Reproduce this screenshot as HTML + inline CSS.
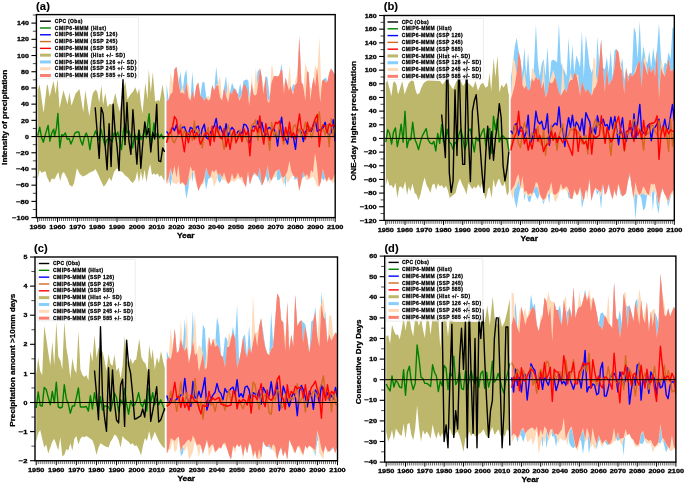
<!DOCTYPE html>
<html><head><meta charset="utf-8"><style>html,body{margin:0;padding:0;background:#fff;}svg{display:block;filter:blur(0.4px);}</style></head><body>
<svg width="685" height="484" viewBox="0 0 685 484" font-family='&quot;Liberation Sans&quot;, sans-serif'>
<rect width="685" height="484" fill="#fff"/>
<clipPath id="clipa"><rect x="36.4" y="14.6" width="298.8" height="203.0"/></clipPath>
<g clip-path="url(#clipa)">
<polygon points="37.7,89.6 37.8,89.6 39.6,84.5 43.6,113.0 46.9,85.2 47.7,84.5 49.6,96.9 53.5,80.8 55.6,94.0 57.6,78.6 59.5,108.6 63.4,90.3 67.5,104.2 69.4,92.5 71.5,105.7 75.4,94.0 79.4,88.9 83.3,112.2 85.3,90.3 89.3,116.6 92.0,97.2 93.1,92.8 95.9,89.4 97.5,92.8 99.2,102.7 101.4,85.0 103.1,105.0 105.3,92.8 107.5,107.2 109.8,103.8 112.5,105.0 115.3,92.8 117.5,103.8 119.7,111.6 122.0,93.9 125.3,81.7 127.5,99.4 130.8,93.9 133.1,91.6 135.3,87.2 137.5,93.9 139.2,88.3 140.8,102.7 142.5,113.8 145.3,82.8 147.5,99.4 148.8,68.9 150.8,92.8 152.8,72.2 155.2,101.6 158.6,100.0 159.7,101.6 162.5,84.4 164.6,98.6 164.6,180.6 163.2,178.8 161.3,175.1 159.5,176.9 157.6,173.2 155.7,175.1 153.9,173.2 152.0,175.1 150.2,163.9 148.3,171.3 146.4,182.5 144.6,169.5 142.7,180.6 140.9,171.3 139.0,182.5 137.2,171.3 135.4,179.3 132.7,183.1 130.8,181.2 128.0,177.5 125.2,175.6 122.4,171.9 119.6,171.0 116.9,168.2 114.1,171.9 111.3,181.2 109.4,177.5 106.6,183.1 103.8,186.8 101.1,181.2 98.3,174.7 95.5,169.1 93.6,171.0 90.8,171.9 88.0,173.8 85.3,175.6 82.5,176.6 79.7,173.8 76.9,168.2 74.1,183.1 72.2,186.8 69.5,184.9 67.6,179.3 65.7,175.6 63.9,171.9 62.0,173.8 60.2,181.2 58.3,171.9 56.4,175.6 54.6,179.3 51.8,178.4 49.9,183.1 47.2,177.5 45.3,171.0 43.4,171.9 41.6,172.8 39.7,170.1 37.7,179.2" fill="#bdb76b"/>
<polygon points="166.6,83.4 168.6,99.8 170.6,94.1 172.6,92.0 174.6,69.3 176.5,67.1 178.5,82.7 180.5,71.8 182.5,92.5 184.4,75.9 186.4,69.3 188.4,97.5 190.4,100.5 192.4,71.8 194.4,98.8 196.4,85.8 198.4,82.8 200.3,95.8 202.3,82.5 204.3,81.7 206.3,97.5 208.3,100.7 210.2,98.8 212.2,85.1 214.2,90.7 216.2,66.8 218.2,85.2 220.2,97.5 222.1,100.5 224.1,87.6 226.1,75.9 228.1,102.2 230.1,92.5 232.0,82.5 234.1,88.4 236.0,89.2 238.0,95.6 240.1,83.4 242.0,92.3 243.4,80.9 246.7,79.2 248.4,80.9 249.9,99.4 251.9,84.7 253.9,94.6 255.9,94.9 257.5,71.8 259.8,68.9 261.8,78.1 263.8,90.2 265.8,75.9 267.4,77.6 269.8,97.4 271.7,82.0 273.7,76.7 275.7,75.9 277.7,76.6 279.7,73.9 281.5,63.5 283.6,89.6 285.6,77.7 287.6,85.6 289.6,88.7 291.6,89.6 293.0,84.2 295.5,84.7 297.5,74.7 299.5,40.1 301.5,82.7 303.5,87.7 305.4,100.2 307.4,71.3 309.4,84.3 311.4,91.5 313.4,79.1 315.4,85.5 317.3,71.3 319.3,91.8 321.3,89.1 323.3,79.5 326.1,77.6 327.3,81.4 329.2,73.3 331.2,68.8 333.2,72.0 335.2,74.3 335.2,173.9 333.2,177.8 331.2,180.1 329.2,177.5 327.3,180.6 325.3,177.7 323.5,180.5 321.5,177.4 319.3,185.9 317.3,169.2 315.4,155.2 313.4,168.8 311.4,170.4 309.4,177.5 307.4,174.8 305.4,176.1 303.2,177.2 301.5,180.2 299.5,189.6 297.5,178.6 294.6,179.8 293.6,175.6 291.6,171.8 289.6,162.0 287.6,170.1 285.4,187.0 283.6,177.6 281.6,176.6 279.5,179.8 277.5,180.5 275.7,171.2 273.7,175.0 271.7,180.2 269.8,178.0 267.7,182.4 265.8,174.8 263.8,181.6 261.8,185.6 259.8,180.5 257.9,176.4 255.9,173.9 253.2,175.2 251.9,177.9 249.9,184.2 247.9,171.6 245.9,186.9 244.0,183.1 242.0,176.5 239.9,179.8 238.0,172.9 236.0,177.6 234.1,179.1 232.1,173.4 230.1,181.6 228.1,183.7 226.1,179.2 224.1,172.6 222.1,177.8 220.0,183.1 218.1,180.5 216.2,169.6 214.2,172.5 212.2,170.1 210.2,177.6 208.2,179.2 206.2,189.7 204.3,177.7 202.3,183.1 200.3,185.7 198.4,190.9 196.4,182.2 194.4,170.5 192.3,181.8 190.4,166.2 188.4,188.4 186.4,198.9 184.5,184.4 182.5,182.0 180.5,184.2 178.5,165.9 176.5,177.1 174.6,166.0 172.6,174.8 170.5,186.4 168.6,177.5 166.6,183.0" fill="#87cefa"/>
<polygon points="166.6,100.7 168.6,99.8 170.5,71.8 172.5,83.4 174.6,69.3 176.5,67.1 178.5,77.6 180.5,93.3 182.4,84.2 184.5,93.9 186.4,82.8 188.4,84.2 190.4,100.5 192.4,91.0 194.4,98.8 196.3,85.0 198.4,82.8 200.3,95.8 202.3,97.5 204.3,100.7 206.3,97.5 208.2,95.8 210.2,98.8 212.2,85.1 214.2,90.7 216.2,85.8 218.1,82.5 220.1,75.9 222.1,100.5 224.1,87.6 226.1,95.9 228.1,80.9 230.1,92.5 232.1,94.0 234.1,88.4 236.0,91.5 238.0,95.6 240.0,99.3 242.0,92.3 244.0,84.8 245.9,86.5 247.9,94.1 249.9,99.4 251.7,75.1 253.9,94.6 255.8,67.7 257.9,85.8 259.8,68.9 261.8,78.1 263.8,90.2 265.8,76.4 267.8,101.3 269.8,97.4 271.5,65.2 272.4,66.0 273.7,76.7 275.7,75.9 277.7,76.6 279.7,73.9 281.6,70.0 283.6,89.6 285.6,77.7 287.6,85.6 289.7,65.2 291.6,89.6 293.6,92.1 295.5,79.2 297.5,74.7 299.5,40.1 301.5,82.7 303.5,87.7 305.4,61.9 307.4,71.3 309.4,84.3 311.4,91.5 313.4,79.1 315.3,64.4 317.3,71.3 319.5,37.1 321.3,89.1 323.3,79.5 325.3,81.5 327.3,81.4 329.2,73.3 331.2,68.8 333.2,72.0 335.2,74.3 335.2,181.8 334.7,181.8 333.2,182.8 332.7,183.1 331.2,181.1 330.7,180.5 329.2,179.5 328.8,179.2 327.3,181.2 326.8,181.8 325.3,180.8 324.8,176.5 323.3,170.4 322.9,168.6 321.3,179.0 320.9,181.8 319.3,185.9 318.9,187.0 317.3,186.0 316.9,185.7 315.4,181.5 315.0,180.5 313.4,177.3 313.0,176.5 311.4,177.6 311.0,177.8 309.4,178.9 309.1,179.2 307.4,180.2 307.1,180.5 305.4,178.3 305.1,177.8 303.5,172.1 303.2,171.3 301.5,182.3 301.2,183.1 299.5,189.8 299.2,191.0 297.5,178.6 297.2,176.5 295.5,177.7 295.3,177.8 293.6,175.6 293.3,175.2 291.6,177.0 291.3,176.5 289.6,180.0 289.4,180.5 287.6,182.8 287.4,183.1 285.6,174.8 285.4,175.2 283.6,184.7 283.4,184.4 281.6,179.6 281.5,179.2 279.7,169.9 279.5,169.3 277.7,169.9 277.5,170.0 275.7,178.0 275.6,177.8 273.7,176.6 273.6,176.5 271.7,180.2 271.6,180.5 269.8,184.2 269.6,184.4 267.8,165.9 267.7,165.4 265.8,176.7 265.7,176.5 263.8,181.6 263.7,181.8 261.8,185.6 261.8,185.7 259.8,167.7 259.8,167.3 257.9,176.5 257.8,176.5 255.9,176.5 255.9,176.5 253.9,172.6 253.9,172.6 251.9,177.8 251.9,177.9 249.9,184.4 249.9,184.3 248.0,172.6 247.9,172.9 245.9,186.9 245.9,187.0 244.0,183.1 244.0,183.1 242.0,181.8 242.0,181.8 240.0,177.8 239.9,177.8 238.0,178.5 237.9,178.5 236.0,180.4 235.9,180.5 234.1,181.7 234.0,181.8 232.1,180.5 232.0,180.5 230.1,182.4 230.0,182.4 228.1,184.4 228.1,184.4 226.1,181.8 226.1,181.8 224.1,179.2 224.1,179.2 222.1,180.5 222.1,180.5 220.2,173.5 220.0,173.2 218.2,175.1 218.1,175.2 216.2,181.9 216.1,181.8 214.2,186.8 214.1,187.0 212.2,178.2 212.2,177.8 210.2,177.8 210.2,177.8 208.3,174.0 208.2,173.9 206.3,167.5 206.2,167.3 204.3,183.2 204.3,183.1 202.3,184.4 202.3,184.4 200.3,187.0 200.3,187.1 198.4,191.0 198.4,190.9 196.4,183.5 196.3,183.1 194.4,178.1 194.3,177.8 192.4,171.2 192.3,171.3 190.4,181.8 190.4,181.8 188.4,177.5 188.4,177.8 186.4,185.6 186.4,185.7 184.5,185.3 184.4,185.1 182.5,183.2 182.3,183.1 180.5,184.3 180.4,184.4 178.5,182.0 178.4,181.8 176.5,184.3 176.4,184.4 174.6,183.2 174.5,183.1 172.6,183.1 172.5,183.1 170.6,168.3 170.5,168.0 168.6,183.2 168.5,183.1 166.6,184.4" fill="#ffdab9"/>
<polygon points="166.6,100.7 168.6,99.9 170.5,94.1 172.5,92.5 174.5,69.3 176.5,66.8 178.5,82.5 180.5,93.3 182.4,92.5 184.4,94.1 186.4,82.5 188.4,97.4 190.4,100.7 192.4,90.8 194.3,99.1 196.3,85.9 198.3,82.5 200.3,95.8 202.3,97.4 204.3,100.7 206.2,97.4 208.2,100.7 210.2,99.1 212.2,85.0 214.2,90.8 216.2,85.9 218.1,85.0 220.1,97.4 222.1,100.7 224.1,87.5 226.1,95.8 228.1,102.4 230.0,92.5 232.0,94.1 234.0,88.3 237.7,94.1 239.3,100.7 241.0,97.4 243.4,85.0 245.1,84.2 247.6,90.8 249.2,105.7 251.7,83.4 253.4,94.1 255.0,95.8 256.7,94.1 258.3,82.5 260.0,67.7 261.6,75.9 263.3,94.1 265.8,75.9 267.4,100.7 269.1,103.2 271.5,82.5 274.0,75.9 275.7,75.9 277.3,76.8 279.0,75.9 280.6,71.0 282.3,69.3 283.9,94.1 285.6,77.6 287.2,84.2 288.9,90.8 290.5,85.9 293.0,94.9 294.7,85.9 297.2,82.5 299.3,35.4 301.3,82.5 302.9,84.2 305.4,100.7 307.1,71.0 308.7,72.6 310.4,100.7 312.0,85.9 313.7,77.6 315.3,85.9 317.0,67.7 318.6,84.2 320.3,102.4 322.0,80.9 323.6,79.2 326.1,82.5 327.7,80.9 329.4,72.6 331.0,68.5 332.7,71.0 334.3,74.3 335.2,74.3 335.2,173.9 334.7,173.9 332.7,179.2 330.7,180.5 328.8,176.5 326.8,181.8 324.8,176.5 322.9,168.6 320.9,181.8 318.9,187.0 316.9,164.7 315.0,152.9 313.0,172.6 311.0,170.0 309.1,179.2 307.1,173.9 305.1,176.5 303.2,171.3 301.2,181.8 299.2,191.0 297.2,176.5 295.3,177.8 293.3,175.2 291.3,171.3 289.4,160.8 287.4,171.3 285.4,175.2 283.4,177.8 281.5,176.5 279.5,169.3 277.5,170.0 275.6,171.3 273.6,175.2 271.6,180.5 269.6,177.8 267.7,165.4 265.7,175.2 263.7,181.8 261.8,185.7 259.8,167.3 257.8,176.5 255.9,173.9 253.9,172.6 251.9,177.8 249.9,184.4 248.0,171.3 245.9,187.0 244.0,183.1 242.0,176.5 239.9,177.8 237.9,172.6 235.9,177.8 234.0,179.2 232.0,173.2 230.0,181.8 228.1,183.8 226.1,179.2 224.1,172.6 222.1,177.8 220.0,173.2 218.1,175.2 216.1,169.3 214.1,172.6 212.2,170.0 210.2,177.8 208.2,173.9 206.2,167.3 204.3,177.8 202.3,183.1 200.3,185.7 198.4,191.0 196.3,181.8 194.3,170.0 192.3,171.3 190.4,166.0 188.4,177.8 186.4,185.7 184.4,184.4 182.3,181.8 180.4,184.4 178.4,164.7 176.4,177.8 174.5,165.4 172.5,175.2 170.5,168.0 168.5,177.8 166.6,183.0" fill="#fa8072"/>
<polyline points="37.7,135.6 39.7,127.3 41.6,137.5 43.4,142.2 45.3,134.7 48.1,125.4 49.9,141.2 51.8,132.9 53.7,129.2 54.6,136.6 56.4,128.2 57.9,113.4 59.8,147.8 61.7,134.7 63.5,135.7 65.4,132.9 67.2,139.4 69.1,138.5 70.9,144.0 72.8,139.4 75.0,132.9 76.9,132.0 78.8,132.0 80.6,140.3 82.5,145.0 84.3,137.5 86.2,132.9 88.0,137.5 89.9,149.6 91.8,136.6 93.6,136.6 95.5,131.0 97.3,135.7 99.2,140.3 101.1,129.2 102.9,137.5 104.8,145.0 106.6,140.3 108.5,138.5 110.3,139.4 112.2,142.2 114.1,132.9 115.9,136.6 117.8,132.0 119.6,140.3 121.5,149.6 123.4,131.0 125.2,123.6 127.1,132.9 128.9,131.0 130.8,136.6 132.7,147.8 134.5,134.7 137.2,139.7 139.0,130.4 140.9,139.7 142.7,136.0 144.6,128.6 146.4,137.9 148.3,119.3 149.2,113.7 151.1,145.3 153.0,132.3 153.9,123.0 155.7,136.0 157.6,133.2 159.5,137.9 161.3,134.2 163.2,138.8 164.6,136.1" fill="none" stroke="#008000" stroke-width="1.4" stroke-opacity="1.0" stroke-linejoin="round"/>
<polyline points="166.6,131.3 168.6,134.5 170.6,131.3 172.5,127.4 174.5,130.6 176.5,124.8 178.5,133.8 180.5,130.0 182.5,127.4 184.4,126.8 186.4,132.6 188.4,134.5 190.4,127.4 192.4,128.7 194.4,132.6 196.3,127.4 198.3,126.1 200.3,137.7 202.3,128.7 204.3,124.2 206.3,137.7 208.2,139.0 210.2,132.6 212.2,130.0 214.2,126.1 216.2,118.4 218.2,131.3 220.1,126.1 222.1,131.3 224.1,135.1 226.1,123.6 228.1,136.4 230.1,130.6 232.0,127.4 234.0,130.0 236.0,135.1 238.0,131.3 240.0,131.3 242.0,133.8 243.9,124.2 245.9,124.8 247.9,128.7 249.9,142.8 251.9,127.4 253.9,126.1 255.8,127.4 257.8,121.0 259.8,130.0 261.8,122.3 263.8,131.3 265.8,135.1 267.7,128.7 269.7,127.4 271.7,130.0 273.7,128.7 275.7,132.6 277.6,146.0 279.6,128.7 281.6,117.1 283.6,135.1 285.6,139.0 287.6,144.1 289.5,128.7 291.5,135.1 293.5,137.7 295.5,149.3 297.5,130.0 299.5,130.0 301.4,132.6 303.4,141.5 305.4,131.3 307.4,131.3 309.4,127.4 311.4,131.3 313.3,124.8 315.3,119.7 317.3,131.3 319.3,130.0 321.3,130.0 323.3,127.4 325.2,122.3 327.2,132.6 329.2,135.1 331.2,132.6 333.2,119.7 335.2,141.5 335.2,141.5" fill="none" stroke="#0000ff" stroke-width="1.4" stroke-opacity="1.0" stroke-linejoin="round"/>
<polyline points="166.6,141.5 168.6,139.0 170.6,128.7 172.5,140.3 174.5,142.8 176.5,137.7 178.5,133.8 180.5,124.8 182.5,137.7 184.4,130.0 186.4,137.7 188.4,132.6 190.4,133.8 192.4,140.3 194.4,121.0 196.3,137.7 198.3,130.0 200.3,133.8 202.3,148.0 204.3,132.6 206.3,133.8 208.2,127.4 210.2,141.5 212.2,133.8 214.2,140.3 216.2,131.3 218.2,128.7 220.1,135.1 222.1,137.7 224.1,149.3 226.1,139.0 228.1,124.8 230.1,131.3 232.0,141.5 234.0,133.8 236.0,132.6 238.0,139.0 240.0,130.0 242.0,141.5 243.9,135.1 245.9,137.7 247.9,142.8 249.9,137.7 251.9,124.8 253.9,123.6 255.8,119.7 257.8,140.3 259.8,128.7 261.8,132.6 263.8,137.7 265.8,128.7 267.7,136.4 269.7,150.5 271.7,122.3 273.7,136.4 275.7,131.3 277.6,137.7 279.6,124.8 281.6,135.1 283.6,144.1 285.6,131.3 287.6,137.7 289.5,127.4 291.5,136.4 293.5,126.1 295.5,124.8 297.5,133.8 299.5,128.7 301.4,136.4 303.4,131.3 305.4,122.3 307.4,135.1 309.4,126.1 311.4,137.7 313.3,132.6 315.3,119.7 317.3,122.3 319.3,112.0 321.3,131.3 323.3,128.7 325.2,135.1 327.2,124.8 329.2,146.7 331.2,118.4 333.2,136.4 335.2,124.8 335.2,124.8" fill="none" stroke="#d2691e" stroke-width="1.4" stroke-opacity="1.0" stroke-linejoin="round"/>
<polyline points="166.6,142.8 168.6,133.8 170.6,132.6 172.5,127.4 174.5,116.5 176.5,119.7 178.5,133.8 180.5,130.0 182.5,140.3 184.4,151.8 186.4,132.6 188.4,142.8 190.4,132.6 192.4,130.0 194.4,139.0 196.3,132.6 198.3,135.1 200.3,144.1 202.3,140.3 204.3,135.1 206.3,132.6 208.2,133.8 210.2,145.4 212.2,126.1 214.2,141.5 216.2,125.5 218.2,132.6 220.1,137.7 222.1,139.0 224.1,128.7 226.1,146.7 228.1,137.7 230.1,149.3 232.0,135.1 234.0,130.0 236.0,142.8 238.0,137.7 240.0,132.6 242.0,141.5 243.9,128.7 245.9,135.1 247.9,131.3 249.9,155.7 251.9,130.0 253.9,131.3 255.8,126.1 257.8,132.6 259.8,115.9 261.8,133.8 263.8,144.1 265.8,123.6 267.7,132.6 269.7,140.3 271.7,131.3 273.7,128.7 275.7,122.3 277.6,123.6 279.6,121.0 281.6,132.6 283.6,140.3 285.6,127.4 287.6,135.1 289.5,122.3 291.5,137.7 293.5,132.6 295.5,139.0 297.5,127.4 299.5,113.9 301.4,128.7 303.4,131.3 305.4,139.0 307.4,122.3 309.4,131.3 311.4,130.0 313.3,124.8 315.3,118.4 317.3,114.6 319.3,146.7 321.3,128.7 323.3,124.8 325.2,126.1 327.2,132.6 329.2,123.6 331.2,126.1 333.2,124.8 335.2,126.1 335.2,126.1" fill="none" stroke="#ff0000" stroke-width="1.4" stroke-opacity="1.0" stroke-linejoin="round"/>
<polyline points="95.2,107.4 97.2,132.5 99.2,158.4 101.2,107.4 103.2,113.9 105.1,144.7 107.1,169.8 109.1,123.6 111.1,166.5 113.1,104.1 115.0,130.1 117.0,146.3 119.0,170.6 121.0,120.4 123.0,79.8 125.0,144.7 127.0,102.5 128.9,140.6 130.9,154.4 132.9,109.8 134.9,138.2 136.9,164.1 138.9,130.1 140.8,168.2 142.8,143.0 144.8,122.0 146.8,134.9 148.8,128.5 150.8,152.0 152.7,132.5 154.7,139.0 156.7,104.1 158.7,160.9 160.7,161.7 162.7,147.9 164.6,152.0" fill="none" stroke="#000000" stroke-width="1.4" stroke-opacity="1.0" stroke-linejoin="round"/>
<line x1="36.4" x2="335.2" y1="136.6" y2="136.6" stroke="#000" stroke-width="1"/>
</g>
<line x1="31.4" x2="36.4" y1="217.60" y2="217.60" stroke="#000" stroke-width="1.1"/>
<text x="28.90" y="219.75" font-size="6.10" font-weight="bold" text-anchor="end" textLength="16.6" lengthAdjust="spacingAndGlyphs" stroke="#000" stroke-width="0.30" >−100</text>
<line x1="32.8" x2="36.4" y1="209.50" y2="209.50" stroke="#000" stroke-width="0.7"/>
<line x1="31.4" x2="36.4" y1="201.39" y2="201.39" stroke="#000" stroke-width="1.1"/>
<text x="28.90" y="203.54" font-size="6.10" font-weight="bold" text-anchor="end" textLength="12.7" lengthAdjust="spacingAndGlyphs" stroke="#000" stroke-width="0.30" >−80</text>
<line x1="32.8" x2="36.4" y1="193.29" y2="193.29" stroke="#000" stroke-width="0.7"/>
<line x1="31.4" x2="36.4" y1="185.18" y2="185.18" stroke="#000" stroke-width="1.1"/>
<text x="28.90" y="187.33" font-size="6.10" font-weight="bold" text-anchor="end" textLength="12.7" lengthAdjust="spacingAndGlyphs" stroke="#000" stroke-width="0.30" >−60</text>
<line x1="32.8" x2="36.4" y1="177.08" y2="177.08" stroke="#000" stroke-width="0.7"/>
<line x1="31.4" x2="36.4" y1="168.98" y2="168.98" stroke="#000" stroke-width="1.1"/>
<text x="28.90" y="171.13" font-size="6.10" font-weight="bold" text-anchor="end" textLength="12.7" lengthAdjust="spacingAndGlyphs" stroke="#000" stroke-width="0.30" >−40</text>
<line x1="32.8" x2="36.4" y1="160.87" y2="160.87" stroke="#000" stroke-width="0.7"/>
<line x1="31.4" x2="36.4" y1="152.77" y2="152.77" stroke="#000" stroke-width="1.1"/>
<text x="28.90" y="154.92" font-size="6.10" font-weight="bold" text-anchor="end" textLength="12.7" lengthAdjust="spacingAndGlyphs" stroke="#000" stroke-width="0.30" >−20</text>
<line x1="32.8" x2="36.4" y1="144.67" y2="144.67" stroke="#000" stroke-width="0.7"/>
<line x1="31.4" x2="36.4" y1="136.56" y2="136.56" stroke="#000" stroke-width="1.1"/>
<text x="28.90" y="138.71" font-size="6.10" font-weight="bold" text-anchor="end" textLength="3.9" lengthAdjust="spacingAndGlyphs" stroke="#000" stroke-width="0.30" >0</text>
<line x1="32.8" x2="36.4" y1="128.46" y2="128.46" stroke="#000" stroke-width="0.7"/>
<line x1="31.4" x2="36.4" y1="120.35" y2="120.35" stroke="#000" stroke-width="1.1"/>
<text x="28.90" y="122.50" font-size="6.10" font-weight="bold" text-anchor="end" textLength="7.9" lengthAdjust="spacingAndGlyphs" stroke="#000" stroke-width="0.30" >20</text>
<line x1="32.8" x2="36.4" y1="112.25" y2="112.25" stroke="#000" stroke-width="0.7"/>
<line x1="31.4" x2="36.4" y1="104.15" y2="104.15" stroke="#000" stroke-width="1.1"/>
<text x="28.90" y="106.30" font-size="6.10" font-weight="bold" text-anchor="end" textLength="7.9" lengthAdjust="spacingAndGlyphs" stroke="#000" stroke-width="0.30" >40</text>
<line x1="32.8" x2="36.4" y1="96.04" y2="96.04" stroke="#000" stroke-width="0.7"/>
<line x1="31.4" x2="36.4" y1="87.94" y2="87.94" stroke="#000" stroke-width="1.1"/>
<text x="28.90" y="90.09" font-size="6.10" font-weight="bold" text-anchor="end" textLength="7.9" lengthAdjust="spacingAndGlyphs" stroke="#000" stroke-width="0.30" >60</text>
<line x1="32.8" x2="36.4" y1="79.84" y2="79.84" stroke="#000" stroke-width="0.7"/>
<line x1="31.4" x2="36.4" y1="71.73" y2="71.73" stroke="#000" stroke-width="1.1"/>
<text x="28.90" y="73.88" font-size="6.10" font-weight="bold" text-anchor="end" textLength="7.9" lengthAdjust="spacingAndGlyphs" stroke="#000" stroke-width="0.30" >80</text>
<line x1="32.8" x2="36.4" y1="63.63" y2="63.63" stroke="#000" stroke-width="0.7"/>
<line x1="31.4" x2="36.4" y1="55.52" y2="55.52" stroke="#000" stroke-width="1.1"/>
<text x="28.90" y="57.67" font-size="6.10" font-weight="bold" text-anchor="end" textLength="11.8" lengthAdjust="spacingAndGlyphs" stroke="#000" stroke-width="0.30" >100</text>
<line x1="32.8" x2="36.4" y1="47.42" y2="47.42" stroke="#000" stroke-width="0.7"/>
<line x1="31.4" x2="36.4" y1="39.32" y2="39.32" stroke="#000" stroke-width="1.1"/>
<text x="28.90" y="41.47" font-size="6.10" font-weight="bold" text-anchor="end" textLength="11.8" lengthAdjust="spacingAndGlyphs" stroke="#000" stroke-width="0.30" >120</text>
<line x1="32.8" x2="36.4" y1="31.21" y2="31.21" stroke="#000" stroke-width="0.7"/>
<line x1="31.4" x2="36.4" y1="23.11" y2="23.11" stroke="#000" stroke-width="1.1"/>
<text x="28.90" y="25.26" font-size="6.10" font-weight="bold" text-anchor="end" textLength="11.8" lengthAdjust="spacingAndGlyphs" stroke="#000" stroke-width="0.30" >140</text>
<line x1="32.8" x2="36.4" y1="15.01" y2="15.01" stroke="#000" stroke-width="0.7"/>
<line x1="37.70" x2="37.70" y1="217.6" y2="222.1" stroke="#000" stroke-width="1.0"/>
<text x="37.70" y="228.70" font-size="6.10" font-weight="bold" text-anchor="middle" textLength="16.3" lengthAdjust="spacingAndGlyphs" stroke="#000" stroke-width="0.30" >1950</text>
<line x1="39.68" x2="39.68" y1="217.6" y2="221.0" stroke="#000" stroke-width="0.6"/>
<line x1="41.67" x2="41.67" y1="217.6" y2="221.0" stroke="#000" stroke-width="0.6"/>
<line x1="43.65" x2="43.65" y1="217.6" y2="221.0" stroke="#000" stroke-width="0.6"/>
<line x1="45.63" x2="45.63" y1="217.6" y2="221.0" stroke="#000" stroke-width="0.6"/>
<line x1="47.62" x2="47.62" y1="217.6" y2="221.0" stroke="#000" stroke-width="0.6"/>
<line x1="49.60" x2="49.60" y1="217.6" y2="221.0" stroke="#000" stroke-width="0.6"/>
<line x1="51.58" x2="51.58" y1="217.6" y2="221.0" stroke="#000" stroke-width="0.6"/>
<line x1="53.57" x2="53.57" y1="217.6" y2="221.0" stroke="#000" stroke-width="0.6"/>
<line x1="55.55" x2="55.55" y1="217.6" y2="221.0" stroke="#000" stroke-width="0.6"/>
<line x1="57.53" x2="57.53" y1="217.6" y2="222.1" stroke="#000" stroke-width="1.0"/>
<text x="57.53" y="228.70" font-size="6.10" font-weight="bold" text-anchor="middle" textLength="16.3" lengthAdjust="spacingAndGlyphs" stroke="#000" stroke-width="0.30" >1960</text>
<line x1="59.52" x2="59.52" y1="217.6" y2="221.0" stroke="#000" stroke-width="0.6"/>
<line x1="61.50" x2="61.50" y1="217.6" y2="221.0" stroke="#000" stroke-width="0.6"/>
<line x1="63.48" x2="63.48" y1="217.6" y2="221.0" stroke="#000" stroke-width="0.6"/>
<line x1="65.47" x2="65.47" y1="217.6" y2="221.0" stroke="#000" stroke-width="0.6"/>
<line x1="67.45" x2="67.45" y1="217.6" y2="221.0" stroke="#000" stroke-width="0.6"/>
<line x1="69.43" x2="69.43" y1="217.6" y2="221.0" stroke="#000" stroke-width="0.6"/>
<line x1="71.42" x2="71.42" y1="217.6" y2="221.0" stroke="#000" stroke-width="0.6"/>
<line x1="73.40" x2="73.40" y1="217.6" y2="221.0" stroke="#000" stroke-width="0.6"/>
<line x1="75.38" x2="75.38" y1="217.6" y2="221.0" stroke="#000" stroke-width="0.6"/>
<line x1="77.37" x2="77.37" y1="217.6" y2="222.1" stroke="#000" stroke-width="1.0"/>
<text x="77.37" y="228.70" font-size="6.10" font-weight="bold" text-anchor="middle" textLength="16.3" lengthAdjust="spacingAndGlyphs" stroke="#000" stroke-width="0.30" >1970</text>
<line x1="79.35" x2="79.35" y1="217.6" y2="221.0" stroke="#000" stroke-width="0.6"/>
<line x1="81.33" x2="81.33" y1="217.6" y2="221.0" stroke="#000" stroke-width="0.6"/>
<line x1="83.32" x2="83.32" y1="217.6" y2="221.0" stroke="#000" stroke-width="0.6"/>
<line x1="85.30" x2="85.30" y1="217.6" y2="221.0" stroke="#000" stroke-width="0.6"/>
<line x1="87.28" x2="87.28" y1="217.6" y2="221.0" stroke="#000" stroke-width="0.6"/>
<line x1="89.27" x2="89.27" y1="217.6" y2="221.0" stroke="#000" stroke-width="0.6"/>
<line x1="91.25" x2="91.25" y1="217.6" y2="221.0" stroke="#000" stroke-width="0.6"/>
<line x1="93.23" x2="93.23" y1="217.6" y2="221.0" stroke="#000" stroke-width="0.6"/>
<line x1="95.22" x2="95.22" y1="217.6" y2="221.0" stroke="#000" stroke-width="0.6"/>
<line x1="97.20" x2="97.20" y1="217.6" y2="222.1" stroke="#000" stroke-width="1.0"/>
<text x="97.20" y="228.70" font-size="6.10" font-weight="bold" text-anchor="middle" textLength="16.3" lengthAdjust="spacingAndGlyphs" stroke="#000" stroke-width="0.30" >1980</text>
<line x1="99.18" x2="99.18" y1="217.6" y2="221.0" stroke="#000" stroke-width="0.6"/>
<line x1="101.17" x2="101.17" y1="217.6" y2="221.0" stroke="#000" stroke-width="0.6"/>
<line x1="103.15" x2="103.15" y1="217.6" y2="221.0" stroke="#000" stroke-width="0.6"/>
<line x1="105.13" x2="105.13" y1="217.6" y2="221.0" stroke="#000" stroke-width="0.6"/>
<line x1="107.12" x2="107.12" y1="217.6" y2="221.0" stroke="#000" stroke-width="0.6"/>
<line x1="109.10" x2="109.10" y1="217.6" y2="221.0" stroke="#000" stroke-width="0.6"/>
<line x1="111.08" x2="111.08" y1="217.6" y2="221.0" stroke="#000" stroke-width="0.6"/>
<line x1="113.07" x2="113.07" y1="217.6" y2="221.0" stroke="#000" stroke-width="0.6"/>
<line x1="115.05" x2="115.05" y1="217.6" y2="221.0" stroke="#000" stroke-width="0.6"/>
<line x1="117.03" x2="117.03" y1="217.6" y2="222.1" stroke="#000" stroke-width="1.0"/>
<text x="117.03" y="228.70" font-size="6.10" font-weight="bold" text-anchor="middle" textLength="16.3" lengthAdjust="spacingAndGlyphs" stroke="#000" stroke-width="0.30" >1990</text>
<line x1="119.02" x2="119.02" y1="217.6" y2="221.0" stroke="#000" stroke-width="0.6"/>
<line x1="121.00" x2="121.00" y1="217.6" y2="221.0" stroke="#000" stroke-width="0.6"/>
<line x1="122.98" x2="122.98" y1="217.6" y2="221.0" stroke="#000" stroke-width="0.6"/>
<line x1="124.97" x2="124.97" y1="217.6" y2="221.0" stroke="#000" stroke-width="0.6"/>
<line x1="126.95" x2="126.95" y1="217.6" y2="221.0" stroke="#000" stroke-width="0.6"/>
<line x1="128.93" x2="128.93" y1="217.6" y2="221.0" stroke="#000" stroke-width="0.6"/>
<line x1="130.92" x2="130.92" y1="217.6" y2="221.0" stroke="#000" stroke-width="0.6"/>
<line x1="132.90" x2="132.90" y1="217.6" y2="221.0" stroke="#000" stroke-width="0.6"/>
<line x1="134.88" x2="134.88" y1="217.6" y2="221.0" stroke="#000" stroke-width="0.6"/>
<line x1="136.87" x2="136.87" y1="217.6" y2="222.1" stroke="#000" stroke-width="1.0"/>
<text x="136.87" y="228.70" font-size="6.10" font-weight="bold" text-anchor="middle" textLength="16.3" lengthAdjust="spacingAndGlyphs" stroke="#000" stroke-width="0.30" >2000</text>
<line x1="138.85" x2="138.85" y1="217.6" y2="221.0" stroke="#000" stroke-width="0.6"/>
<line x1="140.83" x2="140.83" y1="217.6" y2="221.0" stroke="#000" stroke-width="0.6"/>
<line x1="142.82" x2="142.82" y1="217.6" y2="221.0" stroke="#000" stroke-width="0.6"/>
<line x1="144.80" x2="144.80" y1="217.6" y2="221.0" stroke="#000" stroke-width="0.6"/>
<line x1="146.78" x2="146.78" y1="217.6" y2="221.0" stroke="#000" stroke-width="0.6"/>
<line x1="148.77" x2="148.77" y1="217.6" y2="221.0" stroke="#000" stroke-width="0.6"/>
<line x1="150.75" x2="150.75" y1="217.6" y2="221.0" stroke="#000" stroke-width="0.6"/>
<line x1="152.73" x2="152.73" y1="217.6" y2="221.0" stroke="#000" stroke-width="0.6"/>
<line x1="154.72" x2="154.72" y1="217.6" y2="221.0" stroke="#000" stroke-width="0.6"/>
<line x1="156.70" x2="156.70" y1="217.6" y2="222.1" stroke="#000" stroke-width="1.0"/>
<text x="156.70" y="228.70" font-size="6.10" font-weight="bold" text-anchor="middle" textLength="16.3" lengthAdjust="spacingAndGlyphs" stroke="#000" stroke-width="0.30" >2010</text>
<line x1="158.68" x2="158.68" y1="217.6" y2="221.0" stroke="#000" stroke-width="0.6"/>
<line x1="160.67" x2="160.67" y1="217.6" y2="221.0" stroke="#000" stroke-width="0.6"/>
<line x1="162.65" x2="162.65" y1="217.6" y2="221.0" stroke="#000" stroke-width="0.6"/>
<line x1="164.63" x2="164.63" y1="217.6" y2="221.0" stroke="#000" stroke-width="0.6"/>
<line x1="166.62" x2="166.62" y1="217.6" y2="221.0" stroke="#000" stroke-width="0.6"/>
<line x1="168.60" x2="168.60" y1="217.6" y2="221.0" stroke="#000" stroke-width="0.6"/>
<line x1="170.58" x2="170.58" y1="217.6" y2="221.0" stroke="#000" stroke-width="0.6"/>
<line x1="172.57" x2="172.57" y1="217.6" y2="221.0" stroke="#000" stroke-width="0.6"/>
<line x1="174.55" x2="174.55" y1="217.6" y2="221.0" stroke="#000" stroke-width="0.6"/>
<line x1="176.53" x2="176.53" y1="217.6" y2="222.1" stroke="#000" stroke-width="1.0"/>
<text x="176.53" y="228.70" font-size="6.10" font-weight="bold" text-anchor="middle" textLength="16.3" lengthAdjust="spacingAndGlyphs" stroke="#000" stroke-width="0.30" >2020</text>
<line x1="178.52" x2="178.52" y1="217.6" y2="221.0" stroke="#000" stroke-width="0.6"/>
<line x1="180.50" x2="180.50" y1="217.6" y2="221.0" stroke="#000" stroke-width="0.6"/>
<line x1="182.48" x2="182.48" y1="217.6" y2="221.0" stroke="#000" stroke-width="0.6"/>
<line x1="184.47" x2="184.47" y1="217.6" y2="221.0" stroke="#000" stroke-width="0.6"/>
<line x1="186.45" x2="186.45" y1="217.6" y2="221.0" stroke="#000" stroke-width="0.6"/>
<line x1="188.43" x2="188.43" y1="217.6" y2="221.0" stroke="#000" stroke-width="0.6"/>
<line x1="190.42" x2="190.42" y1="217.6" y2="221.0" stroke="#000" stroke-width="0.6"/>
<line x1="192.40" x2="192.40" y1="217.6" y2="221.0" stroke="#000" stroke-width="0.6"/>
<line x1="194.38" x2="194.38" y1="217.6" y2="221.0" stroke="#000" stroke-width="0.6"/>
<line x1="196.37" x2="196.37" y1="217.6" y2="222.1" stroke="#000" stroke-width="1.0"/>
<text x="196.37" y="228.70" font-size="6.10" font-weight="bold" text-anchor="middle" textLength="16.3" lengthAdjust="spacingAndGlyphs" stroke="#000" stroke-width="0.30" >2030</text>
<line x1="198.35" x2="198.35" y1="217.6" y2="221.0" stroke="#000" stroke-width="0.6"/>
<line x1="200.33" x2="200.33" y1="217.6" y2="221.0" stroke="#000" stroke-width="0.6"/>
<line x1="202.32" x2="202.32" y1="217.6" y2="221.0" stroke="#000" stroke-width="0.6"/>
<line x1="204.30" x2="204.30" y1="217.6" y2="221.0" stroke="#000" stroke-width="0.6"/>
<line x1="206.28" x2="206.28" y1="217.6" y2="221.0" stroke="#000" stroke-width="0.6"/>
<line x1="208.27" x2="208.27" y1="217.6" y2="221.0" stroke="#000" stroke-width="0.6"/>
<line x1="210.25" x2="210.25" y1="217.6" y2="221.0" stroke="#000" stroke-width="0.6"/>
<line x1="212.23" x2="212.23" y1="217.6" y2="221.0" stroke="#000" stroke-width="0.6"/>
<line x1="214.22" x2="214.22" y1="217.6" y2="221.0" stroke="#000" stroke-width="0.6"/>
<line x1="216.20" x2="216.20" y1="217.6" y2="222.1" stroke="#000" stroke-width="1.0"/>
<text x="216.20" y="228.70" font-size="6.10" font-weight="bold" text-anchor="middle" textLength="16.3" lengthAdjust="spacingAndGlyphs" stroke="#000" stroke-width="0.30" >2040</text>
<line x1="218.18" x2="218.18" y1="217.6" y2="221.0" stroke="#000" stroke-width="0.6"/>
<line x1="220.17" x2="220.17" y1="217.6" y2="221.0" stroke="#000" stroke-width="0.6"/>
<line x1="222.15" x2="222.15" y1="217.6" y2="221.0" stroke="#000" stroke-width="0.6"/>
<line x1="224.13" x2="224.13" y1="217.6" y2="221.0" stroke="#000" stroke-width="0.6"/>
<line x1="226.12" x2="226.12" y1="217.6" y2="221.0" stroke="#000" stroke-width="0.6"/>
<line x1="228.10" x2="228.10" y1="217.6" y2="221.0" stroke="#000" stroke-width="0.6"/>
<line x1="230.08" x2="230.08" y1="217.6" y2="221.0" stroke="#000" stroke-width="0.6"/>
<line x1="232.07" x2="232.07" y1="217.6" y2="221.0" stroke="#000" stroke-width="0.6"/>
<line x1="234.05" x2="234.05" y1="217.6" y2="221.0" stroke="#000" stroke-width="0.6"/>
<line x1="236.03" x2="236.03" y1="217.6" y2="222.1" stroke="#000" stroke-width="1.0"/>
<text x="236.03" y="228.70" font-size="6.10" font-weight="bold" text-anchor="middle" textLength="16.3" lengthAdjust="spacingAndGlyphs" stroke="#000" stroke-width="0.30" >2050</text>
<line x1="238.02" x2="238.02" y1="217.6" y2="221.0" stroke="#000" stroke-width="0.6"/>
<line x1="240.00" x2="240.00" y1="217.6" y2="221.0" stroke="#000" stroke-width="0.6"/>
<line x1="241.98" x2="241.98" y1="217.6" y2="221.0" stroke="#000" stroke-width="0.6"/>
<line x1="243.97" x2="243.97" y1="217.6" y2="221.0" stroke="#000" stroke-width="0.6"/>
<line x1="245.95" x2="245.95" y1="217.6" y2="221.0" stroke="#000" stroke-width="0.6"/>
<line x1="247.93" x2="247.93" y1="217.6" y2="221.0" stroke="#000" stroke-width="0.6"/>
<line x1="249.92" x2="249.92" y1="217.6" y2="221.0" stroke="#000" stroke-width="0.6"/>
<line x1="251.90" x2="251.90" y1="217.6" y2="221.0" stroke="#000" stroke-width="0.6"/>
<line x1="253.88" x2="253.88" y1="217.6" y2="221.0" stroke="#000" stroke-width="0.6"/>
<line x1="255.87" x2="255.87" y1="217.6" y2="222.1" stroke="#000" stroke-width="1.0"/>
<text x="255.87" y="228.70" font-size="6.10" font-weight="bold" text-anchor="middle" textLength="16.3" lengthAdjust="spacingAndGlyphs" stroke="#000" stroke-width="0.30" >2060</text>
<line x1="257.85" x2="257.85" y1="217.6" y2="221.0" stroke="#000" stroke-width="0.6"/>
<line x1="259.83" x2="259.83" y1="217.6" y2="221.0" stroke="#000" stroke-width="0.6"/>
<line x1="261.82" x2="261.82" y1="217.6" y2="221.0" stroke="#000" stroke-width="0.6"/>
<line x1="263.80" x2="263.80" y1="217.6" y2="221.0" stroke="#000" stroke-width="0.6"/>
<line x1="265.78" x2="265.78" y1="217.6" y2="221.0" stroke="#000" stroke-width="0.6"/>
<line x1="267.77" x2="267.77" y1="217.6" y2="221.0" stroke="#000" stroke-width="0.6"/>
<line x1="269.75" x2="269.75" y1="217.6" y2="221.0" stroke="#000" stroke-width="0.6"/>
<line x1="271.73" x2="271.73" y1="217.6" y2="221.0" stroke="#000" stroke-width="0.6"/>
<line x1="273.72" x2="273.72" y1="217.6" y2="221.0" stroke="#000" stroke-width="0.6"/>
<line x1="275.70" x2="275.70" y1="217.6" y2="222.1" stroke="#000" stroke-width="1.0"/>
<text x="275.70" y="228.70" font-size="6.10" font-weight="bold" text-anchor="middle" textLength="16.3" lengthAdjust="spacingAndGlyphs" stroke="#000" stroke-width="0.30" >2070</text>
<line x1="277.68" x2="277.68" y1="217.6" y2="221.0" stroke="#000" stroke-width="0.6"/>
<line x1="279.67" x2="279.67" y1="217.6" y2="221.0" stroke="#000" stroke-width="0.6"/>
<line x1="281.65" x2="281.65" y1="217.6" y2="221.0" stroke="#000" stroke-width="0.6"/>
<line x1="283.63" x2="283.63" y1="217.6" y2="221.0" stroke="#000" stroke-width="0.6"/>
<line x1="285.62" x2="285.62" y1="217.6" y2="221.0" stroke="#000" stroke-width="0.6"/>
<line x1="287.60" x2="287.60" y1="217.6" y2="221.0" stroke="#000" stroke-width="0.6"/>
<line x1="289.58" x2="289.58" y1="217.6" y2="221.0" stroke="#000" stroke-width="0.6"/>
<line x1="291.57" x2="291.57" y1="217.6" y2="221.0" stroke="#000" stroke-width="0.6"/>
<line x1="293.55" x2="293.55" y1="217.6" y2="221.0" stroke="#000" stroke-width="0.6"/>
<line x1="295.53" x2="295.53" y1="217.6" y2="222.1" stroke="#000" stroke-width="1.0"/>
<text x="295.53" y="228.70" font-size="6.10" font-weight="bold" text-anchor="middle" textLength="16.3" lengthAdjust="spacingAndGlyphs" stroke="#000" stroke-width="0.30" >2080</text>
<line x1="297.52" x2="297.52" y1="217.6" y2="221.0" stroke="#000" stroke-width="0.6"/>
<line x1="299.50" x2="299.50" y1="217.6" y2="221.0" stroke="#000" stroke-width="0.6"/>
<line x1="301.48" x2="301.48" y1="217.6" y2="221.0" stroke="#000" stroke-width="0.6"/>
<line x1="303.47" x2="303.47" y1="217.6" y2="221.0" stroke="#000" stroke-width="0.6"/>
<line x1="305.45" x2="305.45" y1="217.6" y2="221.0" stroke="#000" stroke-width="0.6"/>
<line x1="307.43" x2="307.43" y1="217.6" y2="221.0" stroke="#000" stroke-width="0.6"/>
<line x1="309.42" x2="309.42" y1="217.6" y2="221.0" stroke="#000" stroke-width="0.6"/>
<line x1="311.40" x2="311.40" y1="217.6" y2="221.0" stroke="#000" stroke-width="0.6"/>
<line x1="313.38" x2="313.38" y1="217.6" y2="221.0" stroke="#000" stroke-width="0.6"/>
<line x1="315.37" x2="315.37" y1="217.6" y2="222.1" stroke="#000" stroke-width="1.0"/>
<text x="315.37" y="228.70" font-size="6.10" font-weight="bold" text-anchor="middle" textLength="16.3" lengthAdjust="spacingAndGlyphs" stroke="#000" stroke-width="0.30" >2090</text>
<line x1="317.35" x2="317.35" y1="217.6" y2="221.0" stroke="#000" stroke-width="0.6"/>
<line x1="319.33" x2="319.33" y1="217.6" y2="221.0" stroke="#000" stroke-width="0.6"/>
<line x1="321.32" x2="321.32" y1="217.6" y2="221.0" stroke="#000" stroke-width="0.6"/>
<line x1="323.30" x2="323.30" y1="217.6" y2="221.0" stroke="#000" stroke-width="0.6"/>
<line x1="325.28" x2="325.28" y1="217.6" y2="221.0" stroke="#000" stroke-width="0.6"/>
<line x1="327.27" x2="327.27" y1="217.6" y2="221.0" stroke="#000" stroke-width="0.6"/>
<line x1="329.25" x2="329.25" y1="217.6" y2="221.0" stroke="#000" stroke-width="0.6"/>
<line x1="331.23" x2="331.23" y1="217.6" y2="221.0" stroke="#000" stroke-width="0.6"/>
<line x1="333.22" x2="333.22" y1="217.6" y2="221.0" stroke="#000" stroke-width="0.6"/>
<line x1="335.20" x2="335.20" y1="217.6" y2="222.1" stroke="#000" stroke-width="1.0"/>
<text x="335.20" y="228.70" font-size="6.10" font-weight="bold" text-anchor="middle" textLength="16.3" lengthAdjust="spacingAndGlyphs" stroke="#000" stroke-width="0.30" >2100</text>
<rect x="36.4" y="14.6" width="298.8" height="203.0" fill="none" stroke="#000" stroke-width="1.4"/>
<text x="185.80" y="237.70" font-size="7.50" font-weight="bold" text-anchor="middle" textLength="17.6" lengthAdjust="spacingAndGlyphs" stroke="#000" stroke-width="0.30" >Year</text>
<text x="0.00" y="0.00" font-size="7.10" font-weight="bold" text-anchor="middle" textLength="95.1" lengthAdjust="spacingAndGlyphs" stroke="#000" stroke-width="0.25" transform="translate(7.00,117.35) rotate(-90)">Intensity of precipitation</text>
<text x="36.10" y="9.90" font-size="11.30" font-weight="bold" text-anchor="start" textLength="13.8" lengthAdjust="spacingAndGlyphs" stroke="#000" stroke-width="0.10" >(a)</text>
<rect x="37.6" y="17.2" width="100.9" height="61.0" rx="1" fill="#fff" fill-opacity="0.8" stroke="#d8d8d8" stroke-width="0.5"/>
<line x1="40.0" x2="50.9" y1="21.20" y2="21.20" stroke="#000000" stroke-width="1.4"/>
<text x="54.80" y="22.80" font-size="5.00" font-weight="bold" text-anchor="start" textLength="27.6" lengthAdjust="spacing" stroke="#000" stroke-width="0.28" >CPC (Obs)</text>
<line x1="40.0" x2="50.9" y1="27.99" y2="27.99" stroke="#008000" stroke-width="1.4"/>
<text x="54.80" y="29.59" font-size="5.00" font-weight="bold" text-anchor="start" textLength="51.3" lengthAdjust="spacing" stroke="#000" stroke-width="0.28" >CMIP6-MMM (Hist)</text>
<line x1="40.0" x2="50.9" y1="34.78" y2="34.78" stroke="#0000ff" stroke-width="1.4"/>
<text x="54.80" y="36.38" font-size="5.00" font-weight="bold" text-anchor="start" textLength="62.6" lengthAdjust="spacing" stroke="#000" stroke-width="0.28" >CMIP6-MMM (SSP 126)</text>
<line x1="40.0" x2="50.9" y1="41.57" y2="41.57" stroke="#d2691e" stroke-width="1.4"/>
<text x="54.80" y="43.17" font-size="5.00" font-weight="bold" text-anchor="start" textLength="62.6" lengthAdjust="spacing" stroke="#000" stroke-width="0.28" >CMIP6-MMM (SSP 245)</text>
<line x1="40.0" x2="50.9" y1="48.36" y2="48.36" stroke="#ff0000" stroke-width="1.4"/>
<text x="54.80" y="49.96" font-size="5.00" font-weight="bold" text-anchor="start" textLength="62.6" lengthAdjust="spacing" stroke="#000" stroke-width="0.28" >CMIP6-MMM (SSP 585)</text>
<rect x="40.0" y="53.65" width="10.9" height="3.0" fill="#bdb76b"/>
<text x="54.80" y="56.75" font-size="5.00" font-weight="bold" text-anchor="start" textLength="70.3" lengthAdjust="spacing" stroke="#000" stroke-width="0.28" >CMIP6-MMM (Hist +/- SD)</text>
<rect x="40.0" y="60.44" width="10.9" height="3.0" fill="#87cefa"/>
<text x="54.80" y="63.54" font-size="5.00" font-weight="bold" text-anchor="start" textLength="81.6" lengthAdjust="spacing" stroke="#000" stroke-width="0.28" >CMIP6-MMM (SSP 126 +/- SD)</text>
<rect x="40.0" y="67.23" width="10.9" height="3.0" fill="#ffdab9"/>
<text x="54.80" y="70.33" font-size="5.00" font-weight="bold" text-anchor="start" textLength="81.6" lengthAdjust="spacing" stroke="#000" stroke-width="0.28" >CMIP6-MMM (SSP 245 +/- SD)</text>
<rect x="40.0" y="74.02" width="10.9" height="3.0" fill="#fa8072"/>
<text x="54.80" y="77.12" font-size="5.00" font-weight="bold" text-anchor="start" textLength="81.6" lengthAdjust="spacing" stroke="#000" stroke-width="0.28" >CMIP6-MMM (SSP 585 +/- SD)</text>
<clipPath id="clipb"><rect x="384.1" y="15.5" width="290.2" height="204.9"/></clipPath>
<g clip-path="url(#clipb)">
<polygon points="385.8,82.8 387.3,80.5 389.8,89.6 391.4,96.2 393.1,83.0 394.7,81.3 396.4,84.6 398.0,94.5 399.7,89.6 402.2,81.3 404.7,94.5 406.3,89.6 408.8,83.0 411.3,80.5 413.8,81.3 415.4,89.6 417.1,94.5 419.5,92.9 421.2,87.9 423.7,83.0 426.1,81.3 427.8,80.5 440.0,81.1 442.5,84.4 446.6,79.5 449.9,84.4 453.2,89.4 456.5,81.1 459.8,79.5 463.1,86.1 466.4,81.1 469.8,84.4 473.1,87.7 475.5,81.1 478.0,91.0 480.5,84.4 483.0,82.8 485.5,87.7 487.9,86.1 489.6,72.9 491.2,91.0 493.7,58.0 495.4,77.8 497.5,55.5 499.5,92.7 501.5,84.4 503.6,87.7 505.3,84.4 506.9,82.8 508.6,94.3 508.9,93.7 508.9,192.1 507.0,195.8 504.8,181.9 503.1,186.3 501.2,184.8 499.0,178.2 497.2,181.9 495.3,187.7 493.4,179.0 491.7,198.0 489.5,187.0 488.0,189.2 485.8,199.4 483.6,192.1 481.8,183.4 480.4,188.6 478.2,184.2 476.0,188.6 474.2,186.4 472.3,189.3 470.1,185.7 468.4,182.7 466.5,194.4 464.3,188.6 462.1,184.2 459.9,178.4 457.7,184.2 455.5,193.0 453.8,194.4 451.9,195.9 449.7,198.1 447.8,190.0 446.0,185.7 443.9,188.6 441.7,184.9 439.9,186.4 438.0,183.5 436.1,190.0 434.4,183.5 432.2,184.9 430.4,193.0 428.5,188.6 426.6,184.9 424.6,177.6 422.7,184.2 420.5,194.4 418.6,200.3 416.4,194.4 414.7,193.0 412.5,183.5 410.3,191.5 408.8,186.4 407.1,195.1 405.2,181.3 403.0,189.3 401.2,186.4 399.3,187.1 397.4,198.1 395.4,182.7 393.5,188.6 391.3,184.9 389.5,185.7 387.6,178.4 385.8,185.5" fill="#bdb76b"/>
<polygon points="510.9,78.3 512.8,64.2 514.8,46.6 516.7,37.8 518.6,51.0 520.6,60.7 522.5,73.0 524.4,47.5 526.2,76.5 528.1,52.8 530.1,81.8 532.0,78.3 533.9,67.7 535.9,24.7 537.8,60.7 539.7,76.5 541.7,64.2 543.6,58.9 545.5,76.5 547.5,46.6 549.4,81.8 551.3,60.7 553.3,59.8 555.2,60.7 557.1,62.5 558.9,22.9 560.8,62.5 562.7,67.7 564.7,71.2 566.6,76.5 568.5,37.8 570.5,73.0 572.4,44.9 574.3,73.0 576.3,55.4 578.2,60.7 580.1,67.7 581.9,29.9 583.8,78.3 585.8,35.2 587.7,50.1 589.6,66.0 591.8,72.9 593.9,64.1 595.4,87.1 597.4,36.1 599.1,64.1 601.1,39.6 603.0,67.7 604.9,69.4 606.8,57.1 608.8,72.9 610.7,50.1 612.6,78.2 614.6,50.1 616.5,49.2 618.4,51.9 620.4,67.7 622.3,58.0 624.2,79.9 626.2,67.7 628.1,76.4 630.0,72.9 631.9,72.9 633.9,27.3 635.8,32.6 637.7,58.9 639.7,21.1 641.6,62.4 643.5,45.7 645.5,58.9 647.4,64.1 649.3,51.0 651.2,67.7 653.2,47.5 655.1,62.4 657.0,50.1 659.0,22.9 660.9,57.1 662.8,71.2 664.8,62.4 666.7,64.1 668.6,51.9 670.6,58.9 672.5,27.3 674.2,29.0 674.3,189.2 672.4,191.6 670.0,199.4 668.1,206.7 666.6,197.3 664.7,194.1 662.8,188.7 660.8,193.9 658.5,214.0 656.6,203.8 655.1,185.0 652.8,211.1 651.2,183.6 649.3,192.6 647.4,193.9 645.1,208.2 643.2,210.4 641.3,198.0 639.7,194.7 637.8,191.3 635.4,219.9 633.9,194.8 632.0,188.4 630.1,175.3 628.1,180.5 626.2,191.9 624.3,194.9 622.4,196.2 620.1,193.6 618.5,184.3 616.6,194.5 614.7,190.2 612.8,198.2 610.8,193.4 608.9,184.9 607.0,190.7 605.1,194.6 603.1,184.9 601.0,209.6 599.3,190.8 597.2,195.0 595.4,187.9 593.5,192.7 591.6,199.9 589.7,180.9 587.8,190.7 585.8,189.5 583.9,200.0 582.0,208.2 580.1,187.2 578.1,193.6 576.2,194.3 574.3,189.6 572.4,198.7 570.4,198.3 568.6,198.0 566.6,186.3 564.7,187.8 562.7,188.9 560.8,183.7 558.9,190.8 557.0,193.6 555.1,195.0 553.1,193.1 551.2,182.2 549.3,203.8 547.4,192.4 545.4,198.1 543.5,204.5 541.6,197.8 539.7,193.1 537.8,199.4 535.9,196.5 534.0,192.1 532.0,194.2 530.1,202.3 528.2,200.9 526.2,190.7 524.4,200.9 522.4,176.6 520.4,187.1 518.5,196.5 516.6,208.2 514.7,200.9 512.7,187.9 510.8,190.7" fill="#87cefa"/>
<polygon points="510.8,99.4 512.8,58.9 514.8,60.7 516.6,73.7 518.5,52.4 520.6,60.7 522.4,83.5 524.4,69.5 526.2,85.3 528.1,90.6 530.0,88.8 532.0,67.7 533.9,71.2 535.8,76.6 537.7,79.9 539.7,78.3 541.6,88.5 543.6,60.7 545.4,96.9 547.4,92.6 549.3,82.3 551.3,76.5 553.3,69.5 555.1,76.9 557.0,84.7 558.9,92.4 560.8,95.8 562.7,61.6 564.7,88.8 566.6,92.3 568.5,83.7 570.5,72.1 572.4,80.0 574.3,73.2 576.2,74.7 578.2,74.8 580.1,95.3 582.0,82.0 583.9,87.3 585.8,92.2 587.8,88.9 589.7,92.4 591.6,95.5 593.5,57.2 593.9,57.1 595.4,60.7 595.6,72.9 597.4,81.7 599.3,64.2 601.2,41.9 603.1,69.6 605.1,90.4 607.0,68.9 608.9,85.0 610.8,81.5 612.8,77.6 614.6,65.9 616.6,49.4 618.5,52.6 620.4,60.6 622.4,72.1 624.3,93.0 626.2,68.1 628.1,81.4 630.1,73.0 632.0,76.4 633.9,74.6 635.8,67.7 637.8,64.1 639.7,60.8 641.6,86.9 643.5,60.6 645.5,55.4 647.4,74.6 649.3,66.0 651.2,72.8 653.1,67.8 655.1,76.2 657.0,50.8 658.9,97.8 660.9,58.0 662.8,65.9 664.7,76.3 666.6,68.0 668.5,59.3 670.5,70.5 672.4,69.5 674.3,72.9 674.3,196.5 674.3,196.5 672.4,194.1 671.9,193.6 670.5,195.9 670.0,196.4 668.5,201.8 668.1,202.6 666.6,200.2 666.2,199.4 664.7,194.6 664.3,193.6 662.8,188.7 662.4,187.7 660.8,193.9 660.5,195.0 658.9,205.6 658.5,206.9 657.0,197.3 656.6,195.6 655.1,190.6 654.7,189.2 653.1,192.5 652.8,192.7 651.2,191.8 650.9,198.0 649.3,195.6 648.9,195.0 647.4,195.0 647.0,195.0 645.5,195.5 645.1,194.9 643.5,193.9 643.2,193.5 641.6,193.6 641.3,194.4 639.7,195.7 639.4,195.0 637.8,195.0 637.5,195.0 635.8,194.5 635.4,193.3 633.9,202.3 633.5,199.4 632.0,188.7 631.6,186.3 630.1,175.3 629.7,173.1 628.1,180.5 627.8,181.9 626.2,191.9 625.9,193.6 624.3,194.9 624.1,195.0 622.4,196.2 622.0,196.5 620.4,191.4 620.1,190.5 618.5,187.1 618.2,183.4 616.6,194.5 616.3,196.5 614.7,191.5 614.4,190.7 612.8,198.3 612.5,199.4 610.8,194.6 610.5,193.6 608.9,184.9 608.6,183.4 607.0,190.7 606.7,192.1 605.1,194.6 604.8,195.0 603.1,184.9 602.9,183.4 601.2,196.6 601.0,197.4 599.3,192.7 599.1,190.7 597.4,191.0 597.2,190.9 595.4,188.8 595.1,187.7 593.5,192.7 593.2,193.6 591.6,199.9 591.4,200.9 589.7,182.8 589.5,180.4 587.8,197.5 587.6,199.4 585.8,190.1 585.7,189.2 583.9,201.3 583.8,202.3 582.0,199.0 582.0,198.9 580.1,187.0 580.1,187.3 578.2,195.8 578.1,195.7 576.5,195.0 576.2,194.7 574.4,192.1 574.3,192.4 572.4,198.7 572.4,198.7 570.5,198.7 570.4,198.7 568.6,192.3 568.5,192.2 566.7,190.7 566.6,190.6 564.8,189.2 564.7,189.3 562.8,190.7 562.7,190.6 560.9,189.2 560.8,189.4 559.0,193.6 558.9,193.8 557.1,199.4 557.0,199.5 555.1,202.3 555.1,202.0 553.2,195.0 553.1,194.9 551.3,192.1 551.2,192.6 549.4,193.6 549.3,193.7 547.4,196.5 547.4,196.6 545.5,199.4 545.4,199.6 543.6,201.5 543.5,201.4 541.7,198.0 541.6,197.9 539.7,196.5 539.7,196.6 537.8,188.2 537.7,188.1 535.9,186.3 535.8,186.5 534.0,190.1 533.9,190.2 532.1,196.5 532.0,196.7 530.1,195.7 530.0,195.8 528.2,196.8 528.1,196.7 526.3,193.6 526.2,193.9 524.4,194.7 524.3,194.3 522.4,187.7 522.4,187.8 520.5,189.2 520.4,189.5 518.6,180.7 518.5,180.8 516.7,186.7 516.6,186.9 514.7,189.6 514.7,189.7 512.8,199.4 512.7,199.1 510.9,192.1 510.8,192.1" fill="#ffdab9"/>
<polygon points="510.8,99.4 510.9,99.4 514.8,85.3 516.7,73.0 518.6,51.0 520.6,60.7 522.5,85.3 524.4,88.8 526.2,85.3 528.1,90.6 530.1,88.8 532.0,78.3 533.9,81.8 535.9,76.5 537.8,80.0 539.7,78.3 541.7,88.8 543.6,81.8 545.5,97.6 547.5,92.3 549.4,81.8 551.3,83.5 553.3,81.8 555.2,76.5 557.1,85.3 558.9,92.3 560.8,95.8 562.7,92.3 564.7,88.8 566.6,92.3 568.5,83.5 570.5,80.0 572.4,80.0 574.3,73.0 576.3,74.8 578.2,83.5 580.1,95.8 581.9,81.8 583.8,87.1 585.8,92.3 587.7,88.8 589.6,92.3 591.8,95.7 593.9,88.7 595.6,87.0 597.4,81.7 599.3,64.1 601.1,39.6 603.0,67.7 604.9,92.2 606.8,67.7 608.8,85.2 610.7,81.7 612.6,78.2 614.6,67.7 616.5,49.2 618.4,51.9 620.4,67.7 622.3,71.2 624.2,94.0 626.2,67.7 628.1,81.7 630.0,72.9 631.9,76.4 633.9,74.7 635.8,71.2 637.7,64.1 639.7,60.6 641.6,87.0 643.5,60.6 645.5,67.7 647.4,74.7 649.3,65.9 651.2,72.9 653.2,67.7 655.1,76.4 657.0,50.1 659.0,99.2 660.9,67.7 662.8,72.9 664.8,76.4 666.7,67.7 668.6,58.9 670.6,71.2 672.5,69.4 674.2,72.9 674.3,72.9 674.3,189.2 674.3,189.2 671.9,192.1 670.0,195.0 668.1,200.9 666.2,196.5 664.3,193.6 662.4,187.7 660.5,195.0 658.5,203.8 656.6,192.1 654.7,183.4 652.8,184.8 650.9,183.4 648.9,195.0 647.0,193.6 645.1,189.2 643.2,186.3 641.3,192.8 639.4,195.0 637.5,190.7 635.4,181.9 633.5,198.0 631.6,186.3 629.7,173.1 627.8,181.9 625.9,193.6 624.1,195.0 622.0,196.5 620.1,189.2 618.2,183.4 616.3,196.5 614.4,189.2 612.5,199.4 610.5,192.1 608.6,183.4 606.7,192.1 604.8,195.0 602.9,183.4 601.0,192.1 599.1,190.7 597.2,189.2 595.1,187.7 593.2,193.6 591.4,200.9 589.5,178.2 587.6,192.1 585.7,189.2 583.8,200.9 582.0,195.0 580.1,187.0 578.2,193.6 576.5,195.0 574.4,189.2 572.4,198.7 570.5,198.7 568.6,189.9 566.7,186.3 564.8,187.7 562.8,189.2 560.9,183.4 559.0,190.7 557.1,193.6 555.1,195.0 553.2,193.6 551.3,181.9 549.4,189.2 547.4,192.1 545.5,198.0 543.6,200.1 541.7,198.0 539.7,193.6 537.8,183.4 535.9,181.9 534.0,189.2 532.1,194.3 530.1,192.8 528.2,195.0 526.3,190.7 524.4,192.1 522.4,176.1 520.5,187.7 518.6,173.9 516.7,177.5 514.7,184.8 512.8,187.7 510.9,190.7 510.8,190.7" fill="#fa8072"/>
<polyline points="385.8,142.1 387.7,129.8 389.6,133.5 391.6,144.0 393.5,132.2 395.4,127.9 397.3,146.5 399.3,137.2 401.2,124.2 403.1,142.1 405.0,111.2 407.0,147.7 408.9,139.7 410.8,139.7 412.7,122.3 414.6,138.4 416.6,143.4 418.5,149.6 420.4,142.1 422.3,135.9 424.3,132.2 426.2,128.5 428.1,139.7 430.0,142.8 432.0,144.0 433.9,141.5 435.8,150.8 437.7,133.5 439.7,143.4 441.6,124.8 443.5,142.1 445.4,140.9 447.3,129.1 449.3,142.1 451.2,144.0 453.1,149.6 455.0,142.1 457.0,144.6 458.9,134.7 460.8,129.1 462.7,137.2 464.7,149.6 466.6,144.0 468.5,131.0 470.4,129.1 472.3,140.9 474.3,152.0 476.2,137.2 478.1,140.9 480.0,137.2 482.0,132.2 483.9,128.5 485.8,145.8 487.7,131.0 489.7,128.5 491.6,153.3 493.5,116.1 495.4,129.7 497.4,118.6 499.3,142.1 501.2,137.2 503.1,135.9 505.0,138.4 507.0,139.6 508.9,150.8 508.9,150.8" fill="none" stroke="#008000" stroke-width="1.4" stroke-opacity="1.0" stroke-linejoin="round"/>
<polyline points="510.8,130.8 510.9,130.8 512.8,133.9 514.7,125.1 516.7,123.2 518.6,135.2 520.5,126.4 522.4,128.9 524.4,137.7 526.3,131.4 528.2,115.1 530.1,143.9 532.1,138.9 534.0,131.4 535.9,111.3 537.8,121.3 539.7,123.9 541.7,121.3 543.6,130.1 545.5,127.6 547.4,113.8 549.4,145.2 551.3,127.6 553.2,125.7 555.1,123.2 557.1,125.1 559.0,106.9 560.9,127.6 562.8,128.9 564.8,146.5 566.7,128.9 568.6,117.6 570.5,127.6 572.4,115.1 574.4,130.1 576.3,122.0 578.2,125.1 580.1,130.8 582.1,118.8 584.0,135.2 585.9,112.6 587.8,117.6 589.8,121.9 591.7,135.3 593.6,127.2 595.5,134.0 597.4,115.8 599.4,124.6 601.3,123.2 603.2,119.2 605.1,125.9 607.1,124.6 609.0,129.9 610.9,117.2 612.8,128.6 614.8,116.5 616.7,129.9 618.6,144.7 620.5,128.6 622.5,117.8 624.4,136.7 626.3,141.4 628.2,131.3 630.1,127.2 632.1,136.7 634.0,113.8 635.9,138.0 637.8,121.9 639.8,104.4 641.7,131.3 643.6,132.6 645.5,135.3 647.5,125.9 649.4,123.9 651.3,140.7 653.2,128.6 655.1,127.2 657.1,123.9 659.0,119.2 660.9,132.6 662.8,129.9 664.8,119.2 666.7,129.9 668.6,128.6 670.5,116.5 672.5,104.4 674.3,121.1" fill="none" stroke="#0000ff" stroke-width="1.4" stroke-opacity="1.0" stroke-linejoin="round"/>
<polyline points="510.8,147.7 510.9,147.7 512.8,137.7 514.7,125.1 516.7,131.4 518.6,143.9 520.5,147.7 522.4,132.6 524.4,122.6 526.3,128.9 528.2,135.2 530.1,141.4 532.1,132.6 534.0,135.2 535.9,137.7 537.8,126.4 539.7,141.4 541.7,145.2 543.6,130.1 545.5,155.2 547.4,137.7 549.4,133.9 551.3,125.1 553.2,140.2 555.1,137.7 557.1,150.2 559.0,135.2 560.9,130.1 562.8,123.9 564.8,140.2 566.7,137.7 568.6,135.2 570.5,128.9 572.4,130.1 574.4,126.4 576.3,135.2 578.2,131.4 580.1,136.4 582.1,143.9 584.0,137.7 585.9,135.2 587.8,154.0 589.8,132.6 591.7,136.7 593.6,125.9 595.5,119.2 597.4,127.2 599.4,121.9 601.3,127.2 603.2,134.0 605.1,140.7 607.1,128.6 609.0,138.0 610.9,155.5 612.8,134.0 614.8,121.9 616.7,132.6 618.6,134.0 620.5,135.3 622.5,132.6 624.4,151.4 626.3,136.7 628.2,131.3 630.1,132.6 632.1,127.2 634.0,119.2 635.9,121.9 637.8,129.9 639.8,128.6 641.7,135.3 643.6,150.1 645.5,127.2 647.5,134.0 649.4,132.6 651.3,124.6 653.2,125.9 655.1,131.3 657.1,135.3 659.0,120.5 660.9,135.3 662.8,129.9 664.8,127.2 666.7,134.0 668.6,151.4 670.5,119.2 672.5,146.1 674.3,130.6" fill="none" stroke="#d2691e" stroke-width="1.4" stroke-opacity="1.0" stroke-linejoin="round"/>
<polyline points="510.8,150.2 510.9,150.2 512.8,142.7 514.7,136.4 516.7,131.4 518.6,111.3 520.5,131.4 522.4,130.1 524.4,143.9 526.3,137.7 528.2,150.2 530.1,141.4 532.1,149.0 534.0,137.7 535.9,128.9 537.8,141.4 539.7,135.2 541.7,141.4 543.6,151.5 545.5,146.5 547.4,143.9 549.4,143.9 551.3,131.4 553.2,140.2 555.1,132.6 557.1,142.7 559.0,136.4 560.9,138.9 562.8,142.7 564.8,138.9 566.7,140.2 568.6,145.2 570.5,150.2 572.4,155.2 574.4,128.9 576.3,130.1 578.2,151.5 580.1,136.4 582.1,140.2 584.0,143.9 585.9,141.4 587.8,149.0 589.8,127.2 591.7,154.1 593.6,135.3 595.5,138.0 597.4,136.7 599.4,135.3 601.3,115.8 603.2,127.2 605.1,143.4 607.1,127.2 609.0,135.3 610.9,142.0 612.8,139.3 614.8,128.6 616.7,121.9 618.6,116.5 620.5,129.9 622.5,134.0 624.4,150.1 626.3,131.3 628.2,131.3 630.1,120.5 632.1,132.6 634.0,141.4 635.9,125.2 637.8,135.3 639.8,129.9 641.7,139.3 643.6,120.5 645.5,135.3 647.5,128.6 649.4,124.6 651.3,123.2 653.2,123.2 655.1,121.9 657.1,115.8 659.0,159.5 660.9,135.3 662.8,125.9 664.8,136.7 666.7,128.6 668.6,134.0 670.5,129.9 672.5,131.3 674.3,131.3" fill="none" stroke="#ff0000" stroke-width="1.4" stroke-opacity="1.0" stroke-linejoin="round"/>
<polyline points="441.6,114.5 443.5,135.0 445.4,157.6 447.3,29.2 449.3,172.6 451.2,192.4 453.1,180.8 455.0,89.9 457.0,155.5 458.9,57.2 460.8,124.8 462.7,164.4 464.7,164.4 466.6,58.5 468.5,138.4 470.4,181.5 472.4,111.1 474.3,100.9 476.2,94.7 478.1,118.0 480.0,145.3 482.0,172.6 483.9,192.4 485.8,152.1 487.7,126.1 489.7,158.9 491.6,131.6 493.5,160.3 495.4,138.4 497.4,124.8 499.3,103.6 501.2,118.0 503.1,165.8 505.0,180.8 507.0,169.2 508.9,151.4" fill="none" stroke="#000000" stroke-width="1.4" stroke-opacity="1.0" stroke-linejoin="round"/>
<line x1="384.1" x2="674.3" y1="138.4" y2="138.4" stroke="#000" stroke-width="1"/>
</g>
<line x1="379.1" x2="384.1" y1="220.40" y2="220.40" stroke="#000" stroke-width="1.1"/>
<text x="376.60" y="222.55" font-size="6.10" font-weight="bold" text-anchor="end" textLength="16.6" lengthAdjust="spacingAndGlyphs" stroke="#000" stroke-width="0.30" >−120</text>
<line x1="380.5" x2="384.1" y1="213.57" y2="213.57" stroke="#000" stroke-width="0.7"/>
<line x1="379.1" x2="384.1" y1="206.74" y2="206.74" stroke="#000" stroke-width="1.1"/>
<text x="376.60" y="208.89" font-size="6.10" font-weight="bold" text-anchor="end" textLength="16.6" lengthAdjust="spacingAndGlyphs" stroke="#000" stroke-width="0.30" >−100</text>
<line x1="380.5" x2="384.1" y1="199.91" y2="199.91" stroke="#000" stroke-width="0.7"/>
<line x1="379.1" x2="384.1" y1="193.08" y2="193.08" stroke="#000" stroke-width="1.1"/>
<text x="376.60" y="195.23" font-size="6.10" font-weight="bold" text-anchor="end" textLength="12.7" lengthAdjust="spacingAndGlyphs" stroke="#000" stroke-width="0.30" >−80</text>
<line x1="380.5" x2="384.1" y1="186.25" y2="186.25" stroke="#000" stroke-width="0.7"/>
<line x1="379.1" x2="384.1" y1="179.42" y2="179.42" stroke="#000" stroke-width="1.1"/>
<text x="376.60" y="181.57" font-size="6.10" font-weight="bold" text-anchor="end" textLength="12.7" lengthAdjust="spacingAndGlyphs" stroke="#000" stroke-width="0.30" >−60</text>
<line x1="380.5" x2="384.1" y1="172.59" y2="172.59" stroke="#000" stroke-width="0.7"/>
<line x1="379.1" x2="384.1" y1="165.76" y2="165.76" stroke="#000" stroke-width="1.1"/>
<text x="376.60" y="167.91" font-size="6.10" font-weight="bold" text-anchor="end" textLength="12.7" lengthAdjust="spacingAndGlyphs" stroke="#000" stroke-width="0.30" >−40</text>
<line x1="380.5" x2="384.1" y1="158.93" y2="158.93" stroke="#000" stroke-width="0.7"/>
<line x1="379.1" x2="384.1" y1="152.10" y2="152.10" stroke="#000" stroke-width="1.1"/>
<text x="376.60" y="154.25" font-size="6.10" font-weight="bold" text-anchor="end" textLength="12.7" lengthAdjust="spacingAndGlyphs" stroke="#000" stroke-width="0.30" >−20</text>
<line x1="380.5" x2="384.1" y1="145.27" y2="145.27" stroke="#000" stroke-width="0.7"/>
<line x1="379.1" x2="384.1" y1="138.44" y2="138.44" stroke="#000" stroke-width="1.1"/>
<text x="376.60" y="140.59" font-size="6.10" font-weight="bold" text-anchor="end" textLength="3.9" lengthAdjust="spacingAndGlyphs" stroke="#000" stroke-width="0.30" >0</text>
<line x1="380.5" x2="384.1" y1="131.61" y2="131.61" stroke="#000" stroke-width="0.7"/>
<line x1="379.1" x2="384.1" y1="124.78" y2="124.78" stroke="#000" stroke-width="1.1"/>
<text x="376.60" y="126.93" font-size="6.10" font-weight="bold" text-anchor="end" textLength="7.9" lengthAdjust="spacingAndGlyphs" stroke="#000" stroke-width="0.30" >20</text>
<line x1="380.5" x2="384.1" y1="117.95" y2="117.95" stroke="#000" stroke-width="0.7"/>
<line x1="379.1" x2="384.1" y1="111.12" y2="111.12" stroke="#000" stroke-width="1.1"/>
<text x="376.60" y="113.27" font-size="6.10" font-weight="bold" text-anchor="end" textLength="7.9" lengthAdjust="spacingAndGlyphs" stroke="#000" stroke-width="0.30" >40</text>
<line x1="380.5" x2="384.1" y1="104.29" y2="104.29" stroke="#000" stroke-width="0.7"/>
<line x1="379.1" x2="384.1" y1="97.46" y2="97.46" stroke="#000" stroke-width="1.1"/>
<text x="376.60" y="99.61" font-size="6.10" font-weight="bold" text-anchor="end" textLength="7.9" lengthAdjust="spacingAndGlyphs" stroke="#000" stroke-width="0.30" >60</text>
<line x1="380.5" x2="384.1" y1="90.63" y2="90.63" stroke="#000" stroke-width="0.7"/>
<line x1="379.1" x2="384.1" y1="83.80" y2="83.80" stroke="#000" stroke-width="1.1"/>
<text x="376.60" y="85.95" font-size="6.10" font-weight="bold" text-anchor="end" textLength="7.9" lengthAdjust="spacingAndGlyphs" stroke="#000" stroke-width="0.30" >80</text>
<line x1="380.5" x2="384.1" y1="76.97" y2="76.97" stroke="#000" stroke-width="0.7"/>
<line x1="379.1" x2="384.1" y1="70.14" y2="70.14" stroke="#000" stroke-width="1.1"/>
<text x="376.60" y="72.29" font-size="6.10" font-weight="bold" text-anchor="end" textLength="11.8" lengthAdjust="spacingAndGlyphs" stroke="#000" stroke-width="0.30" >100</text>
<line x1="380.5" x2="384.1" y1="63.31" y2="63.31" stroke="#000" stroke-width="0.7"/>
<line x1="379.1" x2="384.1" y1="56.48" y2="56.48" stroke="#000" stroke-width="1.1"/>
<text x="376.60" y="58.63" font-size="6.10" font-weight="bold" text-anchor="end" textLength="11.8" lengthAdjust="spacingAndGlyphs" stroke="#000" stroke-width="0.30" >120</text>
<line x1="380.5" x2="384.1" y1="49.65" y2="49.65" stroke="#000" stroke-width="0.7"/>
<line x1="379.1" x2="384.1" y1="42.82" y2="42.82" stroke="#000" stroke-width="1.1"/>
<text x="376.60" y="44.97" font-size="6.10" font-weight="bold" text-anchor="end" textLength="11.8" lengthAdjust="spacingAndGlyphs" stroke="#000" stroke-width="0.30" >140</text>
<line x1="380.5" x2="384.1" y1="35.99" y2="35.99" stroke="#000" stroke-width="0.7"/>
<line x1="379.1" x2="384.1" y1="29.16" y2="29.16" stroke="#000" stroke-width="1.1"/>
<text x="376.60" y="31.31" font-size="6.10" font-weight="bold" text-anchor="end" textLength="11.8" lengthAdjust="spacingAndGlyphs" stroke="#000" stroke-width="0.30" >160</text>
<line x1="380.5" x2="384.1" y1="22.33" y2="22.33" stroke="#000" stroke-width="0.7"/>
<line x1="379.1" x2="384.1" y1="15.50" y2="15.50" stroke="#000" stroke-width="1.1"/>
<text x="376.60" y="17.65" font-size="6.10" font-weight="bold" text-anchor="end" textLength="11.8" lengthAdjust="spacingAndGlyphs" stroke="#000" stroke-width="0.30" >180</text>
<line x1="385.80" x2="385.80" y1="220.4" y2="224.9" stroke="#000" stroke-width="1.0"/>
<text x="385.80" y="231.50" font-size="6.10" font-weight="bold" text-anchor="middle" textLength="16.3" lengthAdjust="spacingAndGlyphs" stroke="#000" stroke-width="0.30" >1950</text>
<line x1="387.72" x2="387.72" y1="220.4" y2="223.8" stroke="#000" stroke-width="0.6"/>
<line x1="389.65" x2="389.65" y1="220.4" y2="223.8" stroke="#000" stroke-width="0.6"/>
<line x1="391.57" x2="391.57" y1="220.4" y2="223.8" stroke="#000" stroke-width="0.6"/>
<line x1="393.49" x2="393.49" y1="220.4" y2="223.8" stroke="#000" stroke-width="0.6"/>
<line x1="395.42" x2="395.42" y1="220.4" y2="223.8" stroke="#000" stroke-width="0.6"/>
<line x1="397.34" x2="397.34" y1="220.4" y2="223.8" stroke="#000" stroke-width="0.6"/>
<line x1="399.26" x2="399.26" y1="220.4" y2="223.8" stroke="#000" stroke-width="0.6"/>
<line x1="401.19" x2="401.19" y1="220.4" y2="223.8" stroke="#000" stroke-width="0.6"/>
<line x1="403.11" x2="403.11" y1="220.4" y2="223.8" stroke="#000" stroke-width="0.6"/>
<line x1="405.03" x2="405.03" y1="220.4" y2="224.9" stroke="#000" stroke-width="1.0"/>
<text x="405.03" y="231.50" font-size="6.10" font-weight="bold" text-anchor="middle" textLength="16.3" lengthAdjust="spacingAndGlyphs" stroke="#000" stroke-width="0.30" >1960</text>
<line x1="406.96" x2="406.96" y1="220.4" y2="223.8" stroke="#000" stroke-width="0.6"/>
<line x1="408.88" x2="408.88" y1="220.4" y2="223.8" stroke="#000" stroke-width="0.6"/>
<line x1="410.80" x2="410.80" y1="220.4" y2="223.8" stroke="#000" stroke-width="0.6"/>
<line x1="412.73" x2="412.73" y1="220.4" y2="223.8" stroke="#000" stroke-width="0.6"/>
<line x1="414.65" x2="414.65" y1="220.4" y2="223.8" stroke="#000" stroke-width="0.6"/>
<line x1="416.57" x2="416.57" y1="220.4" y2="223.8" stroke="#000" stroke-width="0.6"/>
<line x1="418.50" x2="418.50" y1="220.4" y2="223.8" stroke="#000" stroke-width="0.6"/>
<line x1="420.42" x2="420.42" y1="220.4" y2="223.8" stroke="#000" stroke-width="0.6"/>
<line x1="422.34" x2="422.34" y1="220.4" y2="223.8" stroke="#000" stroke-width="0.6"/>
<line x1="424.27" x2="424.27" y1="220.4" y2="224.9" stroke="#000" stroke-width="1.0"/>
<text x="424.27" y="231.50" font-size="6.10" font-weight="bold" text-anchor="middle" textLength="16.3" lengthAdjust="spacingAndGlyphs" stroke="#000" stroke-width="0.30" >1970</text>
<line x1="426.19" x2="426.19" y1="220.4" y2="223.8" stroke="#000" stroke-width="0.6"/>
<line x1="428.11" x2="428.11" y1="220.4" y2="223.8" stroke="#000" stroke-width="0.6"/>
<line x1="430.04" x2="430.04" y1="220.4" y2="223.8" stroke="#000" stroke-width="0.6"/>
<line x1="431.96" x2="431.96" y1="220.4" y2="223.8" stroke="#000" stroke-width="0.6"/>
<line x1="433.88" x2="433.88" y1="220.4" y2="223.8" stroke="#000" stroke-width="0.6"/>
<line x1="435.81" x2="435.81" y1="220.4" y2="223.8" stroke="#000" stroke-width="0.6"/>
<line x1="437.73" x2="437.73" y1="220.4" y2="223.8" stroke="#000" stroke-width="0.6"/>
<line x1="439.65" x2="439.65" y1="220.4" y2="223.8" stroke="#000" stroke-width="0.6"/>
<line x1="441.58" x2="441.58" y1="220.4" y2="223.8" stroke="#000" stroke-width="0.6"/>
<line x1="443.50" x2="443.50" y1="220.4" y2="224.9" stroke="#000" stroke-width="1.0"/>
<text x="443.50" y="231.50" font-size="6.10" font-weight="bold" text-anchor="middle" textLength="16.3" lengthAdjust="spacingAndGlyphs" stroke="#000" stroke-width="0.30" >1980</text>
<line x1="445.42" x2="445.42" y1="220.4" y2="223.8" stroke="#000" stroke-width="0.6"/>
<line x1="447.35" x2="447.35" y1="220.4" y2="223.8" stroke="#000" stroke-width="0.6"/>
<line x1="449.27" x2="449.27" y1="220.4" y2="223.8" stroke="#000" stroke-width="0.6"/>
<line x1="451.19" x2="451.19" y1="220.4" y2="223.8" stroke="#000" stroke-width="0.6"/>
<line x1="453.12" x2="453.12" y1="220.4" y2="223.8" stroke="#000" stroke-width="0.6"/>
<line x1="455.04" x2="455.04" y1="220.4" y2="223.8" stroke="#000" stroke-width="0.6"/>
<line x1="456.96" x2="456.96" y1="220.4" y2="223.8" stroke="#000" stroke-width="0.6"/>
<line x1="458.89" x2="458.89" y1="220.4" y2="223.8" stroke="#000" stroke-width="0.6"/>
<line x1="460.81" x2="460.81" y1="220.4" y2="223.8" stroke="#000" stroke-width="0.6"/>
<line x1="462.73" x2="462.73" y1="220.4" y2="224.9" stroke="#000" stroke-width="1.0"/>
<text x="462.73" y="231.50" font-size="6.10" font-weight="bold" text-anchor="middle" textLength="16.3" lengthAdjust="spacingAndGlyphs" stroke="#000" stroke-width="0.30" >1990</text>
<line x1="464.66" x2="464.66" y1="220.4" y2="223.8" stroke="#000" stroke-width="0.6"/>
<line x1="466.58" x2="466.58" y1="220.4" y2="223.8" stroke="#000" stroke-width="0.6"/>
<line x1="468.50" x2="468.50" y1="220.4" y2="223.8" stroke="#000" stroke-width="0.6"/>
<line x1="470.43" x2="470.43" y1="220.4" y2="223.8" stroke="#000" stroke-width="0.6"/>
<line x1="472.35" x2="472.35" y1="220.4" y2="223.8" stroke="#000" stroke-width="0.6"/>
<line x1="474.27" x2="474.27" y1="220.4" y2="223.8" stroke="#000" stroke-width="0.6"/>
<line x1="476.20" x2="476.20" y1="220.4" y2="223.8" stroke="#000" stroke-width="0.6"/>
<line x1="478.12" x2="478.12" y1="220.4" y2="223.8" stroke="#000" stroke-width="0.6"/>
<line x1="480.04" x2="480.04" y1="220.4" y2="223.8" stroke="#000" stroke-width="0.6"/>
<line x1="481.97" x2="481.97" y1="220.4" y2="224.9" stroke="#000" stroke-width="1.0"/>
<text x="481.97" y="231.50" font-size="6.10" font-weight="bold" text-anchor="middle" textLength="16.3" lengthAdjust="spacingAndGlyphs" stroke="#000" stroke-width="0.30" >2000</text>
<line x1="483.89" x2="483.89" y1="220.4" y2="223.8" stroke="#000" stroke-width="0.6"/>
<line x1="485.81" x2="485.81" y1="220.4" y2="223.8" stroke="#000" stroke-width="0.6"/>
<line x1="487.74" x2="487.74" y1="220.4" y2="223.8" stroke="#000" stroke-width="0.6"/>
<line x1="489.66" x2="489.66" y1="220.4" y2="223.8" stroke="#000" stroke-width="0.6"/>
<line x1="491.58" x2="491.58" y1="220.4" y2="223.8" stroke="#000" stroke-width="0.6"/>
<line x1="493.51" x2="493.51" y1="220.4" y2="223.8" stroke="#000" stroke-width="0.6"/>
<line x1="495.43" x2="495.43" y1="220.4" y2="223.8" stroke="#000" stroke-width="0.6"/>
<line x1="497.35" x2="497.35" y1="220.4" y2="223.8" stroke="#000" stroke-width="0.6"/>
<line x1="499.28" x2="499.28" y1="220.4" y2="223.8" stroke="#000" stroke-width="0.6"/>
<line x1="501.20" x2="501.20" y1="220.4" y2="224.9" stroke="#000" stroke-width="1.0"/>
<text x="501.20" y="231.50" font-size="6.10" font-weight="bold" text-anchor="middle" textLength="16.3" lengthAdjust="spacingAndGlyphs" stroke="#000" stroke-width="0.30" >2010</text>
<line x1="503.12" x2="503.12" y1="220.4" y2="223.8" stroke="#000" stroke-width="0.6"/>
<line x1="505.05" x2="505.05" y1="220.4" y2="223.8" stroke="#000" stroke-width="0.6"/>
<line x1="506.97" x2="506.97" y1="220.4" y2="223.8" stroke="#000" stroke-width="0.6"/>
<line x1="508.89" x2="508.89" y1="220.4" y2="223.8" stroke="#000" stroke-width="0.6"/>
<line x1="510.82" x2="510.82" y1="220.4" y2="223.8" stroke="#000" stroke-width="0.6"/>
<line x1="512.74" x2="512.74" y1="220.4" y2="223.8" stroke="#000" stroke-width="0.6"/>
<line x1="514.66" x2="514.66" y1="220.4" y2="223.8" stroke="#000" stroke-width="0.6"/>
<line x1="516.59" x2="516.59" y1="220.4" y2="223.8" stroke="#000" stroke-width="0.6"/>
<line x1="518.51" x2="518.51" y1="220.4" y2="223.8" stroke="#000" stroke-width="0.6"/>
<line x1="520.43" x2="520.43" y1="220.4" y2="224.9" stroke="#000" stroke-width="1.0"/>
<text x="520.43" y="231.50" font-size="6.10" font-weight="bold" text-anchor="middle" textLength="16.3" lengthAdjust="spacingAndGlyphs" stroke="#000" stroke-width="0.30" >2020</text>
<line x1="522.36" x2="522.36" y1="220.4" y2="223.8" stroke="#000" stroke-width="0.6"/>
<line x1="524.28" x2="524.28" y1="220.4" y2="223.8" stroke="#000" stroke-width="0.6"/>
<line x1="526.20" x2="526.20" y1="220.4" y2="223.8" stroke="#000" stroke-width="0.6"/>
<line x1="528.13" x2="528.13" y1="220.4" y2="223.8" stroke="#000" stroke-width="0.6"/>
<line x1="530.05" x2="530.05" y1="220.4" y2="223.8" stroke="#000" stroke-width="0.6"/>
<line x1="531.97" x2="531.97" y1="220.4" y2="223.8" stroke="#000" stroke-width="0.6"/>
<line x1="533.90" x2="533.90" y1="220.4" y2="223.8" stroke="#000" stroke-width="0.6"/>
<line x1="535.82" x2="535.82" y1="220.4" y2="223.8" stroke="#000" stroke-width="0.6"/>
<line x1="537.74" x2="537.74" y1="220.4" y2="223.8" stroke="#000" stroke-width="0.6"/>
<line x1="539.67" x2="539.67" y1="220.4" y2="224.9" stroke="#000" stroke-width="1.0"/>
<text x="539.67" y="231.50" font-size="6.10" font-weight="bold" text-anchor="middle" textLength="16.3" lengthAdjust="spacingAndGlyphs" stroke="#000" stroke-width="0.30" >2030</text>
<line x1="541.59" x2="541.59" y1="220.4" y2="223.8" stroke="#000" stroke-width="0.6"/>
<line x1="543.51" x2="543.51" y1="220.4" y2="223.8" stroke="#000" stroke-width="0.6"/>
<line x1="545.44" x2="545.44" y1="220.4" y2="223.8" stroke="#000" stroke-width="0.6"/>
<line x1="547.36" x2="547.36" y1="220.4" y2="223.8" stroke="#000" stroke-width="0.6"/>
<line x1="549.28" x2="549.28" y1="220.4" y2="223.8" stroke="#000" stroke-width="0.6"/>
<line x1="551.21" x2="551.21" y1="220.4" y2="223.8" stroke="#000" stroke-width="0.6"/>
<line x1="553.13" x2="553.13" y1="220.4" y2="223.8" stroke="#000" stroke-width="0.6"/>
<line x1="555.05" x2="555.05" y1="220.4" y2="223.8" stroke="#000" stroke-width="0.6"/>
<line x1="556.98" x2="556.98" y1="220.4" y2="223.8" stroke="#000" stroke-width="0.6"/>
<line x1="558.90" x2="558.90" y1="220.4" y2="224.9" stroke="#000" stroke-width="1.0"/>
<text x="558.90" y="231.50" font-size="6.10" font-weight="bold" text-anchor="middle" textLength="16.3" lengthAdjust="spacingAndGlyphs" stroke="#000" stroke-width="0.30" >2040</text>
<line x1="560.82" x2="560.82" y1="220.4" y2="223.8" stroke="#000" stroke-width="0.6"/>
<line x1="562.75" x2="562.75" y1="220.4" y2="223.8" stroke="#000" stroke-width="0.6"/>
<line x1="564.67" x2="564.67" y1="220.4" y2="223.8" stroke="#000" stroke-width="0.6"/>
<line x1="566.59" x2="566.59" y1="220.4" y2="223.8" stroke="#000" stroke-width="0.6"/>
<line x1="568.52" x2="568.52" y1="220.4" y2="223.8" stroke="#000" stroke-width="0.6"/>
<line x1="570.44" x2="570.44" y1="220.4" y2="223.8" stroke="#000" stroke-width="0.6"/>
<line x1="572.36" x2="572.36" y1="220.4" y2="223.8" stroke="#000" stroke-width="0.6"/>
<line x1="574.29" x2="574.29" y1="220.4" y2="223.8" stroke="#000" stroke-width="0.6"/>
<line x1="576.21" x2="576.21" y1="220.4" y2="223.8" stroke="#000" stroke-width="0.6"/>
<line x1="578.13" x2="578.13" y1="220.4" y2="224.9" stroke="#000" stroke-width="1.0"/>
<text x="578.13" y="231.50" font-size="6.10" font-weight="bold" text-anchor="middle" textLength="16.3" lengthAdjust="spacingAndGlyphs" stroke="#000" stroke-width="0.30" >2050</text>
<line x1="580.06" x2="580.06" y1="220.4" y2="223.8" stroke="#000" stroke-width="0.6"/>
<line x1="581.98" x2="581.98" y1="220.4" y2="223.8" stroke="#000" stroke-width="0.6"/>
<line x1="583.90" x2="583.90" y1="220.4" y2="223.8" stroke="#000" stroke-width="0.6"/>
<line x1="585.83" x2="585.83" y1="220.4" y2="223.8" stroke="#000" stroke-width="0.6"/>
<line x1="587.75" x2="587.75" y1="220.4" y2="223.8" stroke="#000" stroke-width="0.6"/>
<line x1="589.67" x2="589.67" y1="220.4" y2="223.8" stroke="#000" stroke-width="0.6"/>
<line x1="591.60" x2="591.60" y1="220.4" y2="223.8" stroke="#000" stroke-width="0.6"/>
<line x1="593.52" x2="593.52" y1="220.4" y2="223.8" stroke="#000" stroke-width="0.6"/>
<line x1="595.44" x2="595.44" y1="220.4" y2="223.8" stroke="#000" stroke-width="0.6"/>
<line x1="597.37" x2="597.37" y1="220.4" y2="224.9" stroke="#000" stroke-width="1.0"/>
<text x="597.37" y="231.50" font-size="6.10" font-weight="bold" text-anchor="middle" textLength="16.3" lengthAdjust="spacingAndGlyphs" stroke="#000" stroke-width="0.30" >2060</text>
<line x1="599.29" x2="599.29" y1="220.4" y2="223.8" stroke="#000" stroke-width="0.6"/>
<line x1="601.21" x2="601.21" y1="220.4" y2="223.8" stroke="#000" stroke-width="0.6"/>
<line x1="603.14" x2="603.14" y1="220.4" y2="223.8" stroke="#000" stroke-width="0.6"/>
<line x1="605.06" x2="605.06" y1="220.4" y2="223.8" stroke="#000" stroke-width="0.6"/>
<line x1="606.98" x2="606.98" y1="220.4" y2="223.8" stroke="#000" stroke-width="0.6"/>
<line x1="608.91" x2="608.91" y1="220.4" y2="223.8" stroke="#000" stroke-width="0.6"/>
<line x1="610.83" x2="610.83" y1="220.4" y2="223.8" stroke="#000" stroke-width="0.6"/>
<line x1="612.75" x2="612.75" y1="220.4" y2="223.8" stroke="#000" stroke-width="0.6"/>
<line x1="614.68" x2="614.68" y1="220.4" y2="223.8" stroke="#000" stroke-width="0.6"/>
<line x1="616.60" x2="616.60" y1="220.4" y2="224.9" stroke="#000" stroke-width="1.0"/>
<text x="616.60" y="231.50" font-size="6.10" font-weight="bold" text-anchor="middle" textLength="16.3" lengthAdjust="spacingAndGlyphs" stroke="#000" stroke-width="0.30" >2070</text>
<line x1="618.52" x2="618.52" y1="220.4" y2="223.8" stroke="#000" stroke-width="0.6"/>
<line x1="620.45" x2="620.45" y1="220.4" y2="223.8" stroke="#000" stroke-width="0.6"/>
<line x1="622.37" x2="622.37" y1="220.4" y2="223.8" stroke="#000" stroke-width="0.6"/>
<line x1="624.29" x2="624.29" y1="220.4" y2="223.8" stroke="#000" stroke-width="0.6"/>
<line x1="626.22" x2="626.22" y1="220.4" y2="223.8" stroke="#000" stroke-width="0.6"/>
<line x1="628.14" x2="628.14" y1="220.4" y2="223.8" stroke="#000" stroke-width="0.6"/>
<line x1="630.06" x2="630.06" y1="220.4" y2="223.8" stroke="#000" stroke-width="0.6"/>
<line x1="631.99" x2="631.99" y1="220.4" y2="223.8" stroke="#000" stroke-width="0.6"/>
<line x1="633.91" x2="633.91" y1="220.4" y2="223.8" stroke="#000" stroke-width="0.6"/>
<line x1="635.83" x2="635.83" y1="220.4" y2="224.9" stroke="#000" stroke-width="1.0"/>
<text x="635.83" y="231.50" font-size="6.10" font-weight="bold" text-anchor="middle" textLength="16.3" lengthAdjust="spacingAndGlyphs" stroke="#000" stroke-width="0.30" >2080</text>
<line x1="637.76" x2="637.76" y1="220.4" y2="223.8" stroke="#000" stroke-width="0.6"/>
<line x1="639.68" x2="639.68" y1="220.4" y2="223.8" stroke="#000" stroke-width="0.6"/>
<line x1="641.60" x2="641.60" y1="220.4" y2="223.8" stroke="#000" stroke-width="0.6"/>
<line x1="643.53" x2="643.53" y1="220.4" y2="223.8" stroke="#000" stroke-width="0.6"/>
<line x1="645.45" x2="645.45" y1="220.4" y2="223.8" stroke="#000" stroke-width="0.6"/>
<line x1="647.37" x2="647.37" y1="220.4" y2="223.8" stroke="#000" stroke-width="0.6"/>
<line x1="649.30" x2="649.30" y1="220.4" y2="223.8" stroke="#000" stroke-width="0.6"/>
<line x1="651.22" x2="651.22" y1="220.4" y2="223.8" stroke="#000" stroke-width="0.6"/>
<line x1="653.14" x2="653.14" y1="220.4" y2="223.8" stroke="#000" stroke-width="0.6"/>
<line x1="655.07" x2="655.07" y1="220.4" y2="224.9" stroke="#000" stroke-width="1.0"/>
<text x="655.07" y="231.50" font-size="6.10" font-weight="bold" text-anchor="middle" textLength="16.3" lengthAdjust="spacingAndGlyphs" stroke="#000" stroke-width="0.30" >2090</text>
<line x1="656.99" x2="656.99" y1="220.4" y2="223.8" stroke="#000" stroke-width="0.6"/>
<line x1="658.91" x2="658.91" y1="220.4" y2="223.8" stroke="#000" stroke-width="0.6"/>
<line x1="660.84" x2="660.84" y1="220.4" y2="223.8" stroke="#000" stroke-width="0.6"/>
<line x1="662.76" x2="662.76" y1="220.4" y2="223.8" stroke="#000" stroke-width="0.6"/>
<line x1="664.68" x2="664.68" y1="220.4" y2="223.8" stroke="#000" stroke-width="0.6"/>
<line x1="666.61" x2="666.61" y1="220.4" y2="223.8" stroke="#000" stroke-width="0.6"/>
<line x1="668.53" x2="668.53" y1="220.4" y2="223.8" stroke="#000" stroke-width="0.6"/>
<line x1="670.45" x2="670.45" y1="220.4" y2="223.8" stroke="#000" stroke-width="0.6"/>
<line x1="672.38" x2="672.38" y1="220.4" y2="223.8" stroke="#000" stroke-width="0.6"/>
<line x1="674.30" x2="674.30" y1="220.4" y2="224.9" stroke="#000" stroke-width="1.0"/>
<text x="674.30" y="231.50" font-size="6.10" font-weight="bold" text-anchor="middle" textLength="16.3" lengthAdjust="spacingAndGlyphs" stroke="#000" stroke-width="0.30" >2100</text>
<rect x="384.1" y="15.5" width="290.2" height="204.9" fill="none" stroke="#000" stroke-width="1.4"/>
<text x="529.20" y="240.50" font-size="7.50" font-weight="bold" text-anchor="middle" textLength="17.6" lengthAdjust="spacingAndGlyphs" stroke="#000" stroke-width="0.30" >Year</text>
<text x="0.00" y="0.00" font-size="7.40" font-weight="bold" text-anchor="middle" textLength="119.7" lengthAdjust="spacingAndGlyphs" stroke="#000" stroke-width="0.25" transform="translate(355.80,120.70) rotate(-90)">ONE-day highest precipitation</text>
<text x="383.70" y="9.80" font-size="11.30" font-weight="bold" text-anchor="start" textLength="14.4" lengthAdjust="spacingAndGlyphs" stroke="#000" stroke-width="0.10" >(b)</text>
<rect x="385.6" y="18.3" width="97.8" height="61.0" rx="1" fill="#fff" fill-opacity="0.8" stroke="#d8d8d8" stroke-width="0.5"/>
<line x1="387.5" x2="398.1" y1="22.00" y2="22.00" stroke="#000000" stroke-width="1.4"/>
<text x="401.70" y="23.60" font-size="5.00" font-weight="bold" text-anchor="start" textLength="26.9" lengthAdjust="spacing" stroke="#000" stroke-width="0.28" >CPC (Obs)</text>
<line x1="387.5" x2="398.1" y1="28.79" y2="28.79" stroke="#008000" stroke-width="1.4"/>
<text x="401.70" y="30.39" font-size="5.00" font-weight="bold" text-anchor="start" textLength="50.0" lengthAdjust="spacing" stroke="#000" stroke-width="0.28" >CMIP6-MMM (Hist)</text>
<line x1="387.5" x2="398.1" y1="35.58" y2="35.58" stroke="#0000ff" stroke-width="1.4"/>
<text x="401.70" y="37.18" font-size="5.00" font-weight="bold" text-anchor="start" textLength="61.0" lengthAdjust="spacing" stroke="#000" stroke-width="0.28" >CMIP6-MMM (SSP 126)</text>
<line x1="387.5" x2="398.1" y1="42.37" y2="42.37" stroke="#d2691e" stroke-width="1.4"/>
<text x="401.70" y="43.97" font-size="5.00" font-weight="bold" text-anchor="start" textLength="61.0" lengthAdjust="spacing" stroke="#000" stroke-width="0.28" >CMIP6-MMM (SSP 245)</text>
<line x1="387.5" x2="398.1" y1="49.16" y2="49.16" stroke="#ff0000" stroke-width="1.4"/>
<text x="401.70" y="50.76" font-size="5.00" font-weight="bold" text-anchor="start" textLength="61.0" lengthAdjust="spacing" stroke="#000" stroke-width="0.28" >CMIP6-MMM (SSP 585)</text>
<rect x="387.5" y="54.45" width="10.6" height="3.0" fill="#bdb76b"/>
<text x="401.70" y="57.55" font-size="5.00" font-weight="bold" text-anchor="start" textLength="68.4" lengthAdjust="spacing" stroke="#000" stroke-width="0.28" >CMIP6-MMM (Hist +/- SD)</text>
<rect x="387.5" y="61.24" width="10.6" height="3.0" fill="#87cefa"/>
<text x="401.70" y="64.34" font-size="5.00" font-weight="bold" text-anchor="start" textLength="79.5" lengthAdjust="spacing" stroke="#000" stroke-width="0.28" >CMIP6-MMM (SSP 126 +/- SD)</text>
<rect x="387.5" y="68.03" width="10.6" height="3.0" fill="#ffdab9"/>
<text x="401.70" y="71.13" font-size="5.00" font-weight="bold" text-anchor="start" textLength="79.5" lengthAdjust="spacing" stroke="#000" stroke-width="0.28" >CMIP6-MMM (SSP 245 +/- SD)</text>
<rect x="387.5" y="74.82" width="10.6" height="3.0" fill="#fa8072"/>
<text x="401.70" y="77.92" font-size="5.00" font-weight="bold" text-anchor="start" textLength="79.5" lengthAdjust="spacing" stroke="#000" stroke-width="0.28" >CMIP6-MMM (SSP 585 +/- SD)</text>
<clipPath id="clipc"><rect x="35.0" y="257.0" width="302.5" height="203.7"/></clipPath>
<g clip-path="url(#clipc)">
<polygon points="36.2,375.1 38.2,357.4 40.2,371.3 42.2,375.1 44.2,325.8 46.2,337.9 48.3,352.8 50.3,365.8 52.3,341.6 54.3,365.8 56.3,322.1 58.3,356.5 60.3,360.2 62.3,369.5 64.3,322.1 66.3,347.2 68.3,359.3 70.3,378.8 72.4,358.3 74.4,369.5 76.4,373.2 78.4,330.4 80.4,369.5 82.4,375.1 84.4,376.9 86.4,375.1 88.4,380.6 90.4,350.9 92.4,362.0 94.5,335.1 96.5,358.3 98.5,347.2 100.5,356.5 102.5,350.9 104.5,360.2 106.5,371.3 108.5,353.7 110.5,363.9 112.5,365.8 114.5,354.6 116.5,371.3 118.6,367.6 120.6,378.8 122.6,365.8 124.6,336.0 126.6,360.2 128.6,363.9 130.6,358.3 132.6,363.9 134.6,360.2 136.2,359.4 139.3,338.7 141.4,357.3 143.4,361.4 145.5,363.5 147.6,371.8 149.2,344.9 151.3,359.4 152.7,349.0 154.8,369.7 156.9,357.3 158.9,363.5 161.0,351.1 163.1,361.4 164.7,367.6 164.8,367.6 164.8,448.5 163.0,447.1 160.7,444.0 158.8,441.0 156.8,436.4 154.8,431.8 153.0,436.4 151.2,441.0 149.2,431.0 146.9,441.0 145.0,437.9 143.0,445.6 141.0,455.5 139.2,450.2 136.9,445.6 134.6,446.1 132.6,443.2 130.6,444.6 128.6,441.7 126.6,440.3 124.6,438.8 122.6,435.9 120.6,447.6 118.6,440.3 116.5,435.9 114.5,434.4 112.5,438.8 110.5,441.7 108.5,447.6 106.5,446.8 104.5,446.1 102.5,444.6 100.5,443.2 98.5,447.6 96.5,454.9 94.5,446.1 92.4,440.3 90.4,438.8 88.4,437.3 86.4,435.9 84.4,437.3 82.4,436.6 80.4,438.8 78.4,444.6 76.4,435.9 74.4,438.8 72.4,450.5 70.3,443.2 68.3,450.5 66.3,449.0 64.3,454.9 62.3,456.3 60.3,437.3 58.3,450.5 56.3,444.6 54.3,438.8 52.3,441.7 50.3,447.6 48.3,453.4 46.2,444.6 44.2,447.6 42.2,438.8 40.2,430.0 38.2,433.0 36.2,441.7" fill="#bdb76b"/>
<polygon points="166.8,351.1 168.8,357.3 170.8,359.4 172.8,349.1 174.8,328.5 176.8,353.1 178.8,351.1 180.8,338.8 182.8,347.0 184.8,319.1 186.9,347.0 188.9,363.5 190.9,353.2 192.8,310.8 194.9,355.2 196.9,353.2 198.9,371.7 200.9,363.5 202.9,324.3 205.0,329.4 206.9,367.7 208.9,336.8 211.0,346.9 213.0,338.7 215.0,347.0 217.0,317.0 219.0,326.3 221.0,355.2 223.0,357.3 225.0,336.7 226.9,338.7 229.0,347.0 231.0,338.8 233.0,326.3 233.1,327.4 235.1,338.7 237.1,304.6 239.1,361.0 241.1,351.1 243.1,336.9 245.0,334.6 247.1,357.0 249.1,325.3 251.1,353.0 253.1,342.4 255.1,332.8 257.2,346.8 259.2,327.1 261.2,318.7 263.2,331.5 265.2,346.8 267.2,353.3 269.2,355.1 271.2,311.9 273.2,345.3 275.2,321.0 277.2,293.3 279.2,297.3 281.3,320.2 283.2,322.2 285.3,351.1 287.3,302.9 289.3,350.4 291.3,334.8 293.3,346.9 295.3,296.3 297.3,326.2 299.3,322.2 301.3,320.2 303.2,322.2 305.3,324.3 307.4,338.7 309.4,352.3 311.3,321.2 313.4,320.0 315.4,306.7 317.4,337.2 319.4,345.8 321.4,291.2 323.4,316.3 325.4,311.9 327.5,342.7 329.5,335.1 331.5,340.5 333.5,336.5 335.5,332.5 337.5,334.6 337.5,445.7 335.5,452.4 333.5,447.8 331.3,450.2 329.5,451.4 327.5,450.3 325.4,446.0 323.4,452.6 321.4,449.0 319.4,438.6 317.3,441.0 315.3,456.3 313.4,448.7 311.4,447.3 309.2,445.6 307.4,448.4 305.4,445.8 303.4,454.1 301.3,450.5 299.3,445.9 297.3,447.0 295.3,453.0 293.3,448.8 291.3,444.2 289.3,439.5 287.3,459.2 285.3,450.9 283.3,455.9 281.1,447.1 279.2,451.5 277.2,459.0 275.2,447.6 273.2,444.1 271.2,450.2 269.2,447.1 267.2,447.1 265.2,445.6 263.0,441.0 261.2,456.8 259.2,449.1 257.2,458.9 255.1,450.5 253.1,456.1 251.1,445.8 249.1,444.0 247.1,453.2 245.1,445.6 243.1,456.2 241.1,444.7 239.1,447.0 237.1,444.2 235.1,448.5 233.0,445.7 231.0,459.4 229.0,454.8 227.0,448.6 225.0,442.5 223.0,444.1 221.0,448.6 219.0,447.1 216.9,450.2 215.0,451.7 213.0,444.1 211.0,445.6 208.9,448.6 206.9,441.0 204.9,447.1 203.0,454.8 200.8,445.6 198.9,444.1 196.9,445.6 194.9,439.4 192.9,435.6 190.9,442.5 188.9,439.5 186.9,441.0 184.8,444.1 182.9,453.2 180.9,456.3 178.8,436.4 176.8,437.9 174.8,441.0 172.8,439.4 170.8,438.0 168.8,448.7 166.8,453.2" fill="#87cefa"/>
<polygon points="166.8,359.4 168.8,357.3 170.7,327.4 172.8,349.1 174.8,328.5 176.8,353.1 178.8,351.1 180.8,321.2 182.8,347.0 184.8,351.1 186.8,313.9 188.9,363.5 190.9,353.2 192.9,340.8 194.9,312.9 196.9,353.2 199.0,344.9 200.9,347.0 202.9,353.2 204.9,369.7 206.9,347.0 208.9,336.8 211.0,346.9 213.0,338.7 214.9,338.7 217.0,344.9 219.0,347.0 221.0,355.2 223.0,357.3 225.0,367.6 227.0,347.1 229.0,332.5 231.0,338.8 233.0,332.7 235.1,338.7 237.1,366.7 239.1,361.0 241.1,350.9 243.1,336.9 245.1,351.5 247.1,357.0 249.1,347.0 251.1,353.0 253.0,295.3 255.1,332.8 257.2,332.5 259.2,327.1 261.2,318.7 263.2,336.7 265.2,346.8 267.2,353.3 269.2,355.1 271.2,349.1 273.2,345.3 275.2,321.0 277.2,293.3 279.2,297.3 281.3,320.2 283.3,323.0 285.3,338.7 287.3,302.9 289.3,350.4 291.3,334.8 293.3,346.9 295.3,296.3 297.3,326.2 299.3,322.2 301.3,320.2 303.4,342.0 305.4,326.6 307.4,338.7 309.4,352.3 311.4,340.0 313.4,320.0 315.4,312.0 317.4,337.2 319.4,309.8 321.4,303.6 323.3,297.4 325.4,321.1 327.5,342.7 329.3,315.0 331.3,316.0 333.5,336.5 335.5,332.5 337.5,334.6 337.5,445.7 335.5,452.4 335.2,453.2 333.5,447.8 333.2,447.1 331.5,448.8 331.3,449.0 329.5,451.4 329.3,451.7 327.5,452.8 327.3,453.2 325.4,446.0 325.3,445.6 323.4,458.2 323.3,459.4 321.4,456.5 321.3,456.3 319.4,453.4 319.3,453.2 317.4,432.7 317.3,432.4 315.4,450.7 315.3,451.4 313.4,451.9 313.3,451.7 311.4,447.6 311.2,447.1 309.4,445.7 309.2,445.6 307.4,449.8 307.2,450.2 305.4,446.0 305.2,445.6 303.4,455.5 303.2,456.3 301.3,453.5 301.2,453.2 299.3,448.9 299.2,448.6 297.3,447.0 297.2,447.1 295.3,453.0 295.2,453.2 293.3,451.8 293.2,451.7 291.3,444.2 291.2,444.0 289.3,439.5 289.3,439.5 287.3,459.2 287.3,459.4 285.3,452.2 285.1,451.7 283.3,456.0 283.1,456.3 281.3,447.7 281.1,447.1 279.2,451.5 279.1,451.7 277.2,459.0 277.1,459.4 275.2,453.5 275.2,453.2 273.2,450.3 273.2,450.2 271.2,448.9 271.2,449.0 269.2,444.7 269.2,444.7 267.2,447.1 267.2,447.1 265.2,445.6 265.2,445.6 263.2,441.3 263.0,441.0 261.2,456.8 261.1,457.8 259.2,459.1 259.1,459.4 257.2,458.9 257.1,459.4 255.1,453.1 255.1,453.2 253.1,459.2 253.1,459.4 251.1,447.4 251.1,447.1 249.1,442.9 249.1,442.8 247.1,453.2 247.1,453.2 245.1,445.6 245.1,445.6 243.1,459.4 243.1,459.2 241.1,446.3 241.0,445.6 239.1,447.0 239.0,447.1 237.1,444.2 237.0,444.0 235.1,452.9 235.0,453.2 233.0,447.3 233.0,447.1 231.0,459.4 231.0,459.4 229.0,454.8 229.0,454.8 227.0,448.6 227.0,448.6 225.0,445.6 225.0,445.6 223.0,444.0 223.0,444.1 221.0,448.6 221.0,448.6 219.0,448.6 219.0,448.7 217.0,450.2 217.0,450.2 215.0,453.2 215.0,453.2 213.0,445.6 213.0,445.6 211.0,451.7 211.0,451.7 209.0,456.3 208.9,456.3 206.9,439.8 206.9,439.8 204.9,447.1 204.9,447.1 202.9,453.6 202.9,453.5 200.9,445.6 200.9,445.6 198.9,457.8 198.9,457.8 196.9,447.1 196.9,447.1 194.9,441.0 194.9,441.0 192.9,451.7 192.9,451.7 190.9,456.3 190.9,456.3 188.9,459.4 188.9,459.3 186.9,445.6 186.9,445.6 184.8,451.7 184.8,451.7 182.8,447.1 182.8,447.1 180.8,452.0 180.8,452.0 178.8,436.4 178.8,436.4 176.8,448.6 176.8,448.7 174.8,453.2 174.8,453.2 172.8,439.5 172.8,439.4 170.8,448.6 170.8,448.7 168.8,450.2 168.8,450.2 166.8,454.0 166.8,454.0" fill="#ffdab9"/>
<polygon points="166.8,359.4 166.8,359.4 168.8,357.3 170.8,359.4 172.8,349.0 174.8,328.4 176.8,353.2 178.8,351.1 180.8,338.7 182.8,347.0 184.8,351.1 186.9,347.0 188.9,363.5 190.9,353.2 192.9,340.8 194.9,355.2 196.9,353.2 198.9,371.8 200.9,363.5 202.9,353.2 204.9,369.7 206.9,367.6 209.0,336.7 211.0,347.0 213.0,338.7 215.0,347.0 217.0,344.9 219.0,347.0 221.0,355.2 223.0,357.3 225.0,367.6 227.0,347.0 229.0,347.0 231.0,338.7 233.0,332.5 235.1,338.7 237.1,367.6 239.0,361.4 241.1,351.1 243.1,336.7 245.0,351.1 247.0,357.3 249.1,347.0 251.2,353.2 253.0,342.9 255.1,332.5 257.2,347.0 259.2,326.3 261.1,318.1 263.2,336.7 265.2,347.0 267.1,353.2 269.2,355.2 271.2,349.0 273.1,347.0 275.1,322.2 277.2,293.3 279.3,297.4 281.1,320.1 283.2,322.2 285.3,351.1 287.3,301.5 289.2,351.1 291.3,334.6 293.3,347.0 295.2,294.3 297.3,326.3 299.3,322.2 301.4,320.1 303.2,342.9 305.3,326.3 307.4,338.7 309.2,353.2 311.3,340.8 313.4,320.1 315.4,311.9 317.3,336.7 319.4,347.0 321.4,303.6 323.3,316.0 325.4,320.1 327.4,342.9 329.3,334.6 331.3,340.8 333.4,336.7 335.5,332.5 337.3,334.6 337.5,334.6 337.5,445.7 335.2,453.2 333.2,447.1 331.3,448.6 329.3,451.7 327.3,450.2 325.3,445.6 323.3,453.2 321.3,448.6 319.3,437.9 317.3,430.3 315.3,450.2 313.3,448.6 311.2,447.1 309.2,445.6 307.2,448.6 305.2,445.6 303.2,454.8 301.2,450.2 299.2,445.6 297.2,447.1 295.2,453.2 293.2,448.6 291.2,444.0 289.3,439.5 287.3,459.4 285.1,450.2 283.1,456.3 281.1,447.1 279.1,451.7 277.1,459.4 275.2,447.1 273.2,444.0 271.2,448.6 269.2,444.0 267.2,447.1 265.2,445.6 263.0,441.0 261.1,457.8 259.1,448.6 257.1,459.4 255.1,450.2 253.1,456.3 251.1,445.6 249.1,442.5 247.1,453.2 245.1,445.6 243.1,456.3 241.0,444.0 239.0,447.1 237.0,444.0 235.0,448.6 233.0,445.6 231.0,459.4 229.0,454.8 227.0,448.6 225.0,442.5 223.0,444.0 221.0,448.6 219.0,447.1 217.0,450.2 215.0,451.7 213.0,444.0 211.0,445.6 209.0,448.6 206.9,439.5 204.9,447.1 202.9,453.2 200.9,445.6 198.9,444.0 196.9,445.6 194.9,439.5 192.9,435.6 190.9,442.5 188.9,439.5 186.9,441.0 184.8,444.0 182.8,445.6 180.8,450.9 178.8,436.4 176.8,437.9 174.8,441.0 172.8,439.5 170.8,437.9 168.8,448.6 166.8,453.2 166.8,453.2" fill="#fa8072"/>
<polyline points="36.2,408.0 38.2,392.0 40.2,405.5 42.2,406.0 44.2,387.4 46.2,389.5 48.3,397.7 50.3,404.9 52.3,391.5 54.3,402.9 56.3,382.2 58.3,407.0 60.3,408.0 62.3,407.0 64.3,384.8 66.3,398.7 68.3,403.9 70.3,413.2 72.4,406.0 74.4,406.0 76.4,397.7 78.4,387.9 80.4,407.0 82.4,407.0 84.4,407.0 86.4,406.5 88.4,411.1 90.4,395.6 92.4,409.1 94.5,392.6 96.5,402.9 98.5,410.1 100.5,396.7 102.5,410.1 104.5,406.0 106.5,406.0 108.5,407.0 110.5,411.1 112.5,402.9 114.5,393.1 116.5,397.7 118.6,411.7 120.6,399.8 122.6,403.9 124.6,388.4 126.6,403.9 128.6,414.2 130.6,400.8 132.6,406.0 134.6,404.9 136.6,400.8 138.6,392.6 140.7,403.9 142.7,407.0 144.7,399.8 146.7,411.1 148.7,388.4 150.7,402.9 152.7,392.6 154.7,404.9 156.7,398.7 158.7,404.9 160.7,399.8 162.7,404.9 164.8,411.1" fill="none" stroke="#008000" stroke-width="1.4" stroke-opacity="1.0" stroke-linejoin="round"/>
<polyline points="166.8,395.5 166.8,395.5 168.8,402.5 170.8,398.7 172.8,402.5 174.8,401.2 176.8,398.7 178.8,398.7 180.8,394.9 182.8,394.9 184.8,378.4 186.9,397.4 188.9,402.5 190.9,406.3 192.9,381.5 194.9,397.4 196.9,398.7 198.9,391.1 200.9,397.4 202.9,388.5 204.9,377.7 206.9,410.1 209.0,402.5 211.0,398.7 213.0,394.9 215.0,392.3 217.0,383.4 219.0,391.1 221.0,393.6 223.0,399.9 225.0,388.5 227.0,392.3 229.0,391.1 231.0,388.5 233.1,387.2 235.1,394.9 237.1,379.6 239.1,396.8 241.1,393.6 243.1,397.4 245.1,387.2 247.1,386.0 249.1,389.8 251.1,401.5 253.1,392.6 255.2,393.8 257.2,396.4 259.2,390.0 261.2,404.1 263.2,387.4 265.2,391.3 267.2,399.0 269.2,395.1 271.2,381.6 273.2,396.4 275.2,393.8 277.2,382.3 279.3,410.5 281.3,401.5 283.3,386.1 285.3,392.6 287.3,400.3 289.3,406.7 291.3,397.7 293.3,392.6 295.3,396.4 297.3,415.7 299.3,391.3 301.4,385.5 303.4,390.0 305.4,397.7 307.4,406.7 309.4,391.3 311.4,395.1 313.4,409.3 315.4,390.0 317.4,393.8 319.4,402.8 321.4,384.8 323.4,391.3 325.5,397.7 327.5,392.6 329.5,400.3 331.5,395.1 333.5,399.0 335.5,387.4 337.5,397.6" fill="none" stroke="#0000ff" stroke-width="1.4" stroke-opacity="1.0" stroke-linejoin="round"/>
<polyline points="166.8,406.3 166.8,406.3 168.8,401.2 170.8,391.1 172.8,402.5 174.8,399.9 176.8,411.4 178.8,398.7 180.8,382.2 182.8,398.7 184.8,402.5 186.9,392.3 188.9,407.6 190.9,398.7 192.9,403.8 194.9,378.4 196.9,398.7 198.9,408.8 200.9,401.2 202.9,419.0 204.9,403.8 206.9,397.4 209.0,402.5 211.0,405.0 213.0,402.5 215.0,411.4 217.0,402.5 219.0,401.2 221.0,398.7 223.0,402.5 225.0,410.1 227.0,397.4 229.0,389.8 231.0,402.5 233.1,394.9 235.1,397.4 237.1,403.8 239.1,402.5 241.1,405.0 243.1,408.8 245.1,402.5 247.1,403.8 249.1,397.4 251.1,402.8 253.1,382.3 255.2,384.8 257.2,400.3 259.2,409.3 261.2,395.1 263.2,399.0 265.2,393.8 267.2,397.7 269.2,413.1 271.2,414.4 273.2,396.4 275.2,400.3 277.2,390.0 279.3,391.3 281.3,408.0 283.3,406.7 285.3,396.4 287.3,390.0 289.3,401.5 291.3,397.7 293.3,399.0 295.3,396.4 297.3,383.6 299.3,404.1 301.4,399.0 303.4,396.4 305.4,411.8 307.4,396.4 309.4,399.0 311.4,395.1 313.4,391.3 315.4,392.6 317.4,397.7 319.4,388.7 321.4,384.8 323.4,375.9 325.5,395.1 327.5,399.0 329.5,392.6 331.5,411.8 333.5,391.3 335.5,404.1 337.5,405.4" fill="none" stroke="#d2691e" stroke-width="1.4" stroke-opacity="1.0" stroke-linejoin="round"/>
<polyline points="166.8,406.3 166.8,406.3 168.8,405.0 170.8,402.5 172.8,394.9 174.8,382.2 176.8,397.4 178.8,396.1 180.8,407.6 182.8,397.4 184.8,407.6 186.9,402.5 188.9,410.1 190.9,394.9 192.9,397.4 194.9,401.2 196.9,401.2 198.9,407.6 200.9,413.9 202.9,405.0 204.9,406.3 206.9,406.3 209.0,391.1 211.0,401.2 213.0,398.0 215.0,399.9 217.0,398.7 219.0,397.4 221.0,403.8 223.0,405.0 225.0,405.0 227.0,406.3 229.0,405.7 231.0,405.0 233.1,391.1 235.1,391.1 237.1,408.8 239.1,399.9 241.1,402.5 243.1,399.3 245.1,400.6 247.1,405.0 249.1,394.9 251.1,413.1 253.1,395.1 255.2,396.4 257.2,399.6 259.2,392.6 261.2,383.6 263.2,401.5 265.2,406.7 267.2,390.0 269.2,399.0 271.2,400.3 273.2,397.7 275.2,390.0 277.2,379.7 279.3,375.9 281.3,396.4 283.3,399.0 285.3,409.3 287.3,384.8 289.3,397.7 291.3,391.3 293.3,393.8 295.3,386.1 297.3,388.7 299.3,387.4 301.4,387.4 303.4,397.7 305.4,384.8 307.4,400.3 309.4,393.8 311.4,387.4 313.4,384.8 315.4,381.0 317.4,390.0 319.4,395.1 321.4,418.2 323.4,387.4 325.5,400.3 327.5,384.8 329.5,397.7 331.5,391.3 333.5,393.8 335.5,391.3 337.5,392.5" fill="none" stroke="#ff0000" stroke-width="1.4" stroke-opacity="1.0" stroke-linejoin="round"/>
<polyline points="94.5,370.5 96.5,393.8 98.5,419.7 100.5,326.8 102.5,396.7 104.5,417.1 106.5,431.3 108.5,367.6 110.5,410.9 112.5,369.9 114.5,402.5 116.5,420.0 118.6,422.9 120.6,385.0 122.6,379.2 124.6,426.4 126.6,340.2 128.6,364.7 130.6,373.4 132.6,393.8 134.6,419.1 136.6,418.5 138.6,417.1 140.7,415.9 142.7,408.9 144.7,417.1 146.7,396.7 148.7,369.6 150.7,421.4 152.7,411.2 154.7,399.6 156.7,386.8 158.7,422.0 160.7,420.0 162.7,414.1 164.8,408.3" fill="none" stroke="#000000" stroke-width="1.4" stroke-opacity="1.0" stroke-linejoin="round"/>
<line x1="35.0" x2="337.5" y1="402.5" y2="402.5" stroke="#000" stroke-width="1"/>
</g>
<line x1="30.0" x2="35.0" y1="460.70" y2="460.70" stroke="#000" stroke-width="1.1"/>
<text x="27.50" y="462.85" font-size="6.10" font-weight="bold" text-anchor="end" textLength="8.7" lengthAdjust="spacingAndGlyphs" stroke="#000" stroke-width="0.30" >−2</text>
<line x1="31.4" x2="35.0" y1="446.15" y2="446.15" stroke="#000" stroke-width="0.7"/>
<line x1="30.0" x2="35.0" y1="431.60" y2="431.60" stroke="#000" stroke-width="1.1"/>
<text x="27.50" y="433.75" font-size="6.10" font-weight="bold" text-anchor="end" textLength="8.7" lengthAdjust="spacingAndGlyphs" stroke="#000" stroke-width="0.30" >−1</text>
<line x1="31.4" x2="35.0" y1="417.05" y2="417.05" stroke="#000" stroke-width="0.7"/>
<line x1="30.0" x2="35.0" y1="402.50" y2="402.50" stroke="#000" stroke-width="1.1"/>
<text x="27.50" y="404.65" font-size="6.10" font-weight="bold" text-anchor="end" textLength="3.9" lengthAdjust="spacingAndGlyphs" stroke="#000" stroke-width="0.30" >0</text>
<line x1="31.4" x2="35.0" y1="387.95" y2="387.95" stroke="#000" stroke-width="0.7"/>
<line x1="30.0" x2="35.0" y1="373.40" y2="373.40" stroke="#000" stroke-width="1.1"/>
<text x="27.50" y="375.55" font-size="6.10" font-weight="bold" text-anchor="end" textLength="3.9" lengthAdjust="spacingAndGlyphs" stroke="#000" stroke-width="0.30" >1</text>
<line x1="31.4" x2="35.0" y1="358.85" y2="358.85" stroke="#000" stroke-width="0.7"/>
<line x1="30.0" x2="35.0" y1="344.30" y2="344.30" stroke="#000" stroke-width="1.1"/>
<text x="27.50" y="346.45" font-size="6.10" font-weight="bold" text-anchor="end" textLength="3.9" lengthAdjust="spacingAndGlyphs" stroke="#000" stroke-width="0.30" >2</text>
<line x1="31.4" x2="35.0" y1="329.75" y2="329.75" stroke="#000" stroke-width="0.7"/>
<line x1="30.0" x2="35.0" y1="315.20" y2="315.20" stroke="#000" stroke-width="1.1"/>
<text x="27.50" y="317.35" font-size="6.10" font-weight="bold" text-anchor="end" textLength="3.9" lengthAdjust="spacingAndGlyphs" stroke="#000" stroke-width="0.30" >3</text>
<line x1="31.4" x2="35.0" y1="300.65" y2="300.65" stroke="#000" stroke-width="0.7"/>
<line x1="30.0" x2="35.0" y1="286.10" y2="286.10" stroke="#000" stroke-width="1.1"/>
<text x="27.50" y="288.25" font-size="6.10" font-weight="bold" text-anchor="end" textLength="3.9" lengthAdjust="spacingAndGlyphs" stroke="#000" stroke-width="0.30" >4</text>
<line x1="31.4" x2="35.0" y1="271.55" y2="271.55" stroke="#000" stroke-width="0.7"/>
<line x1="30.0" x2="35.0" y1="257.00" y2="257.00" stroke="#000" stroke-width="1.1"/>
<text x="27.50" y="259.15" font-size="6.10" font-weight="bold" text-anchor="end" textLength="3.9" lengthAdjust="spacingAndGlyphs" stroke="#000" stroke-width="0.30" >5</text>
<line x1="36.20" x2="36.20" y1="460.7" y2="465.2" stroke="#000" stroke-width="1.0"/>
<text x="36.20" y="471.80" font-size="6.10" font-weight="bold" text-anchor="middle" textLength="16.3" lengthAdjust="spacingAndGlyphs" stroke="#000" stroke-width="0.30" >1950</text>
<line x1="38.21" x2="38.21" y1="460.7" y2="464.1" stroke="#000" stroke-width="0.6"/>
<line x1="40.22" x2="40.22" y1="460.7" y2="464.1" stroke="#000" stroke-width="0.6"/>
<line x1="42.23" x2="42.23" y1="460.7" y2="464.1" stroke="#000" stroke-width="0.6"/>
<line x1="44.23" x2="44.23" y1="460.7" y2="464.1" stroke="#000" stroke-width="0.6"/>
<line x1="46.24" x2="46.24" y1="460.7" y2="464.1" stroke="#000" stroke-width="0.6"/>
<line x1="48.25" x2="48.25" y1="460.7" y2="464.1" stroke="#000" stroke-width="0.6"/>
<line x1="50.26" x2="50.26" y1="460.7" y2="464.1" stroke="#000" stroke-width="0.6"/>
<line x1="52.27" x2="52.27" y1="460.7" y2="464.1" stroke="#000" stroke-width="0.6"/>
<line x1="54.28" x2="54.28" y1="460.7" y2="464.1" stroke="#000" stroke-width="0.6"/>
<line x1="56.29" x2="56.29" y1="460.7" y2="465.2" stroke="#000" stroke-width="1.0"/>
<text x="56.29" y="471.80" font-size="6.10" font-weight="bold" text-anchor="middle" textLength="16.3" lengthAdjust="spacingAndGlyphs" stroke="#000" stroke-width="0.30" >1960</text>
<line x1="58.30" x2="58.30" y1="460.7" y2="464.1" stroke="#000" stroke-width="0.6"/>
<line x1="60.30" x2="60.30" y1="460.7" y2="464.1" stroke="#000" stroke-width="0.6"/>
<line x1="62.31" x2="62.31" y1="460.7" y2="464.1" stroke="#000" stroke-width="0.6"/>
<line x1="64.32" x2="64.32" y1="460.7" y2="464.1" stroke="#000" stroke-width="0.6"/>
<line x1="66.33" x2="66.33" y1="460.7" y2="464.1" stroke="#000" stroke-width="0.6"/>
<line x1="68.34" x2="68.34" y1="460.7" y2="464.1" stroke="#000" stroke-width="0.6"/>
<line x1="70.35" x2="70.35" y1="460.7" y2="464.1" stroke="#000" stroke-width="0.6"/>
<line x1="72.36" x2="72.36" y1="460.7" y2="464.1" stroke="#000" stroke-width="0.6"/>
<line x1="74.36" x2="74.36" y1="460.7" y2="464.1" stroke="#000" stroke-width="0.6"/>
<line x1="76.37" x2="76.37" y1="460.7" y2="465.2" stroke="#000" stroke-width="1.0"/>
<text x="76.37" y="471.80" font-size="6.10" font-weight="bold" text-anchor="middle" textLength="16.3" lengthAdjust="spacingAndGlyphs" stroke="#000" stroke-width="0.30" >1970</text>
<line x1="78.38" x2="78.38" y1="460.7" y2="464.1" stroke="#000" stroke-width="0.6"/>
<line x1="80.39" x2="80.39" y1="460.7" y2="464.1" stroke="#000" stroke-width="0.6"/>
<line x1="82.40" x2="82.40" y1="460.7" y2="464.1" stroke="#000" stroke-width="0.6"/>
<line x1="84.41" x2="84.41" y1="460.7" y2="464.1" stroke="#000" stroke-width="0.6"/>
<line x1="86.42" x2="86.42" y1="460.7" y2="464.1" stroke="#000" stroke-width="0.6"/>
<line x1="88.43" x2="88.43" y1="460.7" y2="464.1" stroke="#000" stroke-width="0.6"/>
<line x1="90.43" x2="90.43" y1="460.7" y2="464.1" stroke="#000" stroke-width="0.6"/>
<line x1="92.44" x2="92.44" y1="460.7" y2="464.1" stroke="#000" stroke-width="0.6"/>
<line x1="94.45" x2="94.45" y1="460.7" y2="464.1" stroke="#000" stroke-width="0.6"/>
<line x1="96.46" x2="96.46" y1="460.7" y2="465.2" stroke="#000" stroke-width="1.0"/>
<text x="96.46" y="471.80" font-size="6.10" font-weight="bold" text-anchor="middle" textLength="16.3" lengthAdjust="spacingAndGlyphs" stroke="#000" stroke-width="0.30" >1980</text>
<line x1="98.47" x2="98.47" y1="460.7" y2="464.1" stroke="#000" stroke-width="0.6"/>
<line x1="100.48" x2="100.48" y1="460.7" y2="464.1" stroke="#000" stroke-width="0.6"/>
<line x1="102.49" x2="102.49" y1="460.7" y2="464.1" stroke="#000" stroke-width="0.6"/>
<line x1="104.49" x2="104.49" y1="460.7" y2="464.1" stroke="#000" stroke-width="0.6"/>
<line x1="106.50" x2="106.50" y1="460.7" y2="464.1" stroke="#000" stroke-width="0.6"/>
<line x1="108.51" x2="108.51" y1="460.7" y2="464.1" stroke="#000" stroke-width="0.6"/>
<line x1="110.52" x2="110.52" y1="460.7" y2="464.1" stroke="#000" stroke-width="0.6"/>
<line x1="112.53" x2="112.53" y1="460.7" y2="464.1" stroke="#000" stroke-width="0.6"/>
<line x1="114.54" x2="114.54" y1="460.7" y2="464.1" stroke="#000" stroke-width="0.6"/>
<line x1="116.55" x2="116.55" y1="460.7" y2="465.2" stroke="#000" stroke-width="1.0"/>
<text x="116.55" y="471.80" font-size="6.10" font-weight="bold" text-anchor="middle" textLength="16.3" lengthAdjust="spacingAndGlyphs" stroke="#000" stroke-width="0.30" >1990</text>
<line x1="118.56" x2="118.56" y1="460.7" y2="464.1" stroke="#000" stroke-width="0.6"/>
<line x1="120.56" x2="120.56" y1="460.7" y2="464.1" stroke="#000" stroke-width="0.6"/>
<line x1="122.57" x2="122.57" y1="460.7" y2="464.1" stroke="#000" stroke-width="0.6"/>
<line x1="124.58" x2="124.58" y1="460.7" y2="464.1" stroke="#000" stroke-width="0.6"/>
<line x1="126.59" x2="126.59" y1="460.7" y2="464.1" stroke="#000" stroke-width="0.6"/>
<line x1="128.60" x2="128.60" y1="460.7" y2="464.1" stroke="#000" stroke-width="0.6"/>
<line x1="130.61" x2="130.61" y1="460.7" y2="464.1" stroke="#000" stroke-width="0.6"/>
<line x1="132.62" x2="132.62" y1="460.7" y2="464.1" stroke="#000" stroke-width="0.6"/>
<line x1="134.62" x2="134.62" y1="460.7" y2="464.1" stroke="#000" stroke-width="0.6"/>
<line x1="136.63" x2="136.63" y1="460.7" y2="465.2" stroke="#000" stroke-width="1.0"/>
<text x="136.63" y="471.80" font-size="6.10" font-weight="bold" text-anchor="middle" textLength="16.3" lengthAdjust="spacingAndGlyphs" stroke="#000" stroke-width="0.30" >2000</text>
<line x1="138.64" x2="138.64" y1="460.7" y2="464.1" stroke="#000" stroke-width="0.6"/>
<line x1="140.65" x2="140.65" y1="460.7" y2="464.1" stroke="#000" stroke-width="0.6"/>
<line x1="142.66" x2="142.66" y1="460.7" y2="464.1" stroke="#000" stroke-width="0.6"/>
<line x1="144.67" x2="144.67" y1="460.7" y2="464.1" stroke="#000" stroke-width="0.6"/>
<line x1="146.68" x2="146.68" y1="460.7" y2="464.1" stroke="#000" stroke-width="0.6"/>
<line x1="148.69" x2="148.69" y1="460.7" y2="464.1" stroke="#000" stroke-width="0.6"/>
<line x1="150.69" x2="150.69" y1="460.7" y2="464.1" stroke="#000" stroke-width="0.6"/>
<line x1="152.70" x2="152.70" y1="460.7" y2="464.1" stroke="#000" stroke-width="0.6"/>
<line x1="154.71" x2="154.71" y1="460.7" y2="464.1" stroke="#000" stroke-width="0.6"/>
<line x1="156.72" x2="156.72" y1="460.7" y2="465.2" stroke="#000" stroke-width="1.0"/>
<text x="156.72" y="471.80" font-size="6.10" font-weight="bold" text-anchor="middle" textLength="16.3" lengthAdjust="spacingAndGlyphs" stroke="#000" stroke-width="0.30" >2010</text>
<line x1="158.73" x2="158.73" y1="460.7" y2="464.1" stroke="#000" stroke-width="0.6"/>
<line x1="160.74" x2="160.74" y1="460.7" y2="464.1" stroke="#000" stroke-width="0.6"/>
<line x1="162.75" x2="162.75" y1="460.7" y2="464.1" stroke="#000" stroke-width="0.6"/>
<line x1="164.75" x2="164.75" y1="460.7" y2="464.1" stroke="#000" stroke-width="0.6"/>
<line x1="166.76" x2="166.76" y1="460.7" y2="464.1" stroke="#000" stroke-width="0.6"/>
<line x1="168.77" x2="168.77" y1="460.7" y2="464.1" stroke="#000" stroke-width="0.6"/>
<line x1="170.78" x2="170.78" y1="460.7" y2="464.1" stroke="#000" stroke-width="0.6"/>
<line x1="172.79" x2="172.79" y1="460.7" y2="464.1" stroke="#000" stroke-width="0.6"/>
<line x1="174.80" x2="174.80" y1="460.7" y2="464.1" stroke="#000" stroke-width="0.6"/>
<line x1="176.81" x2="176.81" y1="460.7" y2="465.2" stroke="#000" stroke-width="1.0"/>
<text x="176.81" y="471.80" font-size="6.10" font-weight="bold" text-anchor="middle" textLength="16.3" lengthAdjust="spacingAndGlyphs" stroke="#000" stroke-width="0.30" >2020</text>
<line x1="178.82" x2="178.82" y1="460.7" y2="464.1" stroke="#000" stroke-width="0.6"/>
<line x1="180.82" x2="180.82" y1="460.7" y2="464.1" stroke="#000" stroke-width="0.6"/>
<line x1="182.83" x2="182.83" y1="460.7" y2="464.1" stroke="#000" stroke-width="0.6"/>
<line x1="184.84" x2="184.84" y1="460.7" y2="464.1" stroke="#000" stroke-width="0.6"/>
<line x1="186.85" x2="186.85" y1="460.7" y2="464.1" stroke="#000" stroke-width="0.6"/>
<line x1="188.86" x2="188.86" y1="460.7" y2="464.1" stroke="#000" stroke-width="0.6"/>
<line x1="190.87" x2="190.87" y1="460.7" y2="464.1" stroke="#000" stroke-width="0.6"/>
<line x1="192.88" x2="192.88" y1="460.7" y2="464.1" stroke="#000" stroke-width="0.6"/>
<line x1="194.88" x2="194.88" y1="460.7" y2="464.1" stroke="#000" stroke-width="0.6"/>
<line x1="196.89" x2="196.89" y1="460.7" y2="465.2" stroke="#000" stroke-width="1.0"/>
<text x="196.89" y="471.80" font-size="6.10" font-weight="bold" text-anchor="middle" textLength="16.3" lengthAdjust="spacingAndGlyphs" stroke="#000" stroke-width="0.30" >2030</text>
<line x1="198.90" x2="198.90" y1="460.7" y2="464.1" stroke="#000" stroke-width="0.6"/>
<line x1="200.91" x2="200.91" y1="460.7" y2="464.1" stroke="#000" stroke-width="0.6"/>
<line x1="202.92" x2="202.92" y1="460.7" y2="464.1" stroke="#000" stroke-width="0.6"/>
<line x1="204.93" x2="204.93" y1="460.7" y2="464.1" stroke="#000" stroke-width="0.6"/>
<line x1="206.94" x2="206.94" y1="460.7" y2="464.1" stroke="#000" stroke-width="0.6"/>
<line x1="208.95" x2="208.95" y1="460.7" y2="464.1" stroke="#000" stroke-width="0.6"/>
<line x1="210.95" x2="210.95" y1="460.7" y2="464.1" stroke="#000" stroke-width="0.6"/>
<line x1="212.96" x2="212.96" y1="460.7" y2="464.1" stroke="#000" stroke-width="0.6"/>
<line x1="214.97" x2="214.97" y1="460.7" y2="464.1" stroke="#000" stroke-width="0.6"/>
<line x1="216.98" x2="216.98" y1="460.7" y2="465.2" stroke="#000" stroke-width="1.0"/>
<text x="216.98" y="471.80" font-size="6.10" font-weight="bold" text-anchor="middle" textLength="16.3" lengthAdjust="spacingAndGlyphs" stroke="#000" stroke-width="0.30" >2040</text>
<line x1="218.99" x2="218.99" y1="460.7" y2="464.1" stroke="#000" stroke-width="0.6"/>
<line x1="221.00" x2="221.00" y1="460.7" y2="464.1" stroke="#000" stroke-width="0.6"/>
<line x1="223.01" x2="223.01" y1="460.7" y2="464.1" stroke="#000" stroke-width="0.6"/>
<line x1="225.01" x2="225.01" y1="460.7" y2="464.1" stroke="#000" stroke-width="0.6"/>
<line x1="227.02" x2="227.02" y1="460.7" y2="464.1" stroke="#000" stroke-width="0.6"/>
<line x1="229.03" x2="229.03" y1="460.7" y2="464.1" stroke="#000" stroke-width="0.6"/>
<line x1="231.04" x2="231.04" y1="460.7" y2="464.1" stroke="#000" stroke-width="0.6"/>
<line x1="233.05" x2="233.05" y1="460.7" y2="464.1" stroke="#000" stroke-width="0.6"/>
<line x1="235.06" x2="235.06" y1="460.7" y2="464.1" stroke="#000" stroke-width="0.6"/>
<line x1="237.07" x2="237.07" y1="460.7" y2="465.2" stroke="#000" stroke-width="1.0"/>
<text x="237.07" y="471.80" font-size="6.10" font-weight="bold" text-anchor="middle" textLength="16.3" lengthAdjust="spacingAndGlyphs" stroke="#000" stroke-width="0.30" >2050</text>
<line x1="239.08" x2="239.08" y1="460.7" y2="464.1" stroke="#000" stroke-width="0.6"/>
<line x1="241.08" x2="241.08" y1="460.7" y2="464.1" stroke="#000" stroke-width="0.6"/>
<line x1="243.09" x2="243.09" y1="460.7" y2="464.1" stroke="#000" stroke-width="0.6"/>
<line x1="245.10" x2="245.10" y1="460.7" y2="464.1" stroke="#000" stroke-width="0.6"/>
<line x1="247.11" x2="247.11" y1="460.7" y2="464.1" stroke="#000" stroke-width="0.6"/>
<line x1="249.12" x2="249.12" y1="460.7" y2="464.1" stroke="#000" stroke-width="0.6"/>
<line x1="251.13" x2="251.13" y1="460.7" y2="464.1" stroke="#000" stroke-width="0.6"/>
<line x1="253.14" x2="253.14" y1="460.7" y2="464.1" stroke="#000" stroke-width="0.6"/>
<line x1="255.14" x2="255.14" y1="460.7" y2="464.1" stroke="#000" stroke-width="0.6"/>
<line x1="257.15" x2="257.15" y1="460.7" y2="465.2" stroke="#000" stroke-width="1.0"/>
<text x="257.15" y="471.80" font-size="6.10" font-weight="bold" text-anchor="middle" textLength="16.3" lengthAdjust="spacingAndGlyphs" stroke="#000" stroke-width="0.30" >2060</text>
<line x1="259.16" x2="259.16" y1="460.7" y2="464.1" stroke="#000" stroke-width="0.6"/>
<line x1="261.17" x2="261.17" y1="460.7" y2="464.1" stroke="#000" stroke-width="0.6"/>
<line x1="263.18" x2="263.18" y1="460.7" y2="464.1" stroke="#000" stroke-width="0.6"/>
<line x1="265.19" x2="265.19" y1="460.7" y2="464.1" stroke="#000" stroke-width="0.6"/>
<line x1="267.20" x2="267.20" y1="460.7" y2="464.1" stroke="#000" stroke-width="0.6"/>
<line x1="269.21" x2="269.21" y1="460.7" y2="464.1" stroke="#000" stroke-width="0.6"/>
<line x1="271.21" x2="271.21" y1="460.7" y2="464.1" stroke="#000" stroke-width="0.6"/>
<line x1="273.22" x2="273.22" y1="460.7" y2="464.1" stroke="#000" stroke-width="0.6"/>
<line x1="275.23" x2="275.23" y1="460.7" y2="464.1" stroke="#000" stroke-width="0.6"/>
<line x1="277.24" x2="277.24" y1="460.7" y2="465.2" stroke="#000" stroke-width="1.0"/>
<text x="277.24" y="471.80" font-size="6.10" font-weight="bold" text-anchor="middle" textLength="16.3" lengthAdjust="spacingAndGlyphs" stroke="#000" stroke-width="0.30" >2070</text>
<line x1="279.25" x2="279.25" y1="460.7" y2="464.1" stroke="#000" stroke-width="0.6"/>
<line x1="281.26" x2="281.26" y1="460.7" y2="464.1" stroke="#000" stroke-width="0.6"/>
<line x1="283.27" x2="283.27" y1="460.7" y2="464.1" stroke="#000" stroke-width="0.6"/>
<line x1="285.27" x2="285.27" y1="460.7" y2="464.1" stroke="#000" stroke-width="0.6"/>
<line x1="287.28" x2="287.28" y1="460.7" y2="464.1" stroke="#000" stroke-width="0.6"/>
<line x1="289.29" x2="289.29" y1="460.7" y2="464.1" stroke="#000" stroke-width="0.6"/>
<line x1="291.30" x2="291.30" y1="460.7" y2="464.1" stroke="#000" stroke-width="0.6"/>
<line x1="293.31" x2="293.31" y1="460.7" y2="464.1" stroke="#000" stroke-width="0.6"/>
<line x1="295.32" x2="295.32" y1="460.7" y2="464.1" stroke="#000" stroke-width="0.6"/>
<line x1="297.33" x2="297.33" y1="460.7" y2="465.2" stroke="#000" stroke-width="1.0"/>
<text x="297.33" y="471.80" font-size="6.10" font-weight="bold" text-anchor="middle" textLength="16.3" lengthAdjust="spacingAndGlyphs" stroke="#000" stroke-width="0.30" >2080</text>
<line x1="299.34" x2="299.34" y1="460.7" y2="464.1" stroke="#000" stroke-width="0.6"/>
<line x1="301.34" x2="301.34" y1="460.7" y2="464.1" stroke="#000" stroke-width="0.6"/>
<line x1="303.35" x2="303.35" y1="460.7" y2="464.1" stroke="#000" stroke-width="0.6"/>
<line x1="305.36" x2="305.36" y1="460.7" y2="464.1" stroke="#000" stroke-width="0.6"/>
<line x1="307.37" x2="307.37" y1="460.7" y2="464.1" stroke="#000" stroke-width="0.6"/>
<line x1="309.38" x2="309.38" y1="460.7" y2="464.1" stroke="#000" stroke-width="0.6"/>
<line x1="311.39" x2="311.39" y1="460.7" y2="464.1" stroke="#000" stroke-width="0.6"/>
<line x1="313.40" x2="313.40" y1="460.7" y2="464.1" stroke="#000" stroke-width="0.6"/>
<line x1="315.40" x2="315.40" y1="460.7" y2="464.1" stroke="#000" stroke-width="0.6"/>
<line x1="317.41" x2="317.41" y1="460.7" y2="465.2" stroke="#000" stroke-width="1.0"/>
<text x="317.41" y="471.80" font-size="6.10" font-weight="bold" text-anchor="middle" textLength="16.3" lengthAdjust="spacingAndGlyphs" stroke="#000" stroke-width="0.30" >2090</text>
<line x1="319.42" x2="319.42" y1="460.7" y2="464.1" stroke="#000" stroke-width="0.6"/>
<line x1="321.43" x2="321.43" y1="460.7" y2="464.1" stroke="#000" stroke-width="0.6"/>
<line x1="323.44" x2="323.44" y1="460.7" y2="464.1" stroke="#000" stroke-width="0.6"/>
<line x1="325.45" x2="325.45" y1="460.7" y2="464.1" stroke="#000" stroke-width="0.6"/>
<line x1="327.46" x2="327.46" y1="460.7" y2="464.1" stroke="#000" stroke-width="0.6"/>
<line x1="329.47" x2="329.47" y1="460.7" y2="464.1" stroke="#000" stroke-width="0.6"/>
<line x1="331.47" x2="331.47" y1="460.7" y2="464.1" stroke="#000" stroke-width="0.6"/>
<line x1="333.48" x2="333.48" y1="460.7" y2="464.1" stroke="#000" stroke-width="0.6"/>
<line x1="335.49" x2="335.49" y1="460.7" y2="464.1" stroke="#000" stroke-width="0.6"/>
<line x1="337.50" x2="337.50" y1="460.7" y2="465.2" stroke="#000" stroke-width="1.0"/>
<text x="337.50" y="471.80" font-size="6.10" font-weight="bold" text-anchor="middle" textLength="16.3" lengthAdjust="spacingAndGlyphs" stroke="#000" stroke-width="0.30" >2100</text>
<rect x="35.0" y="257.0" width="302.5" height="203.7" fill="none" stroke="#000" stroke-width="1.4"/>
<text x="186.25" y="480.80" font-size="7.50" font-weight="bold" text-anchor="middle" textLength="17.6" lengthAdjust="spacingAndGlyphs" stroke="#000" stroke-width="0.30" >Year</text>
<text x="0.00" y="0.00" font-size="7.60" font-weight="bold" text-anchor="middle" textLength="133.2" lengthAdjust="spacingAndGlyphs" stroke="#000" stroke-width="0.25" transform="translate(14.90,360.20) rotate(-90)">Precipitation amount >10mm days</text>
<text x="34.10" y="252.20" font-size="11.30" font-weight="bold" text-anchor="start" textLength="13.6" lengthAdjust="spacingAndGlyphs" stroke="#000" stroke-width="0.10" >(c)</text>
<rect x="37.3" y="259.5" width="97.9" height="61.3" rx="1" fill="#fff" fill-opacity="0.8" stroke="#d8d8d8" stroke-width="0.5"/>
<line x1="38.8" x2="49.3" y1="263.50" y2="263.50" stroke="#000000" stroke-width="1.4"/>
<text x="53.00" y="265.10" font-size="5.00" font-weight="bold" text-anchor="start" textLength="27.0" lengthAdjust="spacing" stroke="#000" stroke-width="0.28" >CPC (Obs)</text>
<line x1="38.8" x2="49.3" y1="270.33" y2="270.33" stroke="#008000" stroke-width="1.4"/>
<text x="53.00" y="271.93" font-size="5.00" font-weight="bold" text-anchor="start" textLength="50.1" lengthAdjust="spacing" stroke="#000" stroke-width="0.28" >CMIP6-MMM (Hist)</text>
<line x1="38.8" x2="49.3" y1="277.16" y2="277.16" stroke="#0000ff" stroke-width="1.4"/>
<text x="53.00" y="278.76" font-size="5.00" font-weight="bold" text-anchor="start" textLength="61.2" lengthAdjust="spacing" stroke="#000" stroke-width="0.28" >CMIP6-MMM (SSP 126)</text>
<line x1="38.8" x2="49.3" y1="283.99" y2="283.99" stroke="#d2691e" stroke-width="1.4"/>
<text x="53.00" y="285.59" font-size="5.00" font-weight="bold" text-anchor="start" textLength="61.2" lengthAdjust="spacing" stroke="#000" stroke-width="0.28" >CMIP6-MMM (SSP 245)</text>
<line x1="38.8" x2="49.3" y1="290.82" y2="290.82" stroke="#ff0000" stroke-width="1.4"/>
<text x="53.00" y="292.42" font-size="5.00" font-weight="bold" text-anchor="start" textLength="61.2" lengthAdjust="spacing" stroke="#000" stroke-width="0.28" >CMIP6-MMM (SSP 585)</text>
<rect x="38.8" y="296.15" width="10.5" height="3.0" fill="#bdb76b"/>
<text x="53.00" y="299.25" font-size="5.00" font-weight="bold" text-anchor="start" textLength="68.7" lengthAdjust="spacing" stroke="#000" stroke-width="0.28" >CMIP6-MMM (Hist +/- SD)</text>
<rect x="38.8" y="302.98" width="10.5" height="3.0" fill="#87cefa"/>
<text x="53.00" y="306.08" font-size="5.00" font-weight="bold" text-anchor="start" textLength="79.8" lengthAdjust="spacing" stroke="#000" stroke-width="0.28" >CMIP6-MMM (SSP 126 +/- SD)</text>
<rect x="38.8" y="309.81" width="10.5" height="3.0" fill="#ffdab9"/>
<text x="53.00" y="312.91" font-size="5.00" font-weight="bold" text-anchor="start" textLength="79.8" lengthAdjust="spacing" stroke="#000" stroke-width="0.28" >CMIP6-MMM (SSP 245 +/- SD)</text>
<rect x="38.8" y="316.64" width="10.5" height="3.0" fill="#fa8072"/>
<text x="53.00" y="319.74" font-size="5.00" font-weight="bold" text-anchor="start" textLength="79.8" lengthAdjust="spacing" stroke="#000" stroke-width="0.28" >CMIP6-MMM (SSP 585 +/- SD)</text>
<clipPath id="clipd"><rect x="384.7" y="256.1" width="291.2" height="206.0"/></clipPath>
<g clip-path="url(#clipd)">
<polygon points="386.2,336.5 388.1,335.0 390.1,343.8 392.0,324.8 393.9,330.7 395.9,335.0 397.8,334.3 399.7,339.4 401.7,329.2 403.6,317.5 405.5,330.7 407.4,319.0 409.4,317.5 411.3,329.2 413.2,336.5 415.2,317.5 417.1,319.0 419.0,326.3 421.0,317.5 422.9,329.2 424.8,338.0 426.8,317.5 428.7,319.0 430.6,335.0 432.6,316.1 434.5,319.0 436.4,317.5 438.3,319.0 440.3,348.2 442.2,317.5 444.1,316.1 446.1,319.0 448.0,336.5 449.9,317.5 451.9,320.4 453.8,321.9 484.8,322.1 487.3,305.6 489.8,325.4 492.7,296.5 494.7,318.8 497.2,325.4 499.7,315.5 502.1,327.1 504.6,322.1 507.1,312.2 509.6,299.8 509.8,299.8 509.8,430.8 509.2,431.4 507.0,429.2 504.8,436.5 502.6,433.6 500.4,435.8 498.7,429.2 496.8,431.4 494.6,435.0 492.4,427.0 490.2,432.1 488.0,438.0 485.8,435.0 483.6,429.2 480.8,433.0 478.9,433.7 477.0,437.3 475.0,435.9 473.1,433.0 471.2,435.9 469.2,431.5 467.3,438.8 465.4,437.3 463.5,451.9 461.5,443.2 459.6,435.9 457.7,431.5 455.7,433.0 453.8,435.9 451.9,434.4 449.9,428.6 448.0,431.5 446.1,425.7 444.1,438.8 442.2,433.0 440.3,437.3 438.3,431.5 436.4,438.8 434.5,433.0 432.6,424.2 430.6,438.8 428.7,434.4 426.8,431.5 424.8,434.4 422.9,430.0 421.0,441.7 419.0,427.1 417.1,405.2 415.2,428.6 413.2,440.3 411.3,434.4 409.4,422.7 407.4,424.2 405.5,438.8 403.6,423.5 401.7,435.9 399.7,434.4 397.8,431.5 395.9,428.6 393.9,440.3 392.0,430.0 390.1,437.3 388.1,441.7 386.2,431.5" fill="#bdb76b"/>
<polygon points="511.7,324.7 513.7,316.7 515.6,301.7 517.5,328.3 519.5,332.6 521.4,306.8 523.2,314.6 525.3,324.7 527.2,318.2 529.1,314.9 531.0,294.3 533.0,306.7 534.9,303.4 536.8,325.0 538.8,331.3 540.7,321.5 542.6,316.2 544.6,297.7 546.5,302.0 548.4,316.4 550.4,307.3 552.3,340.6 554.3,302.2 556.2,310.0 558.1,310.2 560.1,305.0 562.0,324.4 563.9,300.3 565.8,311.9 567.7,311.6 569.7,306.9 571.6,317.6 573.5,287.4 575.5,318.1 577.4,309.9 579.3,306.7 581.3,306.5 583.2,299.9 585.1,289.3 587.1,300.8 589.0,295.4 590.9,311.0 592.9,297.7 594.8,303.3 596.7,312.9 598.6,324.2 600.6,313.3 602.6,312.4 604.4,315.8 606.4,318.2 608.3,323.1 610.2,324.8 612.2,328.1 614.1,283.0 616.0,316.3 618.0,320.0 619.9,310.0 621.8,323.9 623.8,293.5 625.7,304.8 627.7,306.7 629.5,305.1 631.5,313.1 633.4,321.2 635.3,301.8 637.3,298.4 639.2,324.3 641.1,300.3 643.1,318.0 645.0,323.0 646.9,302.2 648.9,331.2 650.9,310.8 652.7,326.2 654.7,311.7 656.7,316.6 658.5,323.7 660.4,273.8 662.4,294.4 664.3,315.0 666.2,316.6 668.2,308.6 670.1,316.4 672.0,311.6 674.0,306.8 675.9,311.4 675.9,449.5 674.0,446.9 672.0,435.8 670.1,447.5 668.2,446.9 666.1,452.6 664.2,445.3 662.4,438.0 660.4,443.8 658.5,442.0 656.6,445.0 654.7,446.6 652.7,443.9 650.8,439.5 648.9,440.8 646.9,439.5 645.0,438.0 643.0,443.8 641.0,443.8 639.2,443.0 637.3,445.2 635.3,443.9 633.4,439.8 631.5,438.1 629.5,433.8 627.6,435.0 625.7,429.4 623.6,455.5 621.8,438.0 619.9,439.3 617.9,440.9 616.0,438.8 614.1,428.6 612.2,438.8 610.2,443.6 608.1,445.3 606.2,443.8 604.4,440.8 602.5,443.7 600.6,439.8 598.5,440.9 596.6,449.6 594.8,438.3 592.9,428.8 590.9,442.3 588.8,454.0 587.1,428.1 585.1,438.9 583.0,454.0 581.1,440.9 579.3,439.1 577.4,446.8 575.5,445.7 573.4,448.2 571.5,446.7 569.6,443.8 567.7,433.5 565.8,439.3 563.9,417.9 562.0,429.0 560.0,432.1 558.1,435.0 556.1,446.7 554.2,436.5 552.3,436.5 550.4,429.2 548.4,436.4 546.4,448.2 544.6,426.3 542.6,448.2 540.7,429.3 538.8,437.8 536.8,426.5 534.9,430.6 533.0,427.8 531.0,427.7 529.1,429.2 527.2,430.6 525.3,435.0 523.2,442.3 521.3,435.8 519.5,434.9 517.5,442.3 515.6,435.1 513.7,433.6 511.7,436.4" fill="#87cefa"/>
<polygon points="511.6,292.6 513.6,293.4 515.6,321.7 517.5,328.3 519.4,311.6 521.4,306.8 523.3,315.1 525.2,308.3 527.2,318.2 529.0,310.0 531.0,309.9 533.0,306.7 534.9,310.3 536.8,325.0 538.8,331.3 540.7,314.9 542.6,316.2 544.6,297.7 546.5,302.0 548.3,291.8 550.3,300.1 552.3,301.7 554.2,301.9 556.2,310.0 558.1,310.2 560.0,320.0 562.0,324.4 563.9,300.3 565.9,295.9 567.7,326.1 569.7,307.0 571.6,317.6 573.5,287.4 575.5,318.1 577.4,309.9 579.3,291.8 581.3,306.5 583.2,299.9 585.1,292.8 587.1,300.8 589.1,288.5 590.9,300.1 592.9,297.7 594.8,303.3 596.7,312.9 598.6,324.2 600.6,326.5 602.5,329.7 604.4,315.8 606.4,318.2 608.4,294.3 610.2,324.8 612.2,328.1 614.1,283.0 616.0,316.3 618.0,320.0 619.9,337.7 621.8,323.9 623.8,293.5 625.7,291.8 627.6,327.1 629.5,305.1 631.5,313.1 633.4,321.2 635.3,301.8 637.3,311.5 639.3,288.5 641.1,300.3 643.1,318.0 645.1,310.0 646.9,302.2 648.9,331.2 650.8,312.4 652.7,310.0 654.7,308.3 656.6,337.2 658.5,323.7 660.4,273.8 662.4,294.4 664.3,303.3 666.2,316.6 668.2,308.6 670.1,316.4 672.0,311.6 674.0,306.8 675.9,311.4 675.9,451.0 674.0,448.4 673.8,448.2 672.0,450.9 671.9,451.1 670.1,451.1 670.0,451.1 668.2,448.5 668.0,448.2 666.2,444.9 666.1,444.7 664.3,440.3 664.2,440.0 662.4,442.4 662.3,442.3 660.4,425.9 660.4,425.4 658.5,445.3 658.5,445.3 656.6,446.6 656.4,446.7 654.7,448.1 654.5,448.2 652.7,452.4 652.6,452.6 650.8,442.6 650.7,442.3 648.9,443.7 648.7,443.8 646.9,443.8 646.8,443.8 645.0,441.0 644.9,440.9 643.1,432.2 643.0,432.0 641.1,434.4 641.0,434.6 639.2,446.5 639.1,446.7 637.3,446.7 637.2,446.7 635.3,446.7 635.3,446.7 633.4,441.4 633.2,440.9 631.5,438.2 631.3,438.0 629.5,433.8 629.4,433.6 627.6,435.0 627.5,435.0 625.7,436.5 625.6,436.5 623.8,439.1 623.6,439.7 621.8,446.0 621.7,445.3 619.9,441.1 619.8,440.9 618.0,433.2 617.9,433.0 616.0,441.0 615.9,440.9 614.1,440.9 614.0,440.9 612.2,443.6 612.1,443.8 610.2,445.2 610.2,445.3 608.3,443.9 608.1,443.9 606.4,440.2 606.2,439.9 604.4,442.7 604.3,442.3 602.5,446.5 602.4,446.7 600.6,444.1 600.4,443.8 598.6,436.0 598.5,435.6 596.7,443.8 596.6,444.4 594.8,449.7 594.7,449.6 592.9,444.4 592.6,443.8 590.9,447.8 590.7,448.2 589.0,436.3 588.8,435.6 587.1,440.3 586.9,439.4 585.1,442.2 585.1,442.3 583.2,431.3 583.0,430.4 581.3,435.1 581.1,435.6 579.3,443.7 579.2,443.8 577.5,451.1 577.4,451.0 576.0,448.2 575.5,448.2 573.5,437.8 573.5,437.7 571.6,428.5 571.6,428.3 569.7,430.6 569.6,430.7 567.7,445.2 567.7,445.3 565.8,439.5 565.8,439.4 563.9,440.8 563.8,440.9 562.0,439.4 561.9,439.4 560.0,438.0 560.0,438.0 558.1,443.7 558.1,443.8 556.2,434.9 556.1,434.9 554.2,435.2 554.2,435.2 552.3,430.0 552.3,429.9 550.4,436.5 550.3,436.5 548.4,440.8 548.4,440.9 546.5,431.2 546.5,431.1 544.6,442.4 544.5,442.3 542.6,436.2 542.6,436.4 540.7,443.9 540.7,443.8 538.8,453.8 538.7,454.0 536.8,431.1 536.8,430.7 534.9,439.2 534.9,439.4 533.0,445.1 532.9,445.3 531.0,438.1 531.0,438.0 529.1,440.8 529.1,440.9 527.2,442.3 527.2,442.3 525.3,433.7 525.2,433.7 523.3,429.3 523.3,429.2 521.4,429.8 521.4,429.9 519.5,437.9 519.4,438.0 517.5,438.3 517.5,438.4 515.6,435.2 515.6,435.0 513.7,439.3 513.6,439.4 511.7,442.3" fill="#ffdab9"/>
<polygon points="511.7,324.7 513.6,316.6 515.6,321.6 517.5,328.2 519.4,333.1 521.4,306.7 523.3,314.9 525.2,324.9 527.2,318.3 529.1,314.9 531.0,310.0 532.9,306.7 534.9,310.0 536.8,324.9 538.7,331.5 540.7,321.6 542.6,316.6 544.5,297.6 546.5,301.7 548.4,316.6 550.3,306.7 552.3,341.4 554.2,301.7 556.1,310.0 558.1,310.0 560.0,319.9 561.9,324.9 563.8,300.1 565.8,311.6 567.7,326.5 569.6,306.7 571.6,318.3 573.5,286.8 575.4,318.3 577.4,310.0 579.3,306.7 581.2,306.7 583.2,300.1 585.1,292.6 587.0,300.9 589.0,295.1 591.0,311.6 593.0,296.7 594.8,303.3 596.8,313.3 598.8,324.9 600.6,326.5 602.6,329.8 604.6,314.9 606.4,318.2 608.4,323.2 610.3,324.9 612.2,328.2 614.1,281.8 616.1,318.2 618.0,319.9 619.9,338.1 621.9,323.2 623.7,293.4 625.7,305.0 627.7,328.2 629.5,305.0 631.5,313.3 633.5,321.5 635.3,301.7 637.3,311.6 639.3,324.9 641.1,300.0 643.1,318.2 645.1,323.2 646.9,301.7 648.9,331.5 650.9,311.6 652.7,326.5 654.7,311.6 656.7,338.1 658.5,324.9 660.5,273.6 662.4,295.1 664.3,314.9 666.2,316.6 668.2,308.3 670.1,316.6 672.0,311.6 674.0,306.7 675.9,311.4 675.9,449.5 673.8,446.7 671.9,435.0 670.0,448.2 668.0,446.7 666.1,443.8 664.2,439.4 662.3,438.0 660.4,423.4 658.5,442.3 656.4,445.3 654.5,446.7 652.6,443.8 650.7,439.4 648.7,440.9 646.8,439.4 644.9,438.0 643.0,430.7 641.0,433.6 639.1,443.8 637.2,445.3 635.3,443.8 633.2,439.4 631.3,438.0 629.4,433.6 627.5,435.0 625.6,429.2 623.6,438.0 621.7,438.0 619.8,439.4 617.9,432.1 615.9,439.4 614.0,427.7 612.1,439.4 610.2,443.8 608.1,443.8 606.2,439.4 604.3,440.9 602.4,443.8 600.4,439.4 598.5,435.0 596.6,443.8 594.7,438.0 592.6,427.7 590.7,443.8 588.8,433.6 586.9,427.7 585.1,439.4 583.0,427.7 581.1,435.0 579.2,439.4 577.5,446.7 576.0,448.2 573.5,436.5 571.6,426.3 569.6,429.2 567.7,433.6 565.8,439.4 563.8,417.5 561.9,429.2 560.0,432.1 558.1,435.0 556.1,433.6 554.2,435.0 552.3,429.2 550.3,429.2 548.4,436.5 546.5,429.2 544.5,426.3 542.6,435.0 540.7,429.2 538.7,438.0 536.8,426.3 534.9,430.7 532.9,427.7 531.0,427.7 529.1,429.2 527.2,430.7 525.2,433.6 523.3,427.7 521.4,429.2 519.4,435.0 517.5,438.0 515.6,435.0 513.6,433.6 511.7,436.4" fill="#fa8072"/>
<polyline points="386.2,384.0 388.1,387.8 390.1,390.9 392.0,376.0 393.9,387.1 395.9,380.3 397.8,382.8 399.7,387.1 401.7,387.8 403.6,369.8 405.5,395.2 407.4,372.3 409.4,366.1 411.3,382.2 413.2,389.6 415.2,383.4 417.1,345.0 419.0,358.6 421.0,377.2 422.9,378.5 424.8,383.4 426.8,383.4 428.7,384.7 430.6,386.5 432.6,364.8 434.5,372.3 436.4,376.0 438.3,391.5 440.3,380.9 442.2,385.9 444.1,365.4 446.1,368.5 448.0,389.6 449.9,373.5 451.9,375.9 453.8,356.1 455.7,384.6 457.7,380.9 459.6,372.2 461.5,388.3 463.5,389.6 465.4,371.0 467.3,389.6 469.2,379.6 471.2,371.0 473.1,379.6 475.0,383.4 477.0,377.2 478.9,387.1 480.8,373.5 482.8,371.0 484.7,388.3 486.6,372.2 488.6,387.1 490.5,379.6 492.4,361.1 494.4,382.1 496.3,379.6 498.2,373.5 500.1,379.6 502.1,388.3 504.0,393.3 505.9,379.6 507.9,372.2 509.8,363.5 509.8,363.5" fill="none" stroke="#008000" stroke-width="1.4" stroke-opacity="1.0" stroke-linejoin="round"/>
<polyline points="511.7,377.5 513.6,392.0 515.6,369.2 517.5,385.3 519.4,377.2 521.4,392.0 523.3,373.2 525.2,374.5 527.2,400.0 529.1,382.6 531.0,363.8 532.9,367.8 534.9,370.5 536.8,382.6 538.7,378.6 540.7,377.2 542.6,389.3 544.5,375.9 546.5,381.3 548.4,385.3 550.3,377.2 552.3,382.6 554.2,378.6 556.1,390.6 558.1,383.9 560.0,373.2 561.9,383.9 563.8,381.3 565.8,385.3 567.7,371.9 569.6,378.6 571.6,383.9 573.5,389.3 575.4,382.6 577.4,379.9 579.3,378.6 581.2,388.0 583.2,371.9 585.1,350.4 587.0,392.0 589.0,386.6 590.9,388.0 592.8,383.9 594.7,385.3 596.7,394.7 598.6,393.3 600.5,369.2 602.5,362.5 604.4,396.0 606.3,396.0 608.3,388.0 610.2,377.2 612.1,375.9 614.1,373.2 616.0,377.2 617.9,392.0 619.9,371.9 621.8,378.6 623.7,385.3 625.6,378.6 627.6,367.8 629.5,404.1 631.4,389.3 633.4,375.9 635.3,385.3 637.2,365.1 639.2,363.8 641.1,400.1 643.0,377.2 645.0,385.3 646.9,375.9 648.8,393.3 650.8,371.9 652.7,375.9 654.6,378.6 656.5,394.7 658.5,378.6 660.4,388.0 662.3,386.6 664.3,377.2 666.2,394.7 668.1,398.7 670.1,385.3 672.0,381.3 673.9,382.6 675.9,378.6 675.9,378.6" fill="none" stroke="#0000ff" stroke-width="1.4" stroke-opacity="1.0" stroke-linejoin="round"/>
<polyline points="511.7,362.5 513.6,366.5 515.6,378.6 517.5,369.2 519.4,371.9 521.4,382.6 523.3,370.5 525.2,377.2 527.2,378.6 529.1,371.9 531.0,366.5 532.9,385.3 534.9,379.9 536.8,393.3 538.7,374.5 540.7,369.2 542.6,373.2 544.5,377.2 546.5,361.1 548.4,362.5 550.3,374.5 552.3,383.9 554.2,370.5 556.1,378.6 558.1,374.5 560.0,371.9 561.9,379.9 563.8,378.6 565.8,359.8 567.7,373.2 569.6,379.9 571.6,371.9 573.5,359.8 575.4,382.6 577.4,378.6 579.3,378.6 581.2,371.9 583.2,369.2 585.1,363.8 587.0,371.9 589.0,353.1 590.9,377.2 592.8,381.3 594.7,379.9 596.7,385.3 598.6,379.9 600.5,378.6 602.5,381.3 604.4,377.2 606.3,378.6 608.3,366.5 610.2,378.6 612.1,371.9 614.1,379.9 616.0,382.6 617.9,382.6 619.9,379.9 621.8,378.6 623.7,389.3 625.6,355.7 627.6,382.6 629.5,369.2 631.4,373.2 633.4,379.9 635.3,396.0 637.2,382.6 639.2,362.5 641.1,379.9 643.0,378.6 645.0,373.2 646.9,378.6 648.8,389.3 650.8,379.9 652.7,377.2 654.6,366.5 656.5,383.9 658.5,378.6 660.4,382.6 662.3,377.2 664.3,365.1 666.2,381.3 668.1,370.5 670.1,375.9 672.0,392.0 673.9,390.7 675.9,392.0 675.9,392.0" fill="none" stroke="#d2691e" stroke-width="1.4" stroke-opacity="1.0" stroke-linejoin="round"/>
<polyline points="511.7,387.8 513.6,377.2 515.6,381.3 517.5,373.2 519.4,390.6 521.4,367.8 523.3,379.9 525.2,381.3 527.2,375.9 529.1,371.9 531.0,369.2 532.9,370.5 534.9,374.5 536.8,381.3 538.7,389.3 540.7,371.9 542.6,379.9 544.5,362.5 546.5,378.6 548.4,374.5 550.3,367.2 552.3,401.4 554.2,369.2 556.1,371.9 558.1,371.9 560.0,381.3 561.9,378.6 563.8,355.7 565.8,369.2 567.7,383.9 569.6,371.9 571.6,371.9 573.5,362.5 575.4,383.9 577.4,383.9 579.3,371.9 581.2,369.2 583.2,362.5 585.1,365.1 587.0,363.8 589.0,362.5 590.9,388.0 592.8,359.8 594.7,371.9 596.7,381.3 598.6,375.9 600.5,385.3 602.5,388.0 604.4,377.2 606.3,377.2 608.3,379.9 610.2,383.9 612.1,389.3 614.1,353.1 616.0,375.9 617.9,383.9 619.9,402.7 621.8,371.9 623.7,374.5 625.6,365.1 627.6,381.3 629.5,371.9 631.4,385.3 633.4,374.5 635.3,373.2 637.2,381.3 639.2,385.3 641.1,365.1 643.0,379.9 645.0,388.0 646.9,369.2 648.8,381.3 650.8,382.6 652.7,374.5 654.6,389.3 656.5,401.4 658.5,377.2 660.4,346.3 662.3,365.1 664.3,379.9 666.2,377.2 668.1,375.9 670.1,381.3 672.0,373.2 673.9,377.2 675.9,394.7 675.9,394.7" fill="none" stroke="#ff0000" stroke-width="1.4" stroke-opacity="1.0" stroke-linejoin="round"/>
<polyline points="442.2,322.0 444.1,441.5 446.1,425.0 448.0,447.7 449.9,379.7 451.9,324.1 453.8,437.4 455.7,410.6 457.7,429.1 459.6,359.1 461.5,328.2 463.5,369.4 465.4,322.0 467.3,447.7 469.2,303.5 471.2,379.7 473.1,433.3 475.0,338.5 477.0,447.7 478.9,317.9 480.8,338.5 482.8,309.7 484.7,359.1 486.6,400.3 488.6,437.4 490.5,410.6 492.4,400.3 494.4,338.5 496.3,317.9 498.2,317.9 500.1,379.7 502.1,447.7 504.0,410.6 505.9,327.0 507.9,327.0 509.8,445.6" fill="none" stroke="#000000" stroke-width="1.4" stroke-opacity="1.0" stroke-linejoin="round"/>
<line x1="384.7" x2="675.9" y1="379.7" y2="379.7" stroke="#000" stroke-width="1"/>
</g>
<line x1="379.7" x2="384.7" y1="462.10" y2="462.10" stroke="#000" stroke-width="1.1"/>
<text x="377.20" y="464.25" font-size="6.10" font-weight="bold" text-anchor="end" textLength="12.7" lengthAdjust="spacingAndGlyphs" stroke="#000" stroke-width="0.30" >−40</text>
<line x1="381.1" x2="384.7" y1="451.80" y2="451.80" stroke="#000" stroke-width="0.7"/>
<line x1="379.7" x2="384.7" y1="441.50" y2="441.50" stroke="#000" stroke-width="1.1"/>
<text x="377.20" y="443.65" font-size="6.10" font-weight="bold" text-anchor="end" textLength="12.7" lengthAdjust="spacingAndGlyphs" stroke="#000" stroke-width="0.30" >−30</text>
<line x1="381.1" x2="384.7" y1="431.20" y2="431.20" stroke="#000" stroke-width="0.7"/>
<line x1="379.7" x2="384.7" y1="420.90" y2="420.90" stroke="#000" stroke-width="1.1"/>
<text x="377.20" y="423.05" font-size="6.10" font-weight="bold" text-anchor="end" textLength="12.7" lengthAdjust="spacingAndGlyphs" stroke="#000" stroke-width="0.30" >−20</text>
<line x1="381.1" x2="384.7" y1="410.60" y2="410.60" stroke="#000" stroke-width="0.7"/>
<line x1="379.7" x2="384.7" y1="400.30" y2="400.30" stroke="#000" stroke-width="1.1"/>
<text x="377.20" y="402.45" font-size="6.10" font-weight="bold" text-anchor="end" textLength="12.7" lengthAdjust="spacingAndGlyphs" stroke="#000" stroke-width="0.30" >−10</text>
<line x1="381.1" x2="384.7" y1="390.00" y2="390.00" stroke="#000" stroke-width="0.7"/>
<line x1="379.7" x2="384.7" y1="379.70" y2="379.70" stroke="#000" stroke-width="1.1"/>
<text x="377.20" y="381.85" font-size="6.10" font-weight="bold" text-anchor="end" textLength="3.9" lengthAdjust="spacingAndGlyphs" stroke="#000" stroke-width="0.30" >0</text>
<line x1="381.1" x2="384.7" y1="369.40" y2="369.40" stroke="#000" stroke-width="0.7"/>
<line x1="379.7" x2="384.7" y1="359.10" y2="359.10" stroke="#000" stroke-width="1.1"/>
<text x="377.20" y="361.25" font-size="6.10" font-weight="bold" text-anchor="end" textLength="7.9" lengthAdjust="spacingAndGlyphs" stroke="#000" stroke-width="0.30" >10</text>
<line x1="381.1" x2="384.7" y1="348.80" y2="348.80" stroke="#000" stroke-width="0.7"/>
<line x1="379.7" x2="384.7" y1="338.50" y2="338.50" stroke="#000" stroke-width="1.1"/>
<text x="377.20" y="340.65" font-size="6.10" font-weight="bold" text-anchor="end" textLength="7.9" lengthAdjust="spacingAndGlyphs" stroke="#000" stroke-width="0.30" >20</text>
<line x1="381.1" x2="384.7" y1="328.20" y2="328.20" stroke="#000" stroke-width="0.7"/>
<line x1="379.7" x2="384.7" y1="317.90" y2="317.90" stroke="#000" stroke-width="1.1"/>
<text x="377.20" y="320.05" font-size="6.10" font-weight="bold" text-anchor="end" textLength="7.9" lengthAdjust="spacingAndGlyphs" stroke="#000" stroke-width="0.30" >30</text>
<line x1="381.1" x2="384.7" y1="307.60" y2="307.60" stroke="#000" stroke-width="0.7"/>
<line x1="379.7" x2="384.7" y1="297.30" y2="297.30" stroke="#000" stroke-width="1.1"/>
<text x="377.20" y="299.45" font-size="6.10" font-weight="bold" text-anchor="end" textLength="7.9" lengthAdjust="spacingAndGlyphs" stroke="#000" stroke-width="0.30" >40</text>
<line x1="381.1" x2="384.7" y1="287.00" y2="287.00" stroke="#000" stroke-width="0.7"/>
<line x1="379.7" x2="384.7" y1="276.70" y2="276.70" stroke="#000" stroke-width="1.1"/>
<text x="377.20" y="278.85" font-size="6.10" font-weight="bold" text-anchor="end" textLength="7.9" lengthAdjust="spacingAndGlyphs" stroke="#000" stroke-width="0.30" >50</text>
<line x1="381.1" x2="384.7" y1="266.40" y2="266.40" stroke="#000" stroke-width="0.7"/>
<line x1="379.7" x2="384.7" y1="256.10" y2="256.10" stroke="#000" stroke-width="1.1"/>
<text x="377.20" y="258.25" font-size="6.10" font-weight="bold" text-anchor="end" textLength="7.9" lengthAdjust="spacingAndGlyphs" stroke="#000" stroke-width="0.30" >60</text>
<line x1="386.20" x2="386.20" y1="462.1" y2="466.6" stroke="#000" stroke-width="1.0"/>
<text x="386.20" y="473.20" font-size="6.10" font-weight="bold" text-anchor="middle" textLength="16.3" lengthAdjust="spacingAndGlyphs" stroke="#000" stroke-width="0.30" >1950</text>
<line x1="388.13" x2="388.13" y1="462.1" y2="465.5" stroke="#000" stroke-width="0.6"/>
<line x1="390.06" x2="390.06" y1="462.1" y2="465.5" stroke="#000" stroke-width="0.6"/>
<line x1="391.99" x2="391.99" y1="462.1" y2="465.5" stroke="#000" stroke-width="0.6"/>
<line x1="393.93" x2="393.93" y1="462.1" y2="465.5" stroke="#000" stroke-width="0.6"/>
<line x1="395.86" x2="395.86" y1="462.1" y2="465.5" stroke="#000" stroke-width="0.6"/>
<line x1="397.79" x2="397.79" y1="462.1" y2="465.5" stroke="#000" stroke-width="0.6"/>
<line x1="399.72" x2="399.72" y1="462.1" y2="465.5" stroke="#000" stroke-width="0.6"/>
<line x1="401.65" x2="401.65" y1="462.1" y2="465.5" stroke="#000" stroke-width="0.6"/>
<line x1="403.58" x2="403.58" y1="462.1" y2="465.5" stroke="#000" stroke-width="0.6"/>
<line x1="405.51" x2="405.51" y1="462.1" y2="466.6" stroke="#000" stroke-width="1.0"/>
<text x="405.51" y="473.20" font-size="6.10" font-weight="bold" text-anchor="middle" textLength="16.3" lengthAdjust="spacingAndGlyphs" stroke="#000" stroke-width="0.30" >1960</text>
<line x1="407.44" x2="407.44" y1="462.1" y2="465.5" stroke="#000" stroke-width="0.6"/>
<line x1="409.38" x2="409.38" y1="462.1" y2="465.5" stroke="#000" stroke-width="0.6"/>
<line x1="411.31" x2="411.31" y1="462.1" y2="465.5" stroke="#000" stroke-width="0.6"/>
<line x1="413.24" x2="413.24" y1="462.1" y2="465.5" stroke="#000" stroke-width="0.6"/>
<line x1="415.17" x2="415.17" y1="462.1" y2="465.5" stroke="#000" stroke-width="0.6"/>
<line x1="417.10" x2="417.10" y1="462.1" y2="465.5" stroke="#000" stroke-width="0.6"/>
<line x1="419.03" x2="419.03" y1="462.1" y2="465.5" stroke="#000" stroke-width="0.6"/>
<line x1="420.96" x2="420.96" y1="462.1" y2="465.5" stroke="#000" stroke-width="0.6"/>
<line x1="422.90" x2="422.90" y1="462.1" y2="465.5" stroke="#000" stroke-width="0.6"/>
<line x1="424.83" x2="424.83" y1="462.1" y2="466.6" stroke="#000" stroke-width="1.0"/>
<text x="424.83" y="473.20" font-size="6.10" font-weight="bold" text-anchor="middle" textLength="16.3" lengthAdjust="spacingAndGlyphs" stroke="#000" stroke-width="0.30" >1970</text>
<line x1="426.76" x2="426.76" y1="462.1" y2="465.5" stroke="#000" stroke-width="0.6"/>
<line x1="428.69" x2="428.69" y1="462.1" y2="465.5" stroke="#000" stroke-width="0.6"/>
<line x1="430.62" x2="430.62" y1="462.1" y2="465.5" stroke="#000" stroke-width="0.6"/>
<line x1="432.55" x2="432.55" y1="462.1" y2="465.5" stroke="#000" stroke-width="0.6"/>
<line x1="434.48" x2="434.48" y1="462.1" y2="465.5" stroke="#000" stroke-width="0.6"/>
<line x1="436.41" x2="436.41" y1="462.1" y2="465.5" stroke="#000" stroke-width="0.6"/>
<line x1="438.35" x2="438.35" y1="462.1" y2="465.5" stroke="#000" stroke-width="0.6"/>
<line x1="440.28" x2="440.28" y1="462.1" y2="465.5" stroke="#000" stroke-width="0.6"/>
<line x1="442.21" x2="442.21" y1="462.1" y2="465.5" stroke="#000" stroke-width="0.6"/>
<line x1="444.14" x2="444.14" y1="462.1" y2="466.6" stroke="#000" stroke-width="1.0"/>
<text x="444.14" y="473.20" font-size="6.10" font-weight="bold" text-anchor="middle" textLength="16.3" lengthAdjust="spacingAndGlyphs" stroke="#000" stroke-width="0.30" >1980</text>
<line x1="446.07" x2="446.07" y1="462.1" y2="465.5" stroke="#000" stroke-width="0.6"/>
<line x1="448.00" x2="448.00" y1="462.1" y2="465.5" stroke="#000" stroke-width="0.6"/>
<line x1="449.93" x2="449.93" y1="462.1" y2="465.5" stroke="#000" stroke-width="0.6"/>
<line x1="451.87" x2="451.87" y1="462.1" y2="465.5" stroke="#000" stroke-width="0.6"/>
<line x1="453.80" x2="453.80" y1="462.1" y2="465.5" stroke="#000" stroke-width="0.6"/>
<line x1="455.73" x2="455.73" y1="462.1" y2="465.5" stroke="#000" stroke-width="0.6"/>
<line x1="457.66" x2="457.66" y1="462.1" y2="465.5" stroke="#000" stroke-width="0.6"/>
<line x1="459.59" x2="459.59" y1="462.1" y2="465.5" stroke="#000" stroke-width="0.6"/>
<line x1="461.52" x2="461.52" y1="462.1" y2="465.5" stroke="#000" stroke-width="0.6"/>
<line x1="463.45" x2="463.45" y1="462.1" y2="466.6" stroke="#000" stroke-width="1.0"/>
<text x="463.45" y="473.20" font-size="6.10" font-weight="bold" text-anchor="middle" textLength="16.3" lengthAdjust="spacingAndGlyphs" stroke="#000" stroke-width="0.30" >1990</text>
<line x1="465.38" x2="465.38" y1="462.1" y2="465.5" stroke="#000" stroke-width="0.6"/>
<line x1="467.32" x2="467.32" y1="462.1" y2="465.5" stroke="#000" stroke-width="0.6"/>
<line x1="469.25" x2="469.25" y1="462.1" y2="465.5" stroke="#000" stroke-width="0.6"/>
<line x1="471.18" x2="471.18" y1="462.1" y2="465.5" stroke="#000" stroke-width="0.6"/>
<line x1="473.11" x2="473.11" y1="462.1" y2="465.5" stroke="#000" stroke-width="0.6"/>
<line x1="475.04" x2="475.04" y1="462.1" y2="465.5" stroke="#000" stroke-width="0.6"/>
<line x1="476.97" x2="476.97" y1="462.1" y2="465.5" stroke="#000" stroke-width="0.6"/>
<line x1="478.90" x2="478.90" y1="462.1" y2="465.5" stroke="#000" stroke-width="0.6"/>
<line x1="480.84" x2="480.84" y1="462.1" y2="465.5" stroke="#000" stroke-width="0.6"/>
<line x1="482.77" x2="482.77" y1="462.1" y2="466.6" stroke="#000" stroke-width="1.0"/>
<text x="482.77" y="473.20" font-size="6.10" font-weight="bold" text-anchor="middle" textLength="16.3" lengthAdjust="spacingAndGlyphs" stroke="#000" stroke-width="0.30" >2000</text>
<line x1="484.70" x2="484.70" y1="462.1" y2="465.5" stroke="#000" stroke-width="0.6"/>
<line x1="486.63" x2="486.63" y1="462.1" y2="465.5" stroke="#000" stroke-width="0.6"/>
<line x1="488.56" x2="488.56" y1="462.1" y2="465.5" stroke="#000" stroke-width="0.6"/>
<line x1="490.49" x2="490.49" y1="462.1" y2="465.5" stroke="#000" stroke-width="0.6"/>
<line x1="492.42" x2="492.42" y1="462.1" y2="465.5" stroke="#000" stroke-width="0.6"/>
<line x1="494.35" x2="494.35" y1="462.1" y2="465.5" stroke="#000" stroke-width="0.6"/>
<line x1="496.29" x2="496.29" y1="462.1" y2="465.5" stroke="#000" stroke-width="0.6"/>
<line x1="498.22" x2="498.22" y1="462.1" y2="465.5" stroke="#000" stroke-width="0.6"/>
<line x1="500.15" x2="500.15" y1="462.1" y2="465.5" stroke="#000" stroke-width="0.6"/>
<line x1="502.08" x2="502.08" y1="462.1" y2="466.6" stroke="#000" stroke-width="1.0"/>
<text x="502.08" y="473.20" font-size="6.10" font-weight="bold" text-anchor="middle" textLength="16.3" lengthAdjust="spacingAndGlyphs" stroke="#000" stroke-width="0.30" >2010</text>
<line x1="504.01" x2="504.01" y1="462.1" y2="465.5" stroke="#000" stroke-width="0.6"/>
<line x1="505.94" x2="505.94" y1="462.1" y2="465.5" stroke="#000" stroke-width="0.6"/>
<line x1="507.87" x2="507.87" y1="462.1" y2="465.5" stroke="#000" stroke-width="0.6"/>
<line x1="509.81" x2="509.81" y1="462.1" y2="465.5" stroke="#000" stroke-width="0.6"/>
<line x1="511.74" x2="511.74" y1="462.1" y2="465.5" stroke="#000" stroke-width="0.6"/>
<line x1="513.67" x2="513.67" y1="462.1" y2="465.5" stroke="#000" stroke-width="0.6"/>
<line x1="515.60" x2="515.60" y1="462.1" y2="465.5" stroke="#000" stroke-width="0.6"/>
<line x1="517.53" x2="517.53" y1="462.1" y2="465.5" stroke="#000" stroke-width="0.6"/>
<line x1="519.46" x2="519.46" y1="462.1" y2="465.5" stroke="#000" stroke-width="0.6"/>
<line x1="521.39" x2="521.39" y1="462.1" y2="466.6" stroke="#000" stroke-width="1.0"/>
<text x="521.39" y="473.20" font-size="6.10" font-weight="bold" text-anchor="middle" textLength="16.3" lengthAdjust="spacingAndGlyphs" stroke="#000" stroke-width="0.30" >2020</text>
<line x1="523.32" x2="523.32" y1="462.1" y2="465.5" stroke="#000" stroke-width="0.6"/>
<line x1="525.26" x2="525.26" y1="462.1" y2="465.5" stroke="#000" stroke-width="0.6"/>
<line x1="527.19" x2="527.19" y1="462.1" y2="465.5" stroke="#000" stroke-width="0.6"/>
<line x1="529.12" x2="529.12" y1="462.1" y2="465.5" stroke="#000" stroke-width="0.6"/>
<line x1="531.05" x2="531.05" y1="462.1" y2="465.5" stroke="#000" stroke-width="0.6"/>
<line x1="532.98" x2="532.98" y1="462.1" y2="465.5" stroke="#000" stroke-width="0.6"/>
<line x1="534.91" x2="534.91" y1="462.1" y2="465.5" stroke="#000" stroke-width="0.6"/>
<line x1="536.84" x2="536.84" y1="462.1" y2="465.5" stroke="#000" stroke-width="0.6"/>
<line x1="538.78" x2="538.78" y1="462.1" y2="465.5" stroke="#000" stroke-width="0.6"/>
<line x1="540.71" x2="540.71" y1="462.1" y2="466.6" stroke="#000" stroke-width="1.0"/>
<text x="540.71" y="473.20" font-size="6.10" font-weight="bold" text-anchor="middle" textLength="16.3" lengthAdjust="spacingAndGlyphs" stroke="#000" stroke-width="0.30" >2030</text>
<line x1="542.64" x2="542.64" y1="462.1" y2="465.5" stroke="#000" stroke-width="0.6"/>
<line x1="544.57" x2="544.57" y1="462.1" y2="465.5" stroke="#000" stroke-width="0.6"/>
<line x1="546.50" x2="546.50" y1="462.1" y2="465.5" stroke="#000" stroke-width="0.6"/>
<line x1="548.43" x2="548.43" y1="462.1" y2="465.5" stroke="#000" stroke-width="0.6"/>
<line x1="550.36" x2="550.36" y1="462.1" y2="465.5" stroke="#000" stroke-width="0.6"/>
<line x1="552.29" x2="552.29" y1="462.1" y2="465.5" stroke="#000" stroke-width="0.6"/>
<line x1="554.23" x2="554.23" y1="462.1" y2="465.5" stroke="#000" stroke-width="0.6"/>
<line x1="556.16" x2="556.16" y1="462.1" y2="465.5" stroke="#000" stroke-width="0.6"/>
<line x1="558.09" x2="558.09" y1="462.1" y2="465.5" stroke="#000" stroke-width="0.6"/>
<line x1="560.02" x2="560.02" y1="462.1" y2="466.6" stroke="#000" stroke-width="1.0"/>
<text x="560.02" y="473.20" font-size="6.10" font-weight="bold" text-anchor="middle" textLength="16.3" lengthAdjust="spacingAndGlyphs" stroke="#000" stroke-width="0.30" >2040</text>
<line x1="561.95" x2="561.95" y1="462.1" y2="465.5" stroke="#000" stroke-width="0.6"/>
<line x1="563.88" x2="563.88" y1="462.1" y2="465.5" stroke="#000" stroke-width="0.6"/>
<line x1="565.81" x2="565.81" y1="462.1" y2="465.5" stroke="#000" stroke-width="0.6"/>
<line x1="567.75" x2="567.75" y1="462.1" y2="465.5" stroke="#000" stroke-width="0.6"/>
<line x1="569.68" x2="569.68" y1="462.1" y2="465.5" stroke="#000" stroke-width="0.6"/>
<line x1="571.61" x2="571.61" y1="462.1" y2="465.5" stroke="#000" stroke-width="0.6"/>
<line x1="573.54" x2="573.54" y1="462.1" y2="465.5" stroke="#000" stroke-width="0.6"/>
<line x1="575.47" x2="575.47" y1="462.1" y2="465.5" stroke="#000" stroke-width="0.6"/>
<line x1="577.40" x2="577.40" y1="462.1" y2="465.5" stroke="#000" stroke-width="0.6"/>
<line x1="579.33" x2="579.33" y1="462.1" y2="466.6" stroke="#000" stroke-width="1.0"/>
<text x="579.33" y="473.20" font-size="6.10" font-weight="bold" text-anchor="middle" textLength="16.3" lengthAdjust="spacingAndGlyphs" stroke="#000" stroke-width="0.30" >2050</text>
<line x1="581.26" x2="581.26" y1="462.1" y2="465.5" stroke="#000" stroke-width="0.6"/>
<line x1="583.20" x2="583.20" y1="462.1" y2="465.5" stroke="#000" stroke-width="0.6"/>
<line x1="585.13" x2="585.13" y1="462.1" y2="465.5" stroke="#000" stroke-width="0.6"/>
<line x1="587.06" x2="587.06" y1="462.1" y2="465.5" stroke="#000" stroke-width="0.6"/>
<line x1="588.99" x2="588.99" y1="462.1" y2="465.5" stroke="#000" stroke-width="0.6"/>
<line x1="590.92" x2="590.92" y1="462.1" y2="465.5" stroke="#000" stroke-width="0.6"/>
<line x1="592.85" x2="592.85" y1="462.1" y2="465.5" stroke="#000" stroke-width="0.6"/>
<line x1="594.78" x2="594.78" y1="462.1" y2="465.5" stroke="#000" stroke-width="0.6"/>
<line x1="596.72" x2="596.72" y1="462.1" y2="465.5" stroke="#000" stroke-width="0.6"/>
<line x1="598.65" x2="598.65" y1="462.1" y2="466.6" stroke="#000" stroke-width="1.0"/>
<text x="598.65" y="473.20" font-size="6.10" font-weight="bold" text-anchor="middle" textLength="16.3" lengthAdjust="spacingAndGlyphs" stroke="#000" stroke-width="0.30" >2060</text>
<line x1="600.58" x2="600.58" y1="462.1" y2="465.5" stroke="#000" stroke-width="0.6"/>
<line x1="602.51" x2="602.51" y1="462.1" y2="465.5" stroke="#000" stroke-width="0.6"/>
<line x1="604.44" x2="604.44" y1="462.1" y2="465.5" stroke="#000" stroke-width="0.6"/>
<line x1="606.37" x2="606.37" y1="462.1" y2="465.5" stroke="#000" stroke-width="0.6"/>
<line x1="608.30" x2="608.30" y1="462.1" y2="465.5" stroke="#000" stroke-width="0.6"/>
<line x1="610.23" x2="610.23" y1="462.1" y2="465.5" stroke="#000" stroke-width="0.6"/>
<line x1="612.17" x2="612.17" y1="462.1" y2="465.5" stroke="#000" stroke-width="0.6"/>
<line x1="614.10" x2="614.10" y1="462.1" y2="465.5" stroke="#000" stroke-width="0.6"/>
<line x1="616.03" x2="616.03" y1="462.1" y2="465.5" stroke="#000" stroke-width="0.6"/>
<line x1="617.96" x2="617.96" y1="462.1" y2="466.6" stroke="#000" stroke-width="1.0"/>
<text x="617.96" y="473.20" font-size="6.10" font-weight="bold" text-anchor="middle" textLength="16.3" lengthAdjust="spacingAndGlyphs" stroke="#000" stroke-width="0.30" >2070</text>
<line x1="619.89" x2="619.89" y1="462.1" y2="465.5" stroke="#000" stroke-width="0.6"/>
<line x1="621.82" x2="621.82" y1="462.1" y2="465.5" stroke="#000" stroke-width="0.6"/>
<line x1="623.75" x2="623.75" y1="462.1" y2="465.5" stroke="#000" stroke-width="0.6"/>
<line x1="625.69" x2="625.69" y1="462.1" y2="465.5" stroke="#000" stroke-width="0.6"/>
<line x1="627.62" x2="627.62" y1="462.1" y2="465.5" stroke="#000" stroke-width="0.6"/>
<line x1="629.55" x2="629.55" y1="462.1" y2="465.5" stroke="#000" stroke-width="0.6"/>
<line x1="631.48" x2="631.48" y1="462.1" y2="465.5" stroke="#000" stroke-width="0.6"/>
<line x1="633.41" x2="633.41" y1="462.1" y2="465.5" stroke="#000" stroke-width="0.6"/>
<line x1="635.34" x2="635.34" y1="462.1" y2="465.5" stroke="#000" stroke-width="0.6"/>
<line x1="637.27" x2="637.27" y1="462.1" y2="466.6" stroke="#000" stroke-width="1.0"/>
<text x="637.27" y="473.20" font-size="6.10" font-weight="bold" text-anchor="middle" textLength="16.3" lengthAdjust="spacingAndGlyphs" stroke="#000" stroke-width="0.30" >2080</text>
<line x1="639.20" x2="639.20" y1="462.1" y2="465.5" stroke="#000" stroke-width="0.6"/>
<line x1="641.14" x2="641.14" y1="462.1" y2="465.5" stroke="#000" stroke-width="0.6"/>
<line x1="643.07" x2="643.07" y1="462.1" y2="465.5" stroke="#000" stroke-width="0.6"/>
<line x1="645.00" x2="645.00" y1="462.1" y2="465.5" stroke="#000" stroke-width="0.6"/>
<line x1="646.93" x2="646.93" y1="462.1" y2="465.5" stroke="#000" stroke-width="0.6"/>
<line x1="648.86" x2="648.86" y1="462.1" y2="465.5" stroke="#000" stroke-width="0.6"/>
<line x1="650.79" x2="650.79" y1="462.1" y2="465.5" stroke="#000" stroke-width="0.6"/>
<line x1="652.72" x2="652.72" y1="462.1" y2="465.5" stroke="#000" stroke-width="0.6"/>
<line x1="654.66" x2="654.66" y1="462.1" y2="465.5" stroke="#000" stroke-width="0.6"/>
<line x1="656.59" x2="656.59" y1="462.1" y2="466.6" stroke="#000" stroke-width="1.0"/>
<text x="656.59" y="473.20" font-size="6.10" font-weight="bold" text-anchor="middle" textLength="16.3" lengthAdjust="spacingAndGlyphs" stroke="#000" stroke-width="0.30" >2090</text>
<line x1="658.52" x2="658.52" y1="462.1" y2="465.5" stroke="#000" stroke-width="0.6"/>
<line x1="660.45" x2="660.45" y1="462.1" y2="465.5" stroke="#000" stroke-width="0.6"/>
<line x1="662.38" x2="662.38" y1="462.1" y2="465.5" stroke="#000" stroke-width="0.6"/>
<line x1="664.31" x2="664.31" y1="462.1" y2="465.5" stroke="#000" stroke-width="0.6"/>
<line x1="666.24" x2="666.24" y1="462.1" y2="465.5" stroke="#000" stroke-width="0.6"/>
<line x1="668.17" x2="668.17" y1="462.1" y2="465.5" stroke="#000" stroke-width="0.6"/>
<line x1="670.11" x2="670.11" y1="462.1" y2="465.5" stroke="#000" stroke-width="0.6"/>
<line x1="672.04" x2="672.04" y1="462.1" y2="465.5" stroke="#000" stroke-width="0.6"/>
<line x1="673.97" x2="673.97" y1="462.1" y2="465.5" stroke="#000" stroke-width="0.6"/>
<line x1="675.90" x2="675.90" y1="462.1" y2="466.6" stroke="#000" stroke-width="1.0"/>
<text x="675.90" y="473.20" font-size="6.10" font-weight="bold" text-anchor="middle" textLength="16.3" lengthAdjust="spacingAndGlyphs" stroke="#000" stroke-width="0.30" >2100</text>
<rect x="384.7" y="256.1" width="291.2" height="206.0" fill="none" stroke="#000" stroke-width="1.4"/>
<text x="530.30" y="482.20" font-size="7.50" font-weight="bold" text-anchor="middle" textLength="17.6" lengthAdjust="spacingAndGlyphs" stroke="#000" stroke-width="0.30" >Year</text>
<text x="0.00" y="0.00" font-size="7.40" font-weight="bold" text-anchor="middle" textLength="84.8" lengthAdjust="spacingAndGlyphs" stroke="#000" stroke-width="0.25" transform="translate(360.70,361.90) rotate(-90)">Consecutive Dry Days</text>
<text x="384.40" y="252.00" font-size="11.30" font-weight="bold" text-anchor="start" textLength="14.2" lengthAdjust="spacingAndGlyphs" stroke="#000" stroke-width="0.10" >(d)</text>
<rect x="386.4" y="258.5" width="96.4" height="62.7" rx="1" fill="#fff" fill-opacity="0.8" stroke="#d8d8d8" stroke-width="0.5"/>
<line x1="388.5" x2="398.8" y1="262.40" y2="262.40" stroke="#000000" stroke-width="1.4"/>
<text x="402.00" y="264.00" font-size="5.00" font-weight="bold" text-anchor="start" textLength="26.8" lengthAdjust="spacing" stroke="#000" stroke-width="0.28" >CPC (Obs)</text>
<line x1="388.5" x2="398.8" y1="269.27" y2="269.27" stroke="#008000" stroke-width="1.4"/>
<text x="402.00" y="270.87" font-size="5.00" font-weight="bold" text-anchor="start" textLength="49.8" lengthAdjust="spacing" stroke="#000" stroke-width="0.28" >CMIP6-MMM (Hist)</text>
<line x1="388.5" x2="398.8" y1="276.14" y2="276.14" stroke="#0000ff" stroke-width="1.4"/>
<text x="402.00" y="277.74" font-size="5.00" font-weight="bold" text-anchor="start" textLength="60.8" lengthAdjust="spacing" stroke="#000" stroke-width="0.28" >CMIP6-MMM (SSP 126)</text>
<line x1="388.5" x2="398.8" y1="283.01" y2="283.01" stroke="#d2691e" stroke-width="1.4"/>
<text x="402.00" y="284.61" font-size="5.00" font-weight="bold" text-anchor="start" textLength="60.8" lengthAdjust="spacing" stroke="#000" stroke-width="0.28" >CMIP6-MMM (SSP 245)</text>
<line x1="388.5" x2="398.8" y1="289.88" y2="289.88" stroke="#ff0000" stroke-width="1.4"/>
<text x="402.00" y="291.48" font-size="5.00" font-weight="bold" text-anchor="start" textLength="60.8" lengthAdjust="spacing" stroke="#000" stroke-width="0.28" >CMIP6-MMM (SSP 585)</text>
<rect x="388.5" y="295.25" width="10.3" height="3.0" fill="#bdb76b"/>
<text x="402.00" y="298.35" font-size="5.00" font-weight="bold" text-anchor="start" textLength="68.2" lengthAdjust="spacing" stroke="#000" stroke-width="0.28" >CMIP6-MMM (Hist +/- SD)</text>
<rect x="388.5" y="302.12" width="10.3" height="3.0" fill="#87cefa"/>
<text x="402.00" y="305.22" font-size="5.00" font-weight="bold" text-anchor="start" textLength="79.2" lengthAdjust="spacing" stroke="#000" stroke-width="0.28" >CMIP6-MMM (SSP 126 +/- SD)</text>
<rect x="388.5" y="308.99" width="10.3" height="3.0" fill="#ffdab9"/>
<text x="402.00" y="312.09" font-size="5.00" font-weight="bold" text-anchor="start" textLength="79.2" lengthAdjust="spacing" stroke="#000" stroke-width="0.28" >CMIP6-MMM (SSP 245 +/- SD)</text>
<rect x="388.5" y="315.86" width="10.3" height="3.0" fill="#fa8072"/>
<text x="402.00" y="318.96" font-size="5.00" font-weight="bold" text-anchor="start" textLength="79.2" lengthAdjust="spacing" stroke="#000" stroke-width="0.28" >CMIP6-MMM (SSP 585 +/- SD)</text>
</svg>
</body></html>
